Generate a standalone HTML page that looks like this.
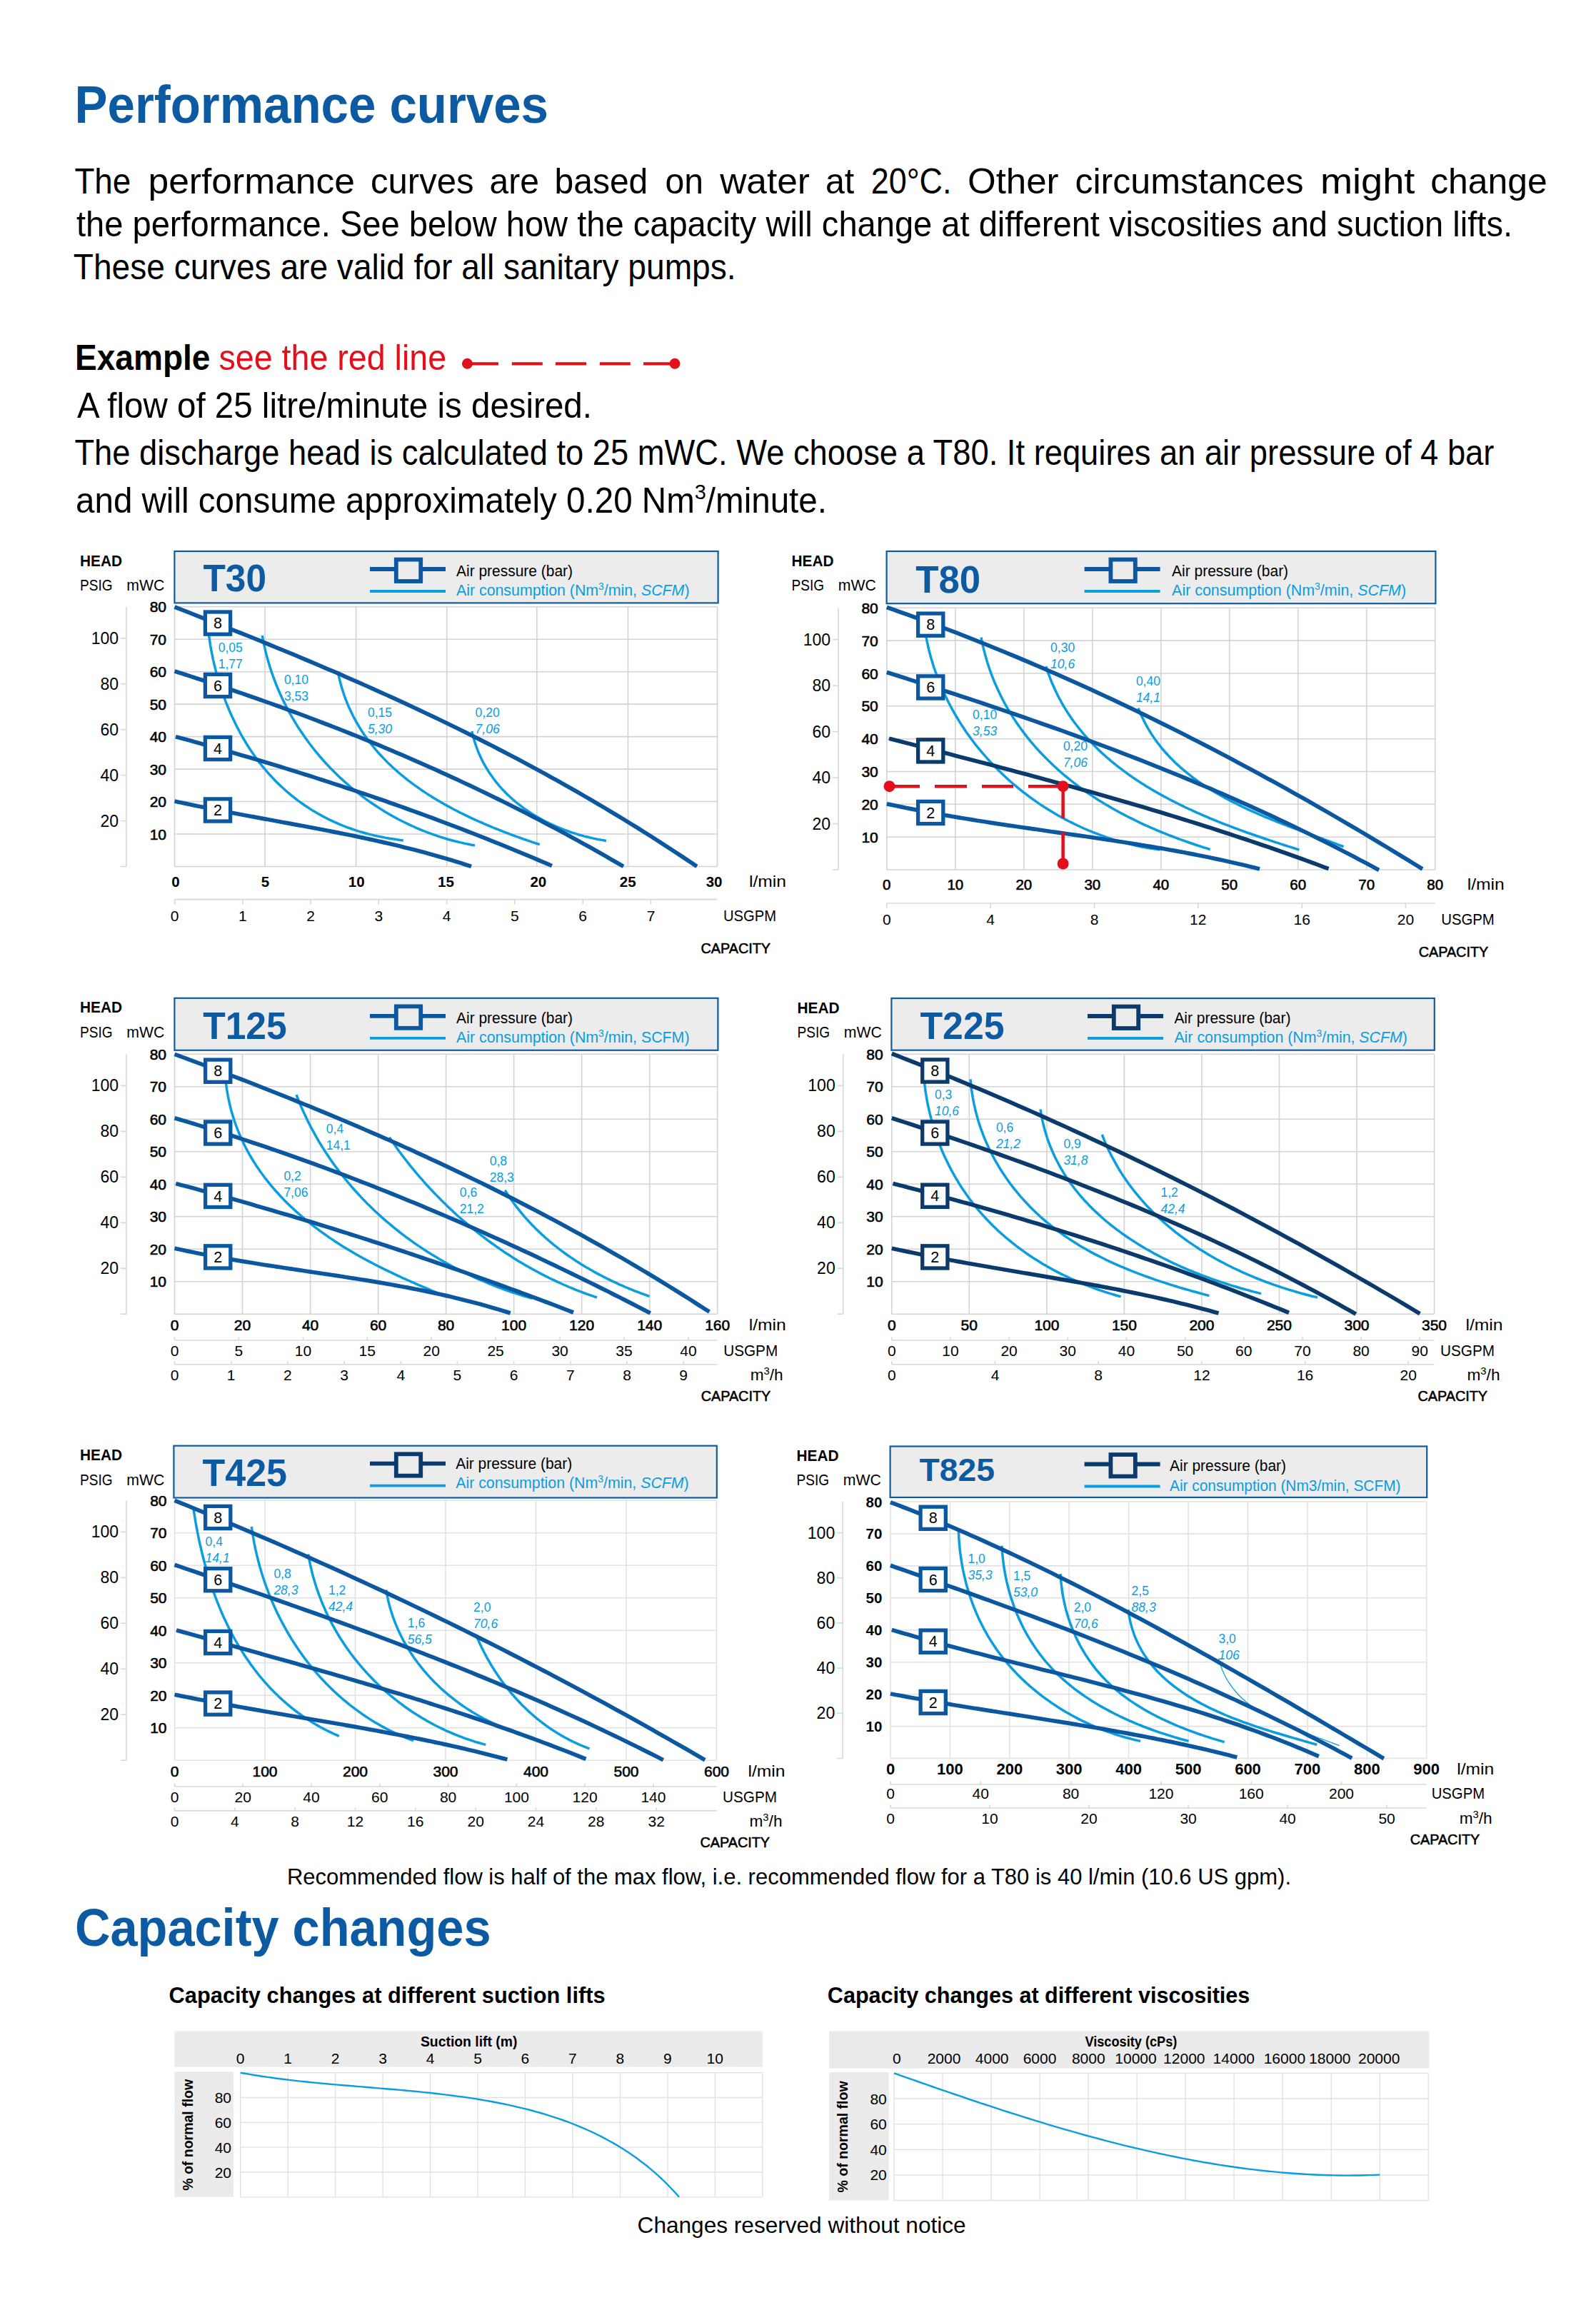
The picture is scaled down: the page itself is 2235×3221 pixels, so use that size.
<!DOCTYPE html>
<html><head><meta charset="utf-8"><title>Performance curves</title>
<style>html,body{margin:0;padding:0;background:#fff;} body{width:2235px;height:3221px;overflow:hidden;font-family:"Liberation Sans", sans-serif;} svg{display:block;}</style>
</head><body>
<svg width="2235" height="3221" viewBox="0 0 2235 3221" font-family='"Liberation Sans", sans-serif'><rect x="0" y="0" width="2235" height="3221" fill="#fff"/>
<text x="104.5" y="172.1" font-size="73.4" font-weight="bold" fill="#0b5aa2" textLength="663.5" lengthAdjust="spacingAndGlyphs">Performance curves</text>
<text x="104.4" y="271.1" font-size="49.4" textLength="78.9" lengthAdjust="spacingAndGlyphs">The</text>
<text x="207.5" y="271.1" font-size="49.4" textLength="289.5" lengthAdjust="spacingAndGlyphs">performance</text>
<text x="518.9" y="271.1" font-size="49.4" textLength="144.7" lengthAdjust="spacingAndGlyphs">curves</text>
<text x="685.5" y="271.1" font-size="49.4" textLength="69.3" lengthAdjust="spacingAndGlyphs">are</text>
<text x="776.6" y="271.1" font-size="49.4" textLength="130.7" lengthAdjust="spacingAndGlyphs">based</text>
<text x="931.4" y="271.1" font-size="49.4" textLength="53.5" lengthAdjust="spacingAndGlyphs">on</text>
<text x="1008.2" y="271.1" font-size="49.4" textLength="125.8" lengthAdjust="spacingAndGlyphs">water</text>
<text x="1156.0" y="271.1" font-size="49.4" textLength="40.3" lengthAdjust="spacingAndGlyphs">at</text>
<text x="1219.7" y="271.1" font-size="49.4" textLength="112.8" lengthAdjust="spacingAndGlyphs">20°C.</text>
<text x="1355.0" y="271.1" font-size="49.4" textLength="127.6" lengthAdjust="spacingAndGlyphs">Other</text>
<text x="1505.4" y="271.1" font-size="49.4" textLength="320.2" lengthAdjust="spacingAndGlyphs">circumstances</text>
<text x="1848.9" y="271.1" font-size="49.4" textLength="132.4" lengthAdjust="spacingAndGlyphs">might</text>
<text x="2003.2" y="271.1" font-size="49.4" textLength="163.4" lengthAdjust="spacingAndGlyphs">change</text>
<text x="107.0" y="330.9" font-size="49.4" textLength="2011.0" lengthAdjust="spacingAndGlyphs">the performance. See below how the capacity will change at different viscosities and suction lifts.</text>
<text x="102.8" y="391.0" font-size="49.4" textLength="927.8" lengthAdjust="spacingAndGlyphs">These curves are valid for all sanitary pumps.</text>
<text x="105.0" y="518.0" font-size="49.4" font-weight="bold" textLength="189.5" lengthAdjust="spacingAndGlyphs">Example</text>
<text x="306.4" y="518.0" font-size="49.4" fill="#e2101a" textLength="318.8" lengthAdjust="spacingAndGlyphs">see the red line</text>
<line x1="654.4" y1="509.3" x2="698.0" y2="509.3" stroke="#e2101a" stroke-width="4.2" />
<line x1="716.8" y1="509.3" x2="759.8" y2="509.3" stroke="#e2101a" stroke-width="4.2" />
<line x1="778.0" y1="509.3" x2="821.0" y2="509.3" stroke="#e2101a" stroke-width="4.2" />
<line x1="839.8" y1="509.3" x2="882.8" y2="509.3" stroke="#e2101a" stroke-width="4.2" />
<line x1="901.0" y1="509.3" x2="945.0" y2="509.3" stroke="#e2101a" stroke-width="4.2" />
<circle cx="654.4" cy="509.3" r="7.5" fill="#e2101a"/>
<circle cx="945" cy="509.3" r="7.5" fill="#e2101a"/>
<text x="108.0" y="584.7" font-size="49.4" textLength="721.0" lengthAdjust="spacingAndGlyphs">A flow of 25 litre/minute is desired.</text>
<text x="104.4" y="650.7" font-size="49.4" textLength="1988.0" lengthAdjust="spacingAndGlyphs">The discharge head is calculated to 25 mWC. We choose a T80. It requires an air pressure of 4 bar</text>
<text x="106.0" y="717.5" font-size="49.4" textLength="1052.0" lengthAdjust="spacingAndGlyphs">and will consume approximately 0.20 Nm<tspan font-size="30" dy="-19">3</tspan><tspan dy="19">/minute.</tspan></text>
<rect x="244.4" y="772.0" width="761.2" height="72.4" fill="#ececec" stroke="#0f5c9e" stroke-width="2.2" />
<text x="284.5" y="828.3" font-size="53" font-weight="bold" fill="#0b5aa2" textLength="88.5" lengthAdjust="spacingAndGlyphs">T30</text>
<line x1="518.0" y1="797.0" x2="624.0" y2="797.0" stroke="#0b57a0" stroke-width="5.8" />
<rect x="554.8" y="783.6" width="34.4" height="30.4" fill="#ececec" stroke="#0b57a0" stroke-width="5.8" />
<line x1="518.0" y1="828.0" x2="624.0" y2="828.0" stroke="#0a9de0" stroke-width="3.8" />
<text x="639.0" y="806.8" font-size="21.5" textLength="163.0" lengthAdjust="spacingAndGlyphs">Air pressure (bar)</text>
<text x="639.0" y="834.2" font-size="21.5" fill="#0a9de0" textLength="326.5" lengthAdjust="spacingAndGlyphs">Air consumption (Nm<tspan font-size="14" dy="-8">3</tspan><tspan dy="8">/min, </tspan><tspan font-style="italic">SCFM</tspan>)</text>
<text x="112.0" y="792.5" font-size="21.5" font-weight="bold" textLength="59.0" lengthAdjust="spacingAndGlyphs">HEAD</text>
<text x="112.0" y="826.8" font-size="21.5" textLength="45.5" lengthAdjust="spacingAndGlyphs">PSIG</text>
<text x="177.3" y="826.8" font-size="21.5" textLength="53.0" lengthAdjust="spacingAndGlyphs">mWC</text>
<line x1="244.5" y1="1213.5" x2="1004.5" y2="1213.5" stroke="#d3d3d3" stroke-width="1.6" />
<line x1="244.5" y1="1168.0" x2="1004.5" y2="1168.0" stroke="#d3d3d3" stroke-width="1.6" />
<line x1="244.5" y1="1122.5" x2="1004.5" y2="1122.5" stroke="#d3d3d3" stroke-width="1.6" />
<line x1="244.5" y1="1077.1" x2="1004.5" y2="1077.1" stroke="#d3d3d3" stroke-width="1.6" />
<line x1="244.5" y1="1031.6" x2="1004.5" y2="1031.6" stroke="#d3d3d3" stroke-width="1.6" />
<line x1="244.5" y1="986.1" x2="1004.5" y2="986.1" stroke="#d3d3d3" stroke-width="1.6" />
<line x1="244.5" y1="940.7" x2="1004.5" y2="940.7" stroke="#d3d3d3" stroke-width="1.6" />
<line x1="244.5" y1="895.2" x2="1004.5" y2="895.2" stroke="#d3d3d3" stroke-width="1.6" />
<line x1="244.5" y1="849.7" x2="1004.5" y2="849.7" stroke="#d3d3d3" stroke-width="1.6" />
<line x1="244.5" y1="849.7" x2="244.5" y2="1213.5" stroke="#d3d3d3" stroke-width="1.6" />
<line x1="371.0" y1="849.7" x2="371.0" y2="1213.5" stroke="#d3d3d3" stroke-width="1.6" />
<line x1="498.6" y1="849.7" x2="498.6" y2="1213.5" stroke="#d3d3d3" stroke-width="1.6" />
<line x1="625.7" y1="849.7" x2="625.7" y2="1213.5" stroke="#d3d3d3" stroke-width="1.6" />
<line x1="751.8" y1="849.7" x2="751.8" y2="1213.5" stroke="#d3d3d3" stroke-width="1.6" />
<line x1="879.5" y1="849.7" x2="879.5" y2="1213.5" stroke="#d3d3d3" stroke-width="1.6" />
<line x1="1004.5" y1="849.7" x2="1004.5" y2="1213.5" stroke="#d3d3d3" stroke-width="1.6" />
<text x="233.0" y="1175.5" font-size="21" stroke="#000" stroke-width="0.6" text-anchor="end">10</text>
<text x="233.0" y="1130.0" font-size="21" stroke="#000" stroke-width="0.6" text-anchor="end">20</text>
<text x="233.0" y="1084.6" font-size="21" stroke="#000" stroke-width="0.6" text-anchor="end">30</text>
<text x="233.0" y="1039.1" font-size="21" stroke="#000" stroke-width="0.6" text-anchor="end">40</text>
<text x="233.0" y="993.6" font-size="21" stroke="#000" stroke-width="0.6" text-anchor="end">50</text>
<text x="233.0" y="948.2" font-size="21" stroke="#000" stroke-width="0.6" text-anchor="end">60</text>
<text x="233.0" y="902.7" font-size="21" stroke="#000" stroke-width="0.6" text-anchor="end">70</text>
<text x="233.0" y="857.2" font-size="21" stroke="#000" stroke-width="0.6" text-anchor="end">80</text>
<line x1="177.0" y1="849.7" x2="177.0" y2="1213.5" stroke="#d8d8d8" stroke-width="1.6" />
<line x1="169.0" y1="1213.5" x2="177.0" y2="1213.5" stroke="#d8d8d8" stroke-width="1.6" />
<line x1="169.0" y1="1149.6" x2="177.0" y2="1149.6" stroke="#d8d8d8" stroke-width="1.6" />
<text x="166.0" y="1157.6" font-size="23" text-anchor="end">20</text>
<line x1="169.0" y1="1085.6" x2="177.0" y2="1085.6" stroke="#d8d8d8" stroke-width="1.6" />
<text x="166.0" y="1093.6" font-size="23" text-anchor="end">40</text>
<line x1="169.0" y1="1021.7" x2="177.0" y2="1021.7" stroke="#d8d8d8" stroke-width="1.6" />
<text x="166.0" y="1029.7" font-size="23" text-anchor="end">60</text>
<line x1="169.0" y1="957.7" x2="177.0" y2="957.7" stroke="#d8d8d8" stroke-width="1.6" />
<text x="166.0" y="965.7" font-size="23" text-anchor="end">80</text>
<line x1="169.0" y1="893.8" x2="177.0" y2="893.8" stroke="#d8d8d8" stroke-width="1.6" />
<text x="166.0" y="901.8" font-size="23" text-anchor="end">100</text>
<text x="245.9" y="1241.5" font-size="20.5" font-weight="bold" text-anchor="middle">0</text>
<text x="371.4" y="1241.5" font-size="20.5" font-weight="bold" text-anchor="middle">5</text>
<text x="499.2" y="1241.5" font-size="20.5" font-weight="bold" text-anchor="middle">10</text>
<text x="624.4" y="1241.5" font-size="20.5" font-weight="bold" text-anchor="middle">15</text>
<text x="753.8" y="1241.5" font-size="20.5" font-weight="bold" text-anchor="middle">20</text>
<text x="879.2" y="1241.5" font-size="20.5" font-weight="bold" text-anchor="middle">25</text>
<text x="1000.1" y="1241.5" font-size="20.5" font-weight="bold" text-anchor="middle">30</text>
<text x="1049.0" y="1241.5" font-size="22" textLength="52.0" lengthAdjust="spacingAndGlyphs">l/min</text>
<line x1="244.5" y1="1259.6" x2="1004.5" y2="1259.6" stroke="#d8d8d8" stroke-width="1.6" />
<line x1="244.5" y1="1259.6" x2="244.5" y2="1266.6" stroke="#d8d8d8" stroke-width="1.6" />
<text x="244.5" y="1289.5" font-size="21" text-anchor="middle">0</text>
<line x1="339.8" y1="1259.6" x2="339.8" y2="1266.6" stroke="#d8d8d8" stroke-width="1.6" />
<text x="339.8" y="1289.5" font-size="21" text-anchor="middle">1</text>
<line x1="435.1" y1="1259.6" x2="435.1" y2="1266.6" stroke="#d8d8d8" stroke-width="1.6" />
<text x="435.1" y="1289.5" font-size="21" text-anchor="middle">2</text>
<line x1="530.3" y1="1259.6" x2="530.3" y2="1266.6" stroke="#d8d8d8" stroke-width="1.6" />
<text x="530.3" y="1289.5" font-size="21" text-anchor="middle">3</text>
<line x1="625.6" y1="1259.6" x2="625.6" y2="1266.6" stroke="#d8d8d8" stroke-width="1.6" />
<text x="625.6" y="1289.5" font-size="21" text-anchor="middle">4</text>
<line x1="720.9" y1="1259.6" x2="720.9" y2="1266.6" stroke="#d8d8d8" stroke-width="1.6" />
<text x="720.9" y="1289.5" font-size="21" text-anchor="middle">5</text>
<line x1="816.2" y1="1259.6" x2="816.2" y2="1266.6" stroke="#d8d8d8" stroke-width="1.6" />
<text x="816.2" y="1289.5" font-size="21" text-anchor="middle">6</text>
<line x1="911.5" y1="1259.6" x2="911.5" y2="1266.6" stroke="#d8d8d8" stroke-width="1.6" />
<text x="911.5" y="1289.5" font-size="21" text-anchor="middle">7</text>
<text x="1013.0" y="1289.5" font-size="21.5" textLength="74.0" lengthAdjust="spacingAndGlyphs">USGPM</text>
<text x="981.5" y="1335.2" font-size="20.5" stroke="#000" stroke-width="0.6" textLength="97.5" lengthAdjust="spacingAndGlyphs">CAPACITY</text>
<path d="M292.6,890.0 L293.2,894.2 L293.8,898.3 L294.4,902.5 L295.1,906.7 L295.9,910.9 L296.7,915.1 L297.6,919.4 L298.4,923.6 L299.4,927.8 L300.4,932.0 L301.4,936.2 L302.5,940.5 L303.7,944.7 L304.8,948.9 L306.1,953.1 L307.3,957.3 L308.7,961.5 L310.0,965.7 L311.5,969.8 L312.9,974.0 L314.5,978.1 L316.0,982.3 L317.6,986.4 L319.3,990.5 L321.0,994.6 L322.7,998.6 L324.5,1002.6 L326.4,1006.6 L328.3,1010.6 L330.2,1014.6 L332.2,1018.5 L334.3,1022.4 L336.3,1026.3 L338.5,1030.1 L340.6,1034.0 L342.9,1037.7 L345.1,1041.5 L347.5,1045.2 L349.8,1048.8 L352.2,1052.5 L354.7,1056.1 L357.2,1059.6 L359.7,1063.1 L362.3,1066.6 L365.0,1070.0 L367.7,1073.3 L370.4,1076.7 L373.2,1079.9 L376.0,1083.1 L378.9,1086.3 L381.8,1089.4 L384.7,1092.5 L387.7,1095.6 L390.8,1098.5 L393.9,1101.5 L397.0,1104.3 L400.2,1107.2 L403.4,1110.0 L406.6,1112.7 L409.9,1115.4 L413.3,1118.0 L416.6,1120.6 L420.0,1123.1 L423.5,1125.5 L427.0,1128.0 L430.5,1130.3 L434.0,1132.6 L437.6,1134.9 L441.3,1137.1 L444.9,1139.2 L448.6,1141.3 L452.4,1143.4 L456.1,1145.3 L459.9,1147.2 L463.8,1149.1 L467.7,1150.9 L471.6,1152.7 L475.5,1154.4 L479.5,1156.0 L483.5,1157.6 L487.5,1159.1 L491.5,1160.5 L495.6,1161.9 L499.8,1163.3 L503.9,1164.6 L508.1,1165.8 L512.3,1167.0 L516.5,1168.1 L520.8,1169.1 L525.1,1170.2 L529.4,1171.1 L533.7,1172.0 L538.1,1172.9 L542.5,1173.7 L546.9,1174.4 L551.3,1175.1 L555.8,1175.8 L560.3,1176.4 L564.8,1177.0" fill="none" stroke="#0a9de0" stroke-width="3.5" stroke-linecap="butt" stroke-linejoin="round"/>
<path d="M367.3,890.0 L368.1,894.5 L369.0,899.0 L369.9,903.4 L370.9,907.9 L371.9,912.3 L373.0,916.7 L374.2,921.1 L375.4,925.4 L376.7,929.8 L378.0,934.1 L379.4,938.4 L380.8,942.7 L382.3,946.9 L383.9,951.2 L385.5,955.4 L387.1,959.5 L388.8,963.7 L390.6,967.8 L392.4,972.0 L394.3,976.0 L396.2,980.1 L398.2,984.1 L400.2,988.1 L402.2,992.1 L404.3,996.1 L406.5,1000.0 L408.7,1003.9 L411.0,1007.7 L413.3,1011.6 L415.6,1015.4 L418.0,1019.2 L420.5,1022.9 L423.0,1026.6 L425.5,1030.3 L428.1,1034.0 L430.7,1037.6 L433.4,1041.2 L436.1,1044.8 L438.8,1048.3 L441.6,1051.8 L444.5,1055.2 L447.3,1058.7 L450.3,1062.0 L453.2,1065.4 L456.2,1068.7 L459.3,1072.0 L462.3,1075.2 L465.5,1078.5 L468.6,1081.6 L471.8,1084.8 L475.0,1087.9 L478.3,1090.9 L481.6,1093.9 L485.0,1096.9 L488.3,1099.9 L491.7,1102.8 L495.2,1105.6 L498.7,1108.4 L502.2,1111.2 L505.7,1114.0 L509.3,1116.7 L512.9,1119.3 L516.5,1121.9 L520.2,1124.5 L523.9,1127.0 L527.7,1129.5 L531.4,1131.9 L535.2,1134.3 L539.0,1136.7 L542.9,1139.0 L546.8,1141.2 L550.7,1143.4 L554.6,1145.6 L558.6,1147.7 L562.6,1149.8 L566.6,1151.8 L570.6,1153.7 L574.7,1155.7 L578.8,1157.5 L582.9,1159.4 L587.0,1161.1 L591.2,1162.8 L595.4,1164.5 L599.6,1166.1 L603.8,1167.7 L608.1,1169.2 L612.3,1170.7 L616.6,1172.1 L620.9,1173.4 L625.2,1174.7 L629.6,1176.0 L634.0,1177.2 L638.3,1178.3 L642.8,1179.4 L647.2,1180.4 L651.6,1181.4 L656.1,1182.3 L660.5,1183.2 L665.0,1184.0" fill="none" stroke="#0a9de0" stroke-width="3.5" stroke-linecap="butt" stroke-linejoin="round"/>
<path d="M473.0,940.0 L473.8,944.2 L474.8,948.3 L475.7,952.4 L476.8,956.5 L477.9,960.5 L479.0,964.5 L480.3,968.4 L481.6,972.3 L482.9,976.1 L484.3,979.9 L485.8,983.6 L487.3,987.4 L488.9,991.0 L490.6,994.6 L492.3,998.2 L494.0,1001.8 L495.8,1005.3 L497.7,1008.7 L499.6,1012.1 L501.6,1015.5 L503.6,1018.9 L505.6,1022.2 L507.8,1025.4 L509.9,1028.7 L512.1,1031.8 L514.4,1035.0 L516.7,1038.1 L519.1,1041.2 L521.5,1044.2 L523.9,1047.2 L526.4,1050.2 L528.9,1053.1 L531.5,1056.0 L534.1,1058.8 L536.8,1061.6 L539.5,1064.4 L542.2,1067.2 L545.0,1069.9 L547.8,1072.6 L550.6,1075.2 L553.5,1077.8 L556.4,1080.4 L559.4,1083.0 L562.4,1085.5 L565.4,1087.9 L568.5,1090.4 L571.5,1092.8 L574.6,1095.2 L577.8,1097.6 L581.0,1099.9 L584.2,1102.2 L587.4,1104.4 L590.6,1106.7 L593.9,1108.9 L597.2,1111.1 L600.5,1113.2 L603.9,1115.3 L607.3,1117.4 L610.7,1119.5 L614.1,1121.5 L617.5,1123.5 L621.0,1125.5 L624.5,1127.5 L628.0,1129.4 L631.5,1131.3 L635.0,1133.2 L638.6,1135.0 L642.1,1136.9 L645.7,1138.7 L649.3,1140.4 L652.9,1142.2 L656.5,1143.9 L660.1,1145.6 L663.8,1147.3 L667.4,1149.0 L671.1,1150.6 L674.7,1152.2 L678.4,1153.8 L682.1,1155.4 L685.7,1156.9 L689.4,1158.5 L693.1,1160.0 L696.8,1161.4 L700.5,1162.9 L704.2,1164.4 L707.9,1165.8 L711.6,1167.2 L715.3,1168.6 L719.0,1170.0 L722.7,1171.3 L726.4,1172.6 L730.1,1174.0 L733.8,1175.3 L737.5,1176.5 L741.2,1177.8 L744.8,1179.1 L748.5,1180.3 L752.1,1181.5 L755.8,1182.7" fill="none" stroke="#0a9de0" stroke-width="3.5" stroke-linecap="butt" stroke-linejoin="round"/>
<path d="M660.8,1024.0 L661.4,1026.7 L662.1,1029.4 L662.8,1032.0 L663.5,1034.7 L664.3,1037.3 L665.1,1039.9 L665.9,1042.4 L666.8,1045.0 L667.7,1047.5 L668.6,1050.0 L669.6,1052.5 L670.6,1054.9 L671.7,1057.3 L672.8,1059.7 L673.9,1062.1 L675.1,1064.4 L676.2,1066.8 L677.5,1069.1 L678.7,1071.3 L680.0,1073.6 L681.3,1075.8 L682.7,1078.0 L684.0,1080.2 L685.5,1082.4 L686.9,1084.5 L688.4,1086.6 L689.9,1088.7 L691.4,1090.8 L692.9,1092.8 L694.5,1094.9 L696.1,1096.9 L697.8,1098.8 L699.4,1100.8 L701.1,1102.7 L702.8,1104.6 L704.6,1106.5 L706.4,1108.3 L708.2,1110.2 L710.0,1112.0 L711.8,1113.8 L713.7,1115.5 L715.6,1117.3 L717.5,1119.0 L719.4,1120.7 L721.4,1122.3 L723.3,1124.0 L725.3,1125.6 L727.4,1127.2 L729.4,1128.7 L731.5,1130.3 L733.5,1131.8 L735.6,1133.3 L737.8,1134.8 L739.9,1136.3 L742.1,1137.7 L744.2,1139.1 L746.4,1140.5 L748.6,1141.8 L750.9,1143.2 L753.1,1144.5 L755.4,1145.8 L757.6,1147.0 L759.9,1148.3 L762.2,1149.5 L764.5,1150.7 L766.9,1151.9 L769.2,1153.0 L771.6,1154.1 L773.9,1155.2 L776.3,1156.3 L778.7,1157.4 L781.1,1158.4 L783.5,1159.4 L786.0,1160.4 L788.4,1161.4 L790.8,1162.3 L793.3,1163.2 L795.8,1164.1 L798.2,1165.0 L800.7,1165.8 L803.2,1166.6 L805.7,1167.4 L808.2,1168.2 L810.7,1169.0 L813.3,1169.7 L815.8,1170.4 L818.3,1171.1 L820.9,1171.7 L823.4,1172.3 L825.9,1173.0 L828.5,1173.5 L831.1,1174.1 L833.6,1174.6 L836.2,1175.2 L838.7,1175.7 L841.3,1176.1 L843.9,1176.6 L846.4,1177.0 L849.0,1177.4" fill="none" stroke="#0a9de0" stroke-width="3.5" stroke-linecap="butt" stroke-linejoin="round"/>
<path d="M244.5,850.0 L253.8,853.6 L263.0,857.2 L272.3,860.8 L281.5,864.5 L290.8,868.1 L300.0,871.7 L309.3,875.4 L318.6,879.1 L327.8,882.8 L337.1,886.5 L346.3,890.2 L355.6,893.9 L364.9,897.7 L374.1,901.5 L383.4,905.3 L392.6,909.1 L401.9,912.9 L411.1,916.7 L420.4,920.6 L429.7,924.5 L438.9,928.4 L448.2,932.3 L457.4,936.3 L466.7,940.2 L476.0,944.2 L485.2,948.3 L494.5,952.3 L503.7,956.4 L513.0,960.5 L522.2,964.6 L531.5,968.8 L540.8,973.0 L550.0,977.2 L559.3,981.4 L568.5,985.7 L577.8,990.0 L587.1,994.3 L596.3,998.7 L605.6,1003.1 L614.8,1007.5 L624.1,1012.0 L633.3,1016.5 L642.6,1021.0 L651.9,1025.6 L661.1,1030.2 L670.4,1034.9 L679.6,1039.6 L688.9,1044.3 L698.2,1049.1 L707.4,1053.9 L716.7,1058.7 L725.9,1063.6 L735.2,1068.5 L744.4,1073.5 L753.7,1078.5 L763.0,1083.6 L772.2,1088.7 L781.5,1093.8 L790.7,1099.0 L800.0,1104.2 L809.3,1109.5 L818.5,1114.9 L827.8,1120.2 L837.0,1125.7 L846.3,1131.1 L855.5,1136.7 L864.8,1142.3 L874.1,1147.9 L883.3,1153.6 L892.6,1159.3 L901.8,1165.1 L911.1,1170.9 L920.4,1176.8 L929.6,1182.8 L938.9,1188.8 L948.1,1194.9 L957.4,1201.0 L966.6,1207.2 L975.9,1213.4" fill="none" stroke="#0b57a0" stroke-width="5.7" stroke-linecap="butt" stroke-linejoin="round"/>
<path d="M244.5,940.0 L252.5,942.5 L260.4,945.0 L268.4,947.6 L276.3,950.2 L284.3,952.8 L292.2,955.4 L300.2,958.0 L308.1,960.6 L316.1,963.3 L324.1,966.0 L332.0,968.7 L340.0,971.4 L347.9,974.2 L355.9,977.0 L363.8,979.8 L371.8,982.6 L379.7,985.4 L387.7,988.3 L395.7,991.1 L403.6,994.1 L411.6,997.0 L419.5,999.9 L427.5,1002.9 L435.4,1005.9 L443.4,1008.9 L451.3,1012.0 L459.3,1015.0 L467.3,1018.1 L475.2,1021.2 L483.2,1024.4 L491.1,1027.5 L499.1,1030.7 L507.0,1033.9 L515.0,1037.2 L522.9,1040.5 L530.9,1043.7 L538.9,1047.1 L546.8,1050.4 L554.8,1053.8 L562.7,1057.2 L570.7,1060.6 L578.6,1064.1 L586.6,1067.6 L594.6,1071.1 L602.5,1074.6 L610.5,1078.2 L618.4,1081.8 L626.4,1085.4 L634.3,1089.1 L642.3,1092.7 L650.2,1096.5 L658.2,1100.2 L666.2,1104.0 L674.1,1107.8 L682.1,1111.6 L690.0,1115.5 L698.0,1119.4 L705.9,1123.3 L713.9,1127.3 L721.8,1131.3 L729.8,1135.3 L737.8,1139.3 L745.7,1143.4 L753.7,1147.5 L761.6,1151.7 L769.6,1155.9 L777.5,1160.1 L785.5,1164.3 L793.4,1168.6 L801.4,1173.0 L809.4,1177.3 L817.3,1181.7 L825.3,1186.1 L833.2,1190.6 L841.2,1195.1 L849.1,1199.6 L857.1,1204.2 L865.0,1208.8 L873.0,1213.4" fill="none" stroke="#0b57a0" stroke-width="5.7" stroke-linecap="butt" stroke-linejoin="round"/>
<path d="M246.0,1031.7 L252.7,1033.5 L259.3,1035.3 L266.0,1037.1 L272.7,1039.0 L279.3,1040.8 L286.0,1042.7 L292.7,1044.5 L299.4,1046.4 L306.0,1048.3 L312.7,1050.2 L319.4,1052.1 L326.0,1054.0 L332.7,1055.9 L339.4,1057.9 L346.0,1059.8 L352.7,1061.8 L359.4,1063.8 L366.1,1065.8 L372.7,1067.8 L379.4,1069.8 L386.1,1071.8 L392.7,1073.8 L399.4,1075.9 L406.1,1078.0 L412.7,1080.0 L419.4,1082.1 L426.1,1084.2 L432.7,1086.3 L439.4,1088.4 L446.1,1090.6 L452.8,1092.7 L459.4,1094.9 L466.1,1097.1 L472.8,1099.2 L479.4,1101.4 L486.1,1103.7 L492.8,1105.9 L499.4,1108.1 L506.1,1110.4 L512.8,1112.6 L519.5,1114.9 L526.1,1117.2 L532.8,1119.5 L539.5,1121.8 L546.1,1124.2 L552.8,1126.5 L559.5,1128.9 L566.1,1131.3 L572.8,1133.7 L579.5,1136.1 L586.2,1138.5 L592.8,1140.9 L599.5,1143.4 L606.2,1145.8 L612.8,1148.3 L619.5,1150.8 L626.2,1153.3 L632.8,1155.8 L639.5,1158.4 L646.2,1160.9 L652.8,1163.5 L659.5,1166.1 L666.2,1168.7 L672.9,1171.3 L679.5,1173.9 L686.2,1176.6 L692.9,1179.3 L699.5,1181.9 L706.2,1184.6 L712.9,1187.4 L719.5,1190.1 L726.2,1192.8 L732.9,1195.6 L739.6,1198.4 L746.2,1201.2 L752.9,1204.0 L759.6,1206.8 L766.2,1209.6 L772.9,1212.5" fill="none" stroke="#0b57a0" stroke-width="5.7" stroke-linecap="butt" stroke-linejoin="round"/>
<path d="M244.5,1122.0 L249.8,1123.2 L255.0,1124.3 L260.3,1125.4 L265.5,1126.5 L270.8,1127.6 L276.1,1128.7 L281.3,1129.8 L286.6,1130.8 L291.8,1131.9 L297.1,1132.9 L302.4,1134.0 L307.6,1135.0 L312.9,1136.0 L318.1,1137.0 L323.4,1138.0 L328.7,1139.0 L333.9,1140.0 L339.2,1141.0 L344.4,1142.0 L349.7,1143.0 L354.9,1143.9 L360.2,1144.9 L365.5,1145.9 L370.7,1146.9 L376.0,1147.8 L381.2,1148.8 L386.5,1149.7 L391.8,1150.7 L397.0,1151.7 L402.3,1152.6 L407.5,1153.6 L412.8,1154.6 L418.1,1155.6 L423.3,1156.5 L428.6,1157.5 L433.8,1158.5 L439.1,1159.5 L444.4,1160.5 L449.6,1161.5 L454.9,1162.5 L460.1,1163.5 L465.4,1164.6 L470.7,1165.6 L475.9,1166.6 L481.2,1167.7 L486.4,1168.8 L491.7,1169.8 L497.0,1170.9 L502.2,1172.0 L507.5,1173.1 L512.7,1174.3 L518.0,1175.4 L523.3,1176.5 L528.5,1177.7 L533.8,1178.9 L539.0,1180.1 L544.3,1181.3 L549.6,1182.5 L554.8,1183.8 L560.1,1185.1 L565.3,1186.4 L570.6,1187.7 L575.8,1189.0 L581.1,1190.3 L586.4,1191.7 L591.6,1193.1 L596.9,1194.5 L602.1,1195.9 L607.4,1197.4 L612.7,1198.9 L617.9,1200.4 L623.2,1201.9 L628.4,1203.5 L633.7,1205.1 L639.0,1206.7 L644.2,1208.3 L649.5,1210.0 L654.7,1211.7 L660.0,1213.4" fill="none" stroke="#0b57a0" stroke-width="5.7" stroke-linecap="butt" stroke-linejoin="round"/>
<rect x="287.4" y="857.0" width="35.2" height="31.2" fill="#fff" stroke="#0b57a0" stroke-width="5.3" />
<text x="305.0" y="880.2" font-size="21.5" text-anchor="middle">8</text>
<rect x="287.4" y="944.4" width="35.2" height="31.2" fill="#fff" stroke="#0b57a0" stroke-width="5.3" />
<text x="305.0" y="967.6" font-size="21.5" text-anchor="middle">6</text>
<rect x="287.4" y="1032.4" width="35.2" height="31.2" fill="#fff" stroke="#0b57a0" stroke-width="5.3" />
<text x="305.0" y="1055.6" font-size="21.5" text-anchor="middle">4</text>
<rect x="287.4" y="1118.9" width="35.2" height="31.2" fill="#fff" stroke="#0b57a0" stroke-width="5.3" />
<text x="305.0" y="1142.1" font-size="21.5" text-anchor="middle">2</text>
<text x="305.7" y="913.4" font-size="17.5" fill="#0a9de0">0,05</text>
<text x="305.7" y="936.4" font-size="17.5" fill="#0a9de0">1,77</text>
<text x="397.9" y="957.8" font-size="17.5" fill="#0a9de0">0,10</text>
<text x="397.9" y="980.8" font-size="17.5" fill="#0a9de0">3,53</text>
<text x="515.0" y="1004.0" font-size="17.5" fill="#0a9de0">0,15</text>
<text x="515.0" y="1027.0" font-size="17.5" fill="#0a9de0" font-style="italic">5,30</text>
<text x="665.6" y="1004.2" font-size="17.5" fill="#0a9de0">0,20</text>
<text x="665.6" y="1027.2" font-size="17.5" fill="#0a9de0" font-style="italic">7,06</text>
<rect x="1241.6" y="772.0" width="768.8" height="73.2" fill="#ececec" stroke="#0f5c9e" stroke-width="2.2" />
<text x="1282.2" y="829.7" font-size="53" font-weight="bold" fill="#0b5aa2" textLength="91.0" lengthAdjust="spacingAndGlyphs">T80</text>
<line x1="1518.6" y1="797.0" x2="1624.6" y2="797.0" stroke="#0b57a0" stroke-width="5.8" />
<rect x="1555.4" y="783.6" width="34.4" height="30.4" fill="#ececec" stroke="#0b57a0" stroke-width="5.8" />
<line x1="1518.6" y1="828.0" x2="1624.6" y2="828.0" stroke="#0a9de0" stroke-width="3.8" />
<text x="1641.1" y="806.8" font-size="21.5" textLength="163.0" lengthAdjust="spacingAndGlyphs">Air pressure (bar)</text>
<text x="1641.1" y="834.2" font-size="21.5" fill="#0a9de0" textLength="328.0" lengthAdjust="spacingAndGlyphs">Air consumption (Nm<tspan font-size="14" dy="-8">3</tspan><tspan dy="8">/min, </tspan><tspan font-style="italic">SCFM</tspan>)</text>
<text x="1108.5" y="792.5" font-size="21.5" font-weight="bold" textLength="59.0" lengthAdjust="spacingAndGlyphs">HEAD</text>
<text x="1108.5" y="826.8" font-size="21.5" textLength="45.5" lengthAdjust="spacingAndGlyphs">PSIG</text>
<text x="1173.8" y="826.8" font-size="21.5" textLength="53.0" lengthAdjust="spacingAndGlyphs">mWC</text>
<line x1="1241.8" y1="1218.0" x2="2009.7" y2="1218.0" stroke="#d3d3d3" stroke-width="1.6" />
<line x1="1241.8" y1="1172.2" x2="2009.7" y2="1172.2" stroke="#d3d3d3" stroke-width="1.6" />
<line x1="1241.8" y1="1126.3" x2="2009.7" y2="1126.3" stroke="#d3d3d3" stroke-width="1.6" />
<line x1="1241.8" y1="1080.5" x2="2009.7" y2="1080.5" stroke="#d3d3d3" stroke-width="1.6" />
<line x1="1241.8" y1="1034.7" x2="2009.7" y2="1034.7" stroke="#d3d3d3" stroke-width="1.6" />
<line x1="1241.8" y1="988.8" x2="2009.7" y2="988.8" stroke="#d3d3d3" stroke-width="1.6" />
<line x1="1241.8" y1="943.0" x2="2009.7" y2="943.0" stroke="#d3d3d3" stroke-width="1.6" />
<line x1="1241.8" y1="897.1" x2="2009.7" y2="897.1" stroke="#d3d3d3" stroke-width="1.6" />
<line x1="1241.8" y1="851.3" x2="2009.7" y2="851.3" stroke="#d3d3d3" stroke-width="1.6" />
<line x1="1241.8" y1="851.3" x2="1241.8" y2="1218.0" stroke="#d3d3d3" stroke-width="1.6" />
<line x1="1337.8" y1="851.3" x2="1337.8" y2="1218.0" stroke="#d3d3d3" stroke-width="1.6" />
<line x1="1433.8" y1="851.3" x2="1433.8" y2="1218.0" stroke="#d3d3d3" stroke-width="1.6" />
<line x1="1529.8" y1="851.3" x2="1529.8" y2="1218.0" stroke="#d3d3d3" stroke-width="1.6" />
<line x1="1625.8" y1="851.3" x2="1625.8" y2="1218.0" stroke="#d3d3d3" stroke-width="1.6" />
<line x1="1721.7" y1="851.3" x2="1721.7" y2="1218.0" stroke="#d3d3d3" stroke-width="1.6" />
<line x1="1817.7" y1="851.3" x2="1817.7" y2="1218.0" stroke="#d3d3d3" stroke-width="1.6" />
<line x1="1913.7" y1="851.3" x2="1913.7" y2="1218.0" stroke="#d3d3d3" stroke-width="1.6" />
<line x1="2009.7" y1="851.3" x2="2009.7" y2="1218.0" stroke="#d3d3d3" stroke-width="1.6" />
<text x="1229.8" y="1179.7" font-size="21" stroke="#000" stroke-width="0.6" text-anchor="end">10</text>
<text x="1229.8" y="1133.8" font-size="21" stroke="#000" stroke-width="0.6" text-anchor="end">20</text>
<text x="1229.8" y="1088.0" font-size="21" stroke="#000" stroke-width="0.6" text-anchor="end">30</text>
<text x="1229.8" y="1042.2" font-size="21" stroke="#000" stroke-width="0.6" text-anchor="end">40</text>
<text x="1229.8" y="996.3" font-size="21" stroke="#000" stroke-width="0.6" text-anchor="end">50</text>
<text x="1229.8" y="950.5" font-size="21" stroke="#000" stroke-width="0.6" text-anchor="end">60</text>
<text x="1229.8" y="904.6" font-size="21" stroke="#000" stroke-width="0.6" text-anchor="end">70</text>
<text x="1229.8" y="858.8" font-size="21" stroke="#000" stroke-width="0.6" text-anchor="end">80</text>
<line x1="1174.0" y1="851.3" x2="1174.0" y2="1218.0" stroke="#d8d8d8" stroke-width="1.6" />
<line x1="1166.0" y1="1218.0" x2="1174.0" y2="1218.0" stroke="#d8d8d8" stroke-width="1.6" />
<line x1="1166.0" y1="1153.5" x2="1174.0" y2="1153.5" stroke="#d8d8d8" stroke-width="1.6" />
<text x="1163.0" y="1161.5" font-size="23" text-anchor="end">20</text>
<line x1="1166.0" y1="1089.1" x2="1174.0" y2="1089.1" stroke="#d8d8d8" stroke-width="1.6" />
<text x="1163.0" y="1097.1" font-size="23" text-anchor="end">40</text>
<line x1="1166.0" y1="1024.6" x2="1174.0" y2="1024.6" stroke="#d8d8d8" stroke-width="1.6" />
<text x="1163.0" y="1032.6" font-size="23" text-anchor="end">60</text>
<line x1="1166.0" y1="960.2" x2="1174.0" y2="960.2" stroke="#d8d8d8" stroke-width="1.6" />
<text x="1163.0" y="968.2" font-size="23" text-anchor="end">80</text>
<line x1="1166.0" y1="895.7" x2="1174.0" y2="895.7" stroke="#d8d8d8" stroke-width="1.6" />
<text x="1163.0" y="903.7" font-size="23" text-anchor="end">100</text>
<text x="1241.8" y="1246.2" font-size="20.5" stroke="#000" stroke-width="0.6" text-anchor="middle">0</text>
<text x="1337.8" y="1246.2" font-size="20.5" stroke="#000" stroke-width="0.6" text-anchor="middle">10</text>
<text x="1433.8" y="1246.2" font-size="20.5" stroke="#000" stroke-width="0.6" text-anchor="middle">20</text>
<text x="1529.8" y="1246.2" font-size="20.5" stroke="#000" stroke-width="0.6" text-anchor="middle">30</text>
<text x="1625.8" y="1246.2" font-size="20.5" stroke="#000" stroke-width="0.6" text-anchor="middle">40</text>
<text x="1721.7" y="1246.2" font-size="20.5" stroke="#000" stroke-width="0.6" text-anchor="middle">50</text>
<text x="1817.7" y="1246.2" font-size="20.5" stroke="#000" stroke-width="0.6" text-anchor="middle">60</text>
<text x="1913.7" y="1246.2" font-size="20.5" stroke="#000" stroke-width="0.6" text-anchor="middle">70</text>
<text x="2009.7" y="1246.2" font-size="20.5" stroke="#000" stroke-width="0.6" text-anchor="middle">80</text>
<text x="2054.7" y="1246.2" font-size="22" textLength="52.0" lengthAdjust="spacingAndGlyphs">l/min</text>
<line x1="1241.8" y1="1265.0" x2="2009.7" y2="1265.0" stroke="#d8d8d8" stroke-width="1.6" />
<line x1="1241.8" y1="1265.0" x2="1241.8" y2="1272.0" stroke="#d8d8d8" stroke-width="1.6" />
<text x="1241.8" y="1294.5" font-size="21" text-anchor="middle">0</text>
<line x1="1387.1" y1="1265.0" x2="1387.1" y2="1272.0" stroke="#d8d8d8" stroke-width="1.6" />
<text x="1387.1" y="1294.5" font-size="21" text-anchor="middle">4</text>
<line x1="1532.5" y1="1265.0" x2="1532.5" y2="1272.0" stroke="#d8d8d8" stroke-width="1.6" />
<text x="1532.5" y="1294.5" font-size="21" text-anchor="middle">8</text>
<line x1="1677.8" y1="1265.0" x2="1677.8" y2="1272.0" stroke="#d8d8d8" stroke-width="1.6" />
<text x="1677.8" y="1294.5" font-size="21" text-anchor="middle">12</text>
<line x1="1823.2" y1="1265.0" x2="1823.2" y2="1272.0" stroke="#d8d8d8" stroke-width="1.6" />
<text x="1823.2" y="1294.5" font-size="21" text-anchor="middle">16</text>
<line x1="1968.5" y1="1265.0" x2="1968.5" y2="1272.0" stroke="#d8d8d8" stroke-width="1.6" />
<text x="1968.5" y="1294.5" font-size="21" text-anchor="middle">20</text>
<text x="2018.2" y="1294.5" font-size="21.5" textLength="74.6" lengthAdjust="spacingAndGlyphs">USGPM</text>
<text x="1986.7" y="1340.2" font-size="20.5" stroke="#000" stroke-width="0.6" textLength="97.5" lengthAdjust="spacingAndGlyphs">CAPACITY</text>
<path d="M1297.0,892.6 L1298.0,897.3 L1299.0,902.1 L1300.0,906.8 L1301.2,911.5 L1302.4,916.1 L1303.6,920.7 L1305.0,925.3 L1306.4,929.9 L1307.8,934.5 L1309.4,939.0 L1311.0,943.5 L1312.6,948.0 L1314.3,952.4 L1316.1,956.9 L1317.9,961.2 L1319.8,965.6 L1321.7,969.9 L1323.7,974.2 L1325.8,978.5 L1327.9,982.8 L1330.1,987.0 L1332.3,991.2 L1334.6,995.3 L1336.9,999.4 L1339.3,1003.5 L1341.8,1007.6 L1344.2,1011.6 L1346.8,1015.6 L1349.4,1019.5 L1352.0,1023.5 L1354.7,1027.4 L1357.5,1031.2 L1360.3,1035.0 L1363.1,1038.8 L1366.0,1042.6 L1369.0,1046.3 L1372.0,1049.9 L1375.0,1053.6 L1378.1,1057.2 L1381.2,1060.7 L1384.4,1064.3 L1387.6,1067.7 L1390.8,1071.2 L1394.1,1074.6 L1397.5,1078.0 L1400.8,1081.3 L1404.3,1084.6 L1407.7,1087.8 L1411.2,1091.0 L1414.8,1094.2 L1418.3,1097.3 L1422.0,1100.4 L1425.6,1103.4 L1429.3,1106.4 L1433.0,1109.3 L1436.8,1112.2 L1440.6,1115.1 L1444.4,1117.9 L1448.3,1120.7 L1452.2,1123.4 L1456.1,1126.1 L1460.1,1128.7 L1464.1,1131.3 L1468.1,1133.8 L1472.2,1136.3 L1476.3,1138.8 L1480.4,1141.2 L1484.5,1143.5 L1488.7,1145.8 L1492.9,1148.1 L1497.1,1150.2 L1501.4,1152.4 L1505.7,1154.5 L1510.0,1156.5 L1514.3,1158.5 L1518.6,1160.5 L1523.0,1162.4 L1527.4,1164.2 L1531.8,1166.0 L1536.3,1167.7 L1540.7,1169.4 L1545.2,1171.0 L1549.7,1172.6 L1554.2,1174.1 L1558.8,1175.6 L1563.3,1177.0 L1567.9,1178.3 L1572.5,1179.6 L1577.1,1180.8 L1581.8,1182.0 L1586.4,1183.1 L1591.1,1184.2 L1595.7,1185.2 L1600.4,1186.2 L1605.1,1187.0 L1609.8,1187.9 L1614.5,1188.6 L1619.3,1189.3 L1624.0,1190.0" fill="none" stroke="#0a9de0" stroke-width="3.5" stroke-linecap="butt" stroke-linejoin="round"/>
<path d="M1374.0,892.6 L1374.9,897.4 L1375.9,902.1 L1377.0,906.9 L1378.2,911.6 L1379.4,916.2 L1380.7,920.8 L1382.0,925.4 L1383.4,930.0 L1384.9,934.5 L1386.4,938.9 L1388.0,943.4 L1389.7,947.8 L1391.4,952.2 L1393.2,956.5 L1395.1,960.8 L1397.0,965.0 L1399.0,969.2 L1401.0,973.4 L1403.1,977.6 L1405.2,981.7 L1407.4,985.8 L1409.7,989.8 L1412.0,993.8 L1414.4,997.8 L1416.8,1001.7 L1419.3,1005.6 L1421.8,1009.4 L1424.4,1013.2 L1427.0,1017.0 L1429.7,1020.7 L1432.4,1024.4 L1435.2,1028.1 L1438.0,1031.7 L1440.9,1035.3 L1443.8,1038.8 L1446.8,1042.4 L1449.8,1045.8 L1452.9,1049.3 L1456.0,1052.7 L1459.1,1056.0 L1462.3,1059.3 L1465.5,1062.6 L1468.8,1065.8 L1472.1,1069.0 L1475.4,1072.2 L1478.8,1075.3 L1482.2,1078.4 L1485.7,1081.5 L1489.2,1084.5 L1492.7,1087.4 L1496.3,1090.4 L1499.9,1093.2 L1503.5,1096.1 L1507.2,1098.9 L1510.9,1101.7 L1514.6,1104.4 L1518.4,1107.1 L1522.2,1109.7 L1526.0,1112.4 L1529.9,1114.9 L1533.7,1117.5 L1537.6,1120.0 L1541.6,1122.4 L1545.5,1124.9 L1549.5,1127.3 L1553.5,1129.6 L1557.6,1132.0 L1561.6,1134.2 L1565.7,1136.5 L1569.8,1138.7 L1573.9,1140.9 L1578.0,1143.0 L1582.2,1145.2 L1586.4,1147.2 L1590.6,1149.3 L1594.8,1151.3 L1599.0,1153.3 L1603.2,1155.3 L1607.5,1157.2 L1611.8,1159.1 L1616.1,1160.9 L1620.4,1162.8 L1624.7,1164.6 L1629.0,1166.3 L1633.3,1168.1 L1637.7,1169.8 L1642.0,1171.5 L1646.4,1173.1 L1650.7,1174.8 L1655.1,1176.4 L1659.5,1177.9 L1663.9,1179.5 L1668.3,1181.0 L1672.7,1182.5 L1677.1,1184.0 L1681.5,1185.4 L1685.9,1186.8 L1690.3,1188.2 L1694.7,1189.6" fill="none" stroke="#0a9de0" stroke-width="3.5" stroke-linecap="butt" stroke-linejoin="round"/>
<path d="M1464.8,933.2 L1466.3,937.8 L1467.8,942.4 L1469.5,946.9 L1471.2,951.3 L1472.9,955.7 L1474.8,960.0 L1476.7,964.3 L1478.7,968.6 L1480.7,972.7 L1482.8,976.9 L1485.0,980.9 L1487.2,985.0 L1489.5,988.9 L1491.9,992.8 L1494.3,996.7 L1496.8,1000.5 L1499.3,1004.3 L1501.9,1008.0 L1504.6,1011.7 L1507.3,1015.3 L1510.1,1018.9 L1512.9,1022.4 L1515.8,1025.9 L1518.7,1029.3 L1521.7,1032.7 L1524.7,1036.1 L1527.8,1039.4 L1530.9,1042.6 L1534.1,1045.8 L1537.3,1049.0 L1540.6,1052.1 L1543.9,1055.2 L1547.3,1058.3 L1550.7,1061.3 L1554.2,1064.2 L1557.6,1067.2 L1561.2,1070.0 L1564.7,1072.9 L1568.3,1075.7 L1572.0,1078.4 L1575.7,1081.2 L1579.4,1083.9 L1583.1,1086.5 L1586.9,1089.1 L1590.7,1091.7 L1594.6,1094.2 L1598.5,1096.8 L1602.4,1099.2 L1606.3,1101.7 L1610.3,1104.1 L1614.3,1106.4 L1618.3,1108.8 L1622.4,1111.1 L1626.4,1113.4 L1630.5,1115.6 L1634.6,1117.8 L1638.8,1120.0 L1642.9,1122.1 L1647.1,1124.3 L1651.3,1126.4 L1655.5,1128.4 L1659.7,1130.5 L1664.0,1132.5 L1668.3,1134.4 L1672.5,1136.4 L1676.8,1138.3 L1681.1,1140.2 L1685.4,1142.1 L1689.8,1143.9 L1694.1,1145.8 L1698.4,1147.6 L1702.8,1149.4 L1707.1,1151.1 L1711.5,1152.8 L1715.9,1154.6 L1720.2,1156.2 L1724.6,1157.9 L1729.0,1159.6 L1733.3,1161.2 L1737.7,1162.8 L1742.1,1164.4 L1746.4,1166.0 L1750.8,1167.5 L1755.2,1169.0 L1759.5,1170.5 L1763.9,1172.0 L1768.2,1173.5 L1772.6,1175.0 L1776.9,1176.4 L1781.2,1177.9 L1785.5,1179.3 L1789.8,1180.7 L1794.1,1182.1 L1798.4,1183.5 L1802.6,1184.8 L1806.9,1186.2 L1811.1,1187.5 L1815.3,1188.9 L1819.5,1190.2" fill="none" stroke="#0a9de0" stroke-width="3.5" stroke-linecap="butt" stroke-linejoin="round"/>
<path d="M1594.0,991.6 L1595.4,995.1 L1596.8,998.6 L1598.3,1002.0 L1599.9,1005.3 L1601.5,1008.6 L1603.2,1011.9 L1604.9,1015.1 L1606.7,1018.3 L1608.5,1021.5 L1610.4,1024.5 L1612.3,1027.6 L1614.3,1030.6 L1616.3,1033.6 L1618.3,1036.5 L1620.4,1039.4 L1622.6,1042.2 L1624.8,1045.0 L1627.0,1047.8 L1629.3,1050.5 L1631.6,1053.2 L1634.0,1055.8 L1636.4,1058.4 L1638.8,1061.0 L1641.3,1063.5 L1643.8,1066.0 L1646.3,1068.5 L1648.9,1070.9 L1651.6,1073.3 L1654.2,1075.6 L1656.9,1077.9 L1659.6,1080.2 L1662.4,1082.5 L1665.2,1084.7 L1668.0,1086.9 L1670.8,1089.1 L1673.7,1091.2 L1676.6,1093.3 L1679.6,1095.4 L1682.5,1097.4 L1685.5,1099.4 L1688.5,1101.4 L1691.5,1103.3 L1694.6,1105.3 L1697.7,1107.2 L1700.8,1109.0 L1703.9,1110.9 L1707.1,1112.7 L1710.3,1114.5 L1713.4,1116.3 L1716.7,1118.1 L1719.9,1119.8 L1723.1,1121.5 L1726.4,1123.2 L1729.7,1124.8 L1733.0,1126.5 L1736.3,1128.1 L1739.6,1129.7 L1742.9,1131.3 L1746.3,1132.9 L1749.6,1134.4 L1753.0,1135.9 L1756.4,1137.4 L1759.8,1138.9 L1763.2,1140.4 L1766.6,1141.9 L1770.0,1143.3 L1773.4,1144.8 L1776.8,1146.2 L1780.2,1147.6 L1783.7,1149.0 L1787.1,1150.3 L1790.5,1151.7 L1794.0,1153.1 L1797.4,1154.4 L1800.9,1155.7 L1804.3,1157.0 L1807.7,1158.3 L1811.2,1159.6 L1814.6,1160.9 L1818.0,1162.2 L1821.4,1163.5 L1824.9,1164.8 L1828.3,1166.0 L1831.7,1167.3 L1835.1,1168.5 L1838.5,1169.8 L1841.9,1171.0 L1845.2,1172.3 L1848.6,1173.5 L1851.9,1174.7 L1855.3,1175.9 L1858.6,1177.2 L1861.9,1178.4 L1865.2,1179.6 L1868.5,1180.8 L1871.8,1182.0 L1875.0,1183.3 L1878.3,1184.5 L1881.5,1185.7" fill="none" stroke="#0a9de0" stroke-width="3.5" stroke-linecap="butt" stroke-linejoin="round"/>
<path d="M1241.8,850.5 L1251.3,853.8 L1260.8,857.2 L1270.3,860.5 L1279.8,864.0 L1289.3,867.4 L1298.8,870.9 L1308.3,874.4 L1317.8,878.0 L1327.3,881.6 L1336.8,885.2 L1346.3,888.9 L1355.8,892.6 L1365.3,896.3 L1374.7,900.1 L1384.2,903.9 L1393.7,907.8 L1403.2,911.6 L1412.7,915.6 L1422.2,919.5 L1431.7,923.5 L1441.2,927.5 L1450.7,931.6 L1460.2,935.7 L1469.7,939.8 L1479.2,943.9 L1488.7,948.1 L1498.2,952.4 L1507.7,956.6 L1517.2,960.9 L1526.7,965.2 L1536.2,969.6 L1545.7,974.0 L1555.2,978.4 L1564.7,982.9 L1574.2,987.4 L1583.7,991.9 L1593.2,996.5 L1602.7,1001.1 L1612.2,1005.7 L1621.6,1010.4 L1631.1,1015.1 L1640.6,1019.8 L1650.1,1024.5 L1659.6,1029.3 L1669.1,1034.2 L1678.6,1039.0 L1688.1,1043.9 L1697.6,1048.8 L1707.1,1053.8 L1716.6,1058.8 L1726.1,1063.8 L1735.6,1068.9 L1745.1,1073.9 L1754.6,1079.1 L1764.1,1084.2 L1773.6,1089.4 L1783.1,1094.6 L1792.6,1099.8 L1802.1,1105.1 L1811.6,1110.4 L1821.1,1115.7 L1830.6,1121.1 L1840.1,1126.5 L1849.6,1131.9 L1859.1,1137.4 L1868.5,1142.9 L1878.0,1148.4 L1887.5,1154.0 L1897.0,1159.5 L1906.5,1165.1 L1916.0,1170.8 L1925.5,1176.5 L1935.0,1182.2 L1944.5,1187.9 L1954.0,1193.7 L1963.5,1199.5 L1973.0,1205.3 L1982.5,1211.1 L1992.0,1217.0" fill="none" stroke="#0b57a0" stroke-width="5.7" stroke-linecap="butt" stroke-linejoin="round"/>
<path d="M1241.8,941.5 L1250.5,944.3 L1259.2,947.0 L1268.0,949.8 L1276.7,952.6 L1285.4,955.4 L1294.1,958.2 L1302.9,961.0 L1311.6,963.8 L1320.3,966.6 L1329.0,969.5 L1337.8,972.3 L1346.5,975.2 L1355.2,978.0 L1363.9,980.9 L1372.7,983.8 L1381.4,986.7 L1390.1,989.7 L1398.8,992.6 L1407.6,995.6 L1416.3,998.5 L1425.0,1001.5 L1433.7,1004.5 L1442.5,1007.6 L1451.2,1010.6 L1459.9,1013.7 L1468.6,1016.7 L1477.3,1019.8 L1486.1,1022.9 L1494.8,1026.1 L1503.5,1029.2 L1512.2,1032.4 L1521.0,1035.6 L1529.7,1038.8 L1538.4,1042.1 L1547.1,1045.3 L1555.9,1048.6 L1564.6,1051.9 L1573.3,1055.3 L1582.0,1058.6 L1590.8,1062.0 L1599.5,1065.4 L1608.2,1068.8 L1616.9,1072.3 L1625.7,1075.8 L1634.4,1079.3 L1643.1,1082.8 L1651.8,1086.4 L1660.6,1090.0 L1669.3,1093.6 L1678.0,1097.3 L1686.7,1101.0 L1695.5,1104.7 L1704.2,1108.5 L1712.9,1112.2 L1721.6,1116.0 L1730.3,1119.9 L1739.1,1123.8 L1747.8,1127.7 L1756.5,1131.6 L1765.2,1135.6 L1774.0,1139.6 L1782.7,1143.7 L1791.4,1147.8 L1800.1,1151.9 L1808.9,1156.0 L1817.6,1160.2 L1826.3,1164.5 L1835.0,1168.8 L1843.8,1173.1 L1852.5,1177.4 L1861.2,1181.8 L1869.9,1186.2 L1878.7,1190.7 L1887.4,1195.2 L1896.1,1199.8 L1904.8,1204.4 L1913.6,1209.0 L1922.3,1213.7 L1931.0,1218.4" fill="none" stroke="#0b57a0" stroke-width="5.7" stroke-linecap="butt" stroke-linejoin="round"/>
<path d="M1245.0,1034.2 L1252.8,1036.2 L1260.6,1038.2 L1268.4,1040.2 L1276.2,1042.2 L1284.0,1044.2 L1291.8,1046.3 L1299.5,1048.3 L1307.3,1050.3 L1315.1,1052.3 L1322.9,1054.3 L1330.7,1056.3 L1338.5,1058.4 L1346.3,1060.4 L1354.1,1062.4 L1361.9,1064.5 L1369.7,1066.5 L1377.5,1068.5 L1385.3,1070.6 L1393.1,1072.6 L1400.8,1074.7 L1408.6,1076.8 L1416.4,1078.8 L1424.2,1080.9 L1432.0,1083.0 L1439.8,1085.1 L1447.6,1087.2 L1455.4,1089.3 L1463.2,1091.4 L1471.0,1093.5 L1478.8,1095.7 L1486.6,1097.8 L1494.4,1099.9 L1502.1,1102.1 L1509.9,1104.3 L1517.7,1106.4 L1525.5,1108.6 L1533.3,1110.8 L1541.1,1113.0 L1548.9,1115.3 L1556.7,1117.5 L1564.5,1119.7 L1572.3,1122.0 L1580.1,1124.2 L1587.9,1126.5 L1595.7,1128.8 L1603.5,1131.1 L1611.2,1133.4 L1619.0,1135.8 L1626.8,1138.1 L1634.6,1140.5 L1642.4,1142.9 L1650.2,1145.3 L1658.0,1147.7 L1665.8,1150.1 L1673.6,1152.5 L1681.4,1155.0 L1689.2,1157.5 L1697.0,1159.9 L1704.8,1162.5 L1712.5,1165.0 L1720.3,1167.5 L1728.1,1170.1 L1735.9,1172.7 L1743.7,1175.3 L1751.5,1177.9 L1759.3,1180.5 L1767.1,1183.2 L1774.9,1185.8 L1782.7,1188.5 L1790.5,1191.3 L1798.3,1194.0 L1806.1,1196.8 L1813.8,1199.5 L1821.6,1202.3 L1829.4,1205.2 L1837.2,1208.0 L1845.0,1210.9 L1852.8,1213.8 L1860.6,1216.7" fill="none" stroke="#0b3a6c" stroke-width="5.7" stroke-linecap="butt" stroke-linejoin="round"/>
<path d="M1241.8,1125.7 L1248.4,1127.1 L1255.0,1128.5 L1261.6,1129.9 L1268.2,1131.3 L1274.9,1132.6 L1281.5,1133.9 L1288.1,1135.2 L1294.7,1136.4 L1301.3,1137.6 L1307.9,1138.9 L1314.5,1140.1 L1321.1,1141.2 L1327.7,1142.4 L1334.3,1143.5 L1341.0,1144.6 L1347.6,1145.7 L1354.2,1146.8 L1360.8,1147.9 L1367.4,1149.0 L1374.0,1150.0 L1380.6,1151.0 L1387.2,1152.1 L1393.8,1153.1 L1400.4,1154.1 L1407.1,1155.1 L1413.7,1156.1 L1420.3,1157.0 L1426.9,1158.0 L1433.5,1159.0 L1440.1,1159.9 L1446.7,1160.9 L1453.3,1161.8 L1459.9,1162.8 L1466.5,1163.7 L1473.2,1164.7 L1479.8,1165.6 L1486.4,1166.6 L1493.0,1167.5 L1499.6,1168.5 L1506.2,1169.4 L1512.8,1170.4 L1519.4,1171.3 L1526.0,1172.3 L1532.6,1173.3 L1539.3,1174.2 L1545.9,1175.2 L1552.5,1176.2 L1559.1,1177.2 L1565.7,1178.2 L1572.3,1179.2 L1578.9,1180.3 L1585.5,1181.3 L1592.1,1182.4 L1598.7,1183.5 L1605.4,1184.5 L1612.0,1185.6 L1618.6,1186.8 L1625.2,1187.9 L1631.8,1189.0 L1638.4,1190.2 L1645.0,1191.4 L1651.6,1192.6 L1658.2,1193.8 L1664.8,1195.1 L1671.5,1196.4 L1678.1,1197.7 L1684.7,1199.0 L1691.3,1200.3 L1697.9,1201.7 L1704.5,1203.1 L1711.1,1204.5 L1717.7,1206.0 L1724.3,1207.5 L1730.9,1209.0 L1737.6,1210.5 L1744.2,1212.1 L1750.8,1213.7 L1757.4,1215.3 L1764.0,1217.0" fill="none" stroke="#0b57a0" stroke-width="5.7" stroke-linecap="butt" stroke-linejoin="round"/>
<rect x="1285.6" y="859.1" width="35.2" height="31.2" fill="#fff" stroke="#0b57a0" stroke-width="5.3" />
<text x="1303.2" y="882.3" font-size="21.5" text-anchor="middle">8</text>
<rect x="1285.6" y="946.9" width="35.2" height="31.2" fill="#fff" stroke="#0b57a0" stroke-width="5.3" />
<text x="1303.2" y="970.1" font-size="21.5" text-anchor="middle">6</text>
<rect x="1285.6" y="1035.8" width="35.2" height="31.2" fill="#fff" stroke="#0b3a6c" stroke-width="5.3" />
<text x="1303.2" y="1059.0" font-size="21.5" text-anchor="middle">4</text>
<rect x="1285.6" y="1122.4" width="35.2" height="31.2" fill="#fff" stroke="#0b57a0" stroke-width="5.3" />
<text x="1303.2" y="1145.6" font-size="21.5" text-anchor="middle">2</text>
<text x="1471.1" y="913.4" font-size="17.5" fill="#0a9de0">0,30</text>
<text x="1471.1" y="936.4" font-size="17.5" fill="#0a9de0" font-style="italic">10,6</text>
<text x="1590.9" y="959.5" font-size="17.5" fill="#0a9de0">0,40</text>
<text x="1590.9" y="982.5" font-size="17.5" fill="#0a9de0" font-style="italic">14,1</text>
<text x="1362.1" y="1007.4" font-size="17.5" fill="#0a9de0">0,10</text>
<text x="1362.1" y="1030.4" font-size="17.5" fill="#0a9de0" font-style="italic">3,53</text>
<text x="1488.9" y="1051.3" font-size="17.5" fill="#0a9de0">0,20</text>
<text x="1488.9" y="1074.3" font-size="17.5" fill="#0a9de0" font-style="italic">7,06</text>
<rect x="244.4" y="1397.8" width="761.0" height="73.0" fill="#ececec" stroke="#0f5c9e" stroke-width="2.2" />
<text x="284.2" y="1454.8" font-size="53" font-weight="bold" fill="#0b5aa2" textLength="117.5" lengthAdjust="spacingAndGlyphs">T125</text>
<line x1="518.0" y1="1422.8" x2="624.0" y2="1422.8" stroke="#0b57a0" stroke-width="5.8" />
<rect x="554.8" y="1409.4" width="34.4" height="30.4" fill="#ececec" stroke="#0b57a0" stroke-width="5.8" />
<line x1="518.0" y1="1453.8" x2="624.0" y2="1453.8" stroke="#0a9de0" stroke-width="3.8" />
<text x="639.0" y="1432.6" font-size="21.5" textLength="163.0" lengthAdjust="spacingAndGlyphs">Air pressure (bar)</text>
<text x="639.0" y="1460.0" font-size="21.5" fill="#0a9de0" textLength="326.5" lengthAdjust="spacingAndGlyphs">Air consumption (Nm<tspan font-size="14" dy="-8">3</tspan><tspan dy="8">/min, SCFM)</tspan></text>
<text x="112.0" y="1418.3" font-size="21.5" font-weight="bold" textLength="59.0" lengthAdjust="spacingAndGlyphs">HEAD</text>
<text x="112.0" y="1452.6" font-size="21.5" textLength="45.5" lengthAdjust="spacingAndGlyphs">PSIG</text>
<text x="177.3" y="1452.6" font-size="21.5" textLength="53.0" lengthAdjust="spacingAndGlyphs">mWC</text>
<line x1="244.5" y1="1840.2" x2="1004.7" y2="1840.2" stroke="#d3d3d3" stroke-width="1.6" />
<line x1="244.5" y1="1794.7" x2="1004.7" y2="1794.7" stroke="#d3d3d3" stroke-width="1.6" />
<line x1="244.5" y1="1749.2" x2="1004.7" y2="1749.2" stroke="#d3d3d3" stroke-width="1.6" />
<line x1="244.5" y1="1703.7" x2="1004.7" y2="1703.7" stroke="#d3d3d3" stroke-width="1.6" />
<line x1="244.5" y1="1658.2" x2="1004.7" y2="1658.2" stroke="#d3d3d3" stroke-width="1.6" />
<line x1="244.5" y1="1612.8" x2="1004.7" y2="1612.8" stroke="#d3d3d3" stroke-width="1.6" />
<line x1="244.5" y1="1567.3" x2="1004.7" y2="1567.3" stroke="#d3d3d3" stroke-width="1.6" />
<line x1="244.5" y1="1521.8" x2="1004.7" y2="1521.8" stroke="#d3d3d3" stroke-width="1.6" />
<line x1="244.5" y1="1476.3" x2="1004.7" y2="1476.3" stroke="#d3d3d3" stroke-width="1.6" />
<line x1="244.5" y1="1476.3" x2="244.5" y2="1840.2" stroke="#d3d3d3" stroke-width="1.6" />
<line x1="339.5" y1="1476.3" x2="339.5" y2="1840.2" stroke="#d3d3d3" stroke-width="1.6" />
<line x1="434.6" y1="1476.3" x2="434.6" y2="1840.2" stroke="#d3d3d3" stroke-width="1.6" />
<line x1="529.6" y1="1476.3" x2="529.6" y2="1840.2" stroke="#d3d3d3" stroke-width="1.6" />
<line x1="624.6" y1="1476.3" x2="624.6" y2="1840.2" stroke="#d3d3d3" stroke-width="1.6" />
<line x1="719.6" y1="1476.3" x2="719.6" y2="1840.2" stroke="#d3d3d3" stroke-width="1.6" />
<line x1="814.6" y1="1476.3" x2="814.6" y2="1840.2" stroke="#d3d3d3" stroke-width="1.6" />
<line x1="909.7" y1="1476.3" x2="909.7" y2="1840.2" stroke="#d3d3d3" stroke-width="1.6" />
<line x1="1004.7" y1="1476.3" x2="1004.7" y2="1840.2" stroke="#d3d3d3" stroke-width="1.6" />
<text x="233.0" y="1802.2" font-size="21" stroke="#000" stroke-width="0.6" text-anchor="end">10</text>
<text x="233.0" y="1756.7" font-size="21" stroke="#000" stroke-width="0.6" text-anchor="end">20</text>
<text x="233.0" y="1711.2" font-size="21" stroke="#000" stroke-width="0.6" text-anchor="end">30</text>
<text x="233.0" y="1665.8" font-size="21" stroke="#000" stroke-width="0.6" text-anchor="end">40</text>
<text x="233.0" y="1620.3" font-size="21" stroke="#000" stroke-width="0.6" text-anchor="end">50</text>
<text x="233.0" y="1574.8" font-size="21" stroke="#000" stroke-width="0.6" text-anchor="end">60</text>
<text x="233.0" y="1529.3" font-size="21" stroke="#000" stroke-width="0.6" text-anchor="end">70</text>
<text x="233.0" y="1483.8" font-size="21" stroke="#000" stroke-width="0.6" text-anchor="end">80</text>
<line x1="177.0" y1="1476.3" x2="177.0" y2="1840.2" stroke="#d8d8d8" stroke-width="1.6" />
<line x1="169.0" y1="1840.2" x2="177.0" y2="1840.2" stroke="#d8d8d8" stroke-width="1.6" />
<line x1="169.0" y1="1776.2" x2="177.0" y2="1776.2" stroke="#d8d8d8" stroke-width="1.6" />
<text x="166.0" y="1784.2" font-size="23" text-anchor="end">20</text>
<line x1="169.0" y1="1712.3" x2="177.0" y2="1712.3" stroke="#d8d8d8" stroke-width="1.6" />
<text x="166.0" y="1720.3" font-size="23" text-anchor="end">40</text>
<line x1="169.0" y1="1648.3" x2="177.0" y2="1648.3" stroke="#d8d8d8" stroke-width="1.6" />
<text x="166.0" y="1656.3" font-size="23" text-anchor="end">60</text>
<line x1="169.0" y1="1584.4" x2="177.0" y2="1584.4" stroke="#d8d8d8" stroke-width="1.6" />
<text x="166.0" y="1592.4" font-size="23" text-anchor="end">80</text>
<line x1="169.0" y1="1520.4" x2="177.0" y2="1520.4" stroke="#d8d8d8" stroke-width="1.6" />
<text x="166.0" y="1528.4" font-size="23" text-anchor="end">100</text>
<text x="244.5" y="1863.2" font-size="21" stroke="#000" stroke-width="0.6" text-anchor="middle">0</text>
<text x="339.5" y="1863.2" font-size="21" stroke="#000" stroke-width="0.6" text-anchor="middle">20</text>
<text x="434.6" y="1863.2" font-size="21" stroke="#000" stroke-width="0.6" text-anchor="middle">40</text>
<text x="529.6" y="1863.2" font-size="21" stroke="#000" stroke-width="0.6" text-anchor="middle">60</text>
<text x="624.6" y="1863.2" font-size="21" stroke="#000" stroke-width="0.6" text-anchor="middle">80</text>
<text x="719.6" y="1863.2" font-size="21" stroke="#000" stroke-width="0.6" text-anchor="middle">100</text>
<text x="814.6" y="1863.2" font-size="21" stroke="#000" stroke-width="0.6" text-anchor="middle">120</text>
<text x="909.7" y="1863.2" font-size="21" stroke="#000" stroke-width="0.6" text-anchor="middle">140</text>
<text x="1004.7" y="1863.2" font-size="21" stroke="#000" stroke-width="0.6" text-anchor="middle">160</text>
<text x="1048.7" y="1863.2" font-size="22" textLength="52.0" lengthAdjust="spacingAndGlyphs">l/min</text>
<line x1="244.5" y1="1877.0" x2="1004.7" y2="1877.0" stroke="#d8d8d8" stroke-width="1.6" />
<line x1="244.5" y1="1877.0" x2="244.5" y2="1872.5" stroke="#d8d8d8" stroke-width="1.6" />
<text x="244.5" y="1898.8" font-size="21" text-anchor="middle">0</text>
<line x1="334.4" y1="1877.0" x2="334.4" y2="1872.5" stroke="#d8d8d8" stroke-width="1.6" />
<text x="334.4" y="1898.8" font-size="21" text-anchor="middle">5</text>
<line x1="424.4" y1="1877.0" x2="424.4" y2="1872.5" stroke="#d8d8d8" stroke-width="1.6" />
<text x="424.4" y="1898.8" font-size="21" text-anchor="middle">10</text>
<line x1="514.3" y1="1877.0" x2="514.3" y2="1872.5" stroke="#d8d8d8" stroke-width="1.6" />
<text x="514.3" y="1898.8" font-size="21" text-anchor="middle">15</text>
<line x1="604.2" y1="1877.0" x2="604.2" y2="1872.5" stroke="#d8d8d8" stroke-width="1.6" />
<text x="604.2" y="1898.8" font-size="21" text-anchor="middle">20</text>
<line x1="694.1" y1="1877.0" x2="694.1" y2="1872.5" stroke="#d8d8d8" stroke-width="1.6" />
<text x="694.1" y="1898.8" font-size="21" text-anchor="middle">25</text>
<line x1="784.1" y1="1877.0" x2="784.1" y2="1872.5" stroke="#d8d8d8" stroke-width="1.6" />
<text x="784.1" y="1898.8" font-size="21" text-anchor="middle">30</text>
<line x1="874.0" y1="1877.0" x2="874.0" y2="1872.5" stroke="#d8d8d8" stroke-width="1.6" />
<text x="874.0" y="1898.8" font-size="21" text-anchor="middle">35</text>
<line x1="963.9" y1="1877.0" x2="963.9" y2="1872.5" stroke="#d8d8d8" stroke-width="1.6" />
<text x="963.9" y="1898.8" font-size="21" text-anchor="middle">40</text>
<text x="1013.2" y="1898.8" font-size="21.5" textLength="76.0" lengthAdjust="spacingAndGlyphs">USGPM</text>
<line x1="244.5" y1="1910.8" x2="1004.7" y2="1910.8" stroke="#d8d8d8" stroke-width="1.6" />
<line x1="244.5" y1="1910.8" x2="244.5" y2="1906.3" stroke="#d8d8d8" stroke-width="1.6" />
<text x="244.5" y="1932.6" font-size="21" text-anchor="middle">0</text>
<line x1="323.7" y1="1910.8" x2="323.7" y2="1906.3" stroke="#d8d8d8" stroke-width="1.6" />
<text x="323.7" y="1932.6" font-size="21" text-anchor="middle">1</text>
<line x1="402.9" y1="1910.8" x2="402.9" y2="1906.3" stroke="#d8d8d8" stroke-width="1.6" />
<text x="402.9" y="1932.6" font-size="21" text-anchor="middle">2</text>
<line x1="482.1" y1="1910.8" x2="482.1" y2="1906.3" stroke="#d8d8d8" stroke-width="1.6" />
<text x="482.1" y="1932.6" font-size="21" text-anchor="middle">3</text>
<line x1="561.3" y1="1910.8" x2="561.3" y2="1906.3" stroke="#d8d8d8" stroke-width="1.6" />
<text x="561.3" y="1932.6" font-size="21" text-anchor="middle">4</text>
<line x1="640.4" y1="1910.8" x2="640.4" y2="1906.3" stroke="#d8d8d8" stroke-width="1.6" />
<text x="640.4" y="1932.6" font-size="21" text-anchor="middle">5</text>
<line x1="719.6" y1="1910.8" x2="719.6" y2="1906.3" stroke="#d8d8d8" stroke-width="1.6" />
<text x="719.6" y="1932.6" font-size="21" text-anchor="middle">6</text>
<line x1="798.8" y1="1910.8" x2="798.8" y2="1906.3" stroke="#d8d8d8" stroke-width="1.6" />
<text x="798.8" y="1932.6" font-size="21" text-anchor="middle">7</text>
<line x1="878.0" y1="1910.8" x2="878.0" y2="1906.3" stroke="#d8d8d8" stroke-width="1.6" />
<text x="878.0" y="1932.6" font-size="21" text-anchor="middle">8</text>
<line x1="957.2" y1="1910.8" x2="957.2" y2="1906.3" stroke="#d8d8d8" stroke-width="1.6" />
<text x="957.2" y="1932.6" font-size="21" text-anchor="middle">9</text>
<text x="1050.7" y="1932.6" font-size="21.5" textLength="46.0" lengthAdjust="spacingAndGlyphs">m<tspan font-size="14" dy="-8">3</tspan><tspan dy="8">/h</tspan></text>
<text x="981.7" y="1961.5" font-size="20.5" stroke="#000" stroke-width="0.6" textLength="97.5" lengthAdjust="spacingAndGlyphs">CAPACITY</text>
<path d="M316.4,1516.4 L317.0,1521.2 L317.7,1526.0 L318.5,1530.8 L319.3,1535.5 L320.3,1540.2 L321.3,1544.8 L322.4,1549.4 L323.5,1553.9 L324.8,1558.4 L326.1,1562.9 L327.5,1567.3 L328.9,1571.7 L330.5,1576.0 L332.1,1580.3 L333.7,1584.5 L335.5,1588.7 L337.3,1592.9 L339.2,1597.0 L341.1,1601.1 L343.1,1605.2 L345.2,1609.2 L347.3,1613.1 L349.5,1617.1 L351.8,1621.0 L354.1,1624.8 L356.5,1628.6 L358.9,1632.4 L361.4,1636.1 L363.9,1639.8 L366.6,1643.5 L369.2,1647.1 L371.9,1650.7 L374.7,1654.2 L377.5,1657.7 L380.4,1661.2 L383.3,1664.6 L386.3,1668.0 L389.3,1671.3 L392.3,1674.7 L395.4,1677.9 L398.6,1681.2 L401.8,1684.4 L405.0,1687.6 L408.3,1690.7 L411.6,1693.8 L415.0,1696.9 L418.4,1699.9 L421.8,1702.9 L425.3,1705.8 L428.8,1708.8 L432.4,1711.7 L436.0,1714.5 L439.6,1717.3 L443.2,1720.1 L446.9,1722.9 L450.6,1725.6 L454.4,1728.3 L458.1,1730.9 L461.9,1733.6 L465.8,1736.1 L469.6,1738.7 L473.5,1741.2 L477.4,1743.7 L481.3,1746.2 L485.2,1748.6 L489.2,1751.0 L493.2,1753.3 L497.2,1755.7 L501.2,1758.0 L505.2,1760.2 L509.3,1762.5 L513.4,1764.7 L517.5,1766.9 L521.6,1769.0 L525.7,1771.2 L529.8,1773.3 L533.9,1775.4 L538.1,1777.4 L542.2,1779.4 L546.4,1781.4 L550.5,1783.4 L554.7,1785.4 L558.9,1787.3 L563.0,1789.3 L567.2,1791.2 L571.4,1793.0 L575.6,1794.9 L579.8,1796.7 L584.0,1798.6 L588.1,1800.4 L592.3,1802.2 L596.5,1803.9 L600.6,1805.7 L604.8,1807.5 L609.0,1809.2 L613.1,1810.9 L617.3,1812.6 L621.4,1814.3 L625.5,1816.0" fill="none" stroke="#0a9de0" stroke-width="3.5" stroke-linecap="butt" stroke-linejoin="round"/>
<path d="M415.0,1533.2 L416.7,1537.5 L418.4,1541.9 L420.2,1546.2 L422.0,1550.5 L423.9,1554.7 L425.8,1558.9 L427.8,1563.1 L429.8,1567.3 L431.8,1571.4 L433.9,1575.5 L436.0,1579.6 L438.2,1583.7 L440.4,1587.7 L442.6,1591.7 L444.9,1595.6 L447.2,1599.6 L449.6,1603.5 L452.0,1607.4 L454.5,1611.2 L456.9,1615.1 L459.5,1618.8 L462.0,1622.6 L464.6,1626.4 L467.3,1630.1 L469.9,1633.7 L472.7,1637.4 L475.4,1641.0 L478.2,1644.6 L481.0,1648.2 L483.9,1651.7 L486.7,1655.2 L489.7,1658.7 L492.6,1662.1 L495.6,1665.5 L498.6,1668.9 L501.7,1672.3 L504.8,1675.6 L507.9,1678.9 L511.1,1682.1 L514.2,1685.4 L517.5,1688.6 L520.7,1691.7 L524.0,1694.9 L527.3,1698.0 L530.6,1701.0 L534.0,1704.1 L537.4,1707.1 L540.8,1710.1 L544.3,1713.0 L547.8,1715.9 L551.3,1718.8 L554.8,1721.7 L558.4,1724.5 L562.0,1727.3 L565.6,1730.1 L569.2,1732.8 L572.9,1735.5 L576.6,1738.1 L580.3,1740.8 L584.0,1743.4 L587.8,1745.9 L591.6,1748.5 L595.4,1751.0 L599.2,1753.4 L603.1,1755.9 L607.0,1758.3 L610.9,1760.6 L614.8,1763.0 L618.8,1765.3 L622.7,1767.5 L626.7,1769.8 L630.7,1772.0 L634.8,1774.2 L638.8,1776.3 L642.9,1778.4 L647.0,1780.5 L651.1,1782.5 L655.2,1784.5 L659.3,1786.4 L663.5,1788.4 L667.7,1790.3 L671.9,1792.1 L676.1,1794.0 L680.3,1795.7 L684.5,1797.5 L688.8,1799.2 L693.0,1800.9 L697.3,1802.6 L701.6,1804.2 L705.9,1805.8 L710.3,1807.3 L714.6,1808.8 L719.0,1810.3 L723.3,1811.7 L727.7,1813.1 L732.1,1814.5 L736.5,1815.8 L740.9,1817.1 L745.3,1818.4" fill="none" stroke="#0a9de0" stroke-width="3.5" stroke-linecap="butt" stroke-linejoin="round"/>
<path d="M545.3,1592.8 L547.4,1595.9 L549.5,1599.0 L551.7,1602.1 L553.8,1605.1 L556.0,1608.2 L558.2,1611.2 L560.5,1614.2 L562.7,1617.2 L565.0,1620.2 L567.3,1623.2 L569.6,1626.2 L571.9,1629.1 L574.2,1632.1 L576.6,1635.0 L579.0,1637.9 L581.4,1640.8 L583.8,1643.7 L586.3,1646.6 L588.7,1649.4 L591.2,1652.2 L593.7,1655.1 L596.2,1657.9 L598.8,1660.7 L601.3,1663.5 L603.9,1666.2 L606.5,1669.0 L609.1,1671.7 L611.7,1674.4 L614.4,1677.1 L617.0,1679.8 L619.7,1682.5 L622.4,1685.1 L625.1,1687.8 L627.8,1690.4 L630.6,1693.0 L633.3,1695.6 L636.1,1698.2 L638.9,1700.7 L641.7,1703.2 L644.6,1705.8 L647.4,1708.3 L650.3,1710.7 L653.2,1713.2 L656.0,1715.6 L659.0,1718.1 L661.9,1720.5 L664.8,1722.8 L667.8,1725.2 L670.7,1727.6 L673.7,1729.9 L676.7,1732.2 L679.8,1734.5 L682.8,1736.8 L685.8,1739.0 L688.9,1741.2 L692.0,1743.4 L695.0,1745.6 L698.2,1747.8 L701.3,1749.9 L704.4,1752.1 L707.5,1754.2 L710.7,1756.3 L713.9,1758.3 L717.1,1760.4 L720.3,1762.4 L723.5,1764.4 L726.7,1766.4 L729.9,1768.3 L733.2,1770.2 L736.4,1772.2 L739.7,1774.0 L743.0,1775.9 L746.3,1777.7 L749.6,1779.6 L752.9,1781.3 L756.3,1783.1 L759.6,1784.9 L763.0,1786.6 L766.3,1788.3 L769.7,1790.0 L773.1,1791.6 L776.5,1793.2 L779.9,1794.8 L783.4,1796.4 L786.8,1798.0 L790.3,1799.5 L793.7,1801.0 L797.2,1802.5 L800.7,1803.9 L804.1,1805.4 L807.6,1806.8 L811.2,1808.1 L814.7,1809.5 L818.2,1810.8 L821.7,1812.1 L825.3,1813.4 L828.9,1814.6 L832.4,1815.8 L836.0,1817.0" fill="none" stroke="#0a9de0" stroke-width="3.5" stroke-linecap="butt" stroke-linejoin="round"/>
<path d="M707.2,1666.8 L708.6,1669.0 L710.0,1671.2 L711.4,1673.4 L712.9,1675.6 L714.3,1677.7 L715.8,1679.8 L717.3,1682.0 L718.8,1684.1 L720.3,1686.2 L721.9,1688.2 L723.5,1690.3 L725.1,1692.3 L726.7,1694.4 L728.3,1696.4 L729.9,1698.4 L731.6,1700.4 L733.2,1702.3 L734.9,1704.3 L736.6,1706.2 L738.4,1708.1 L740.1,1710.0 L741.8,1711.9 L743.6,1713.8 L745.4,1715.7 L747.2,1717.5 L749.0,1719.4 L750.8,1721.2 L752.7,1723.0 L754.5,1724.8 L756.4,1726.5 L758.3,1728.3 L760.2,1730.0 L762.1,1731.8 L764.0,1733.5 L765.9,1735.2 L767.9,1736.9 L769.9,1738.5 L771.8,1740.2 L773.8,1741.8 L775.8,1743.5 L777.8,1745.1 L779.9,1746.7 L781.9,1748.3 L784.0,1749.8 L786.0,1751.4 L788.1,1752.9 L790.2,1754.5 L792.3,1756.0 L794.4,1757.5 L796.5,1759.0 L798.6,1760.4 L800.8,1761.9 L802.9,1763.3 L805.1,1764.8 L807.2,1766.2 L809.4,1767.6 L811.6,1769.0 L813.8,1770.4 L816.0,1771.7 L818.2,1773.1 L820.4,1774.4 L822.7,1775.7 L824.9,1777.0 L827.1,1778.3 L829.4,1779.6 L831.7,1780.9 L833.9,1782.1 L836.2,1783.4 L838.5,1784.6 L840.8,1785.8 L843.1,1787.0 L845.4,1788.2 L847.7,1789.4 L850.0,1790.5 L852.3,1791.7 L854.7,1792.8 L857.0,1793.9 L859.3,1795.0 L861.7,1796.1 L864.0,1797.2 L866.4,1798.3 L868.8,1799.4 L871.1,1800.4 L873.5,1801.4 L875.9,1802.5 L878.3,1803.5 L880.6,1804.5 L883.0,1805.4 L885.4,1806.4 L887.8,1807.4 L890.2,1808.3 L892.6,1809.2 L895.0,1810.1 L897.4,1811.1 L899.8,1811.9 L902.2,1812.8 L904.7,1813.7 L907.1,1814.6 L909.5,1815.4" fill="none" stroke="#0a9de0" stroke-width="3.5" stroke-linecap="butt" stroke-linejoin="round"/>
<path d="M244.5,1476.3 L254.0,1479.8 L263.5,1483.3 L272.9,1486.9 L282.4,1490.4 L291.9,1494.0 L301.4,1497.6 L310.9,1501.1 L320.3,1504.8 L329.8,1508.4 L339.3,1512.0 L348.8,1515.7 L358.3,1519.4 L367.7,1523.1 L377.2,1526.8 L386.7,1530.6 L396.2,1534.4 L405.7,1538.2 L415.1,1542.0 L424.6,1545.8 L434.1,1549.7 L443.6,1553.6 L453.1,1557.5 L462.5,1561.4 L472.0,1565.4 L481.5,1569.3 L491.0,1573.4 L500.5,1577.4 L509.9,1581.5 L519.4,1585.6 L528.9,1589.7 L538.4,1593.8 L547.9,1598.0 L557.3,1602.2 L566.8,1606.5 L576.3,1610.7 L585.8,1615.1 L595.3,1619.4 L604.7,1623.8 L614.2,1628.2 L623.7,1632.6 L633.2,1637.1 L642.6,1641.6 L652.1,1646.1 L661.6,1650.7 L671.1,1655.3 L680.6,1659.9 L690.0,1664.6 L699.5,1669.4 L709.0,1674.1 L718.5,1678.9 L728.0,1683.8 L737.4,1688.6 L746.9,1693.5 L756.4,1698.5 L765.9,1703.5 L775.4,1708.6 L784.8,1713.6 L794.3,1718.8 L803.8,1723.9 L813.3,1729.1 L822.8,1734.4 L832.2,1739.7 L841.7,1745.1 L851.2,1750.5 L860.7,1755.9 L870.2,1761.4 L879.6,1766.9 L889.1,1772.5 L898.6,1778.1 L908.1,1783.8 L917.6,1789.5 L927.0,1795.3 L936.5,1801.1 L946.0,1807.0 L955.5,1813.0 L965.0,1818.9 L974.4,1825.0 L983.9,1831.1 L993.4,1837.2" fill="none" stroke="#0b57a0" stroke-width="5.7" stroke-linecap="butt" stroke-linejoin="round"/>
<path d="M244.5,1565.8 L252.9,1568.3 L261.4,1570.8 L269.8,1573.3 L278.2,1575.9 L286.7,1578.5 L295.1,1581.1 L303.5,1583.8 L312.0,1586.4 L320.4,1589.1 L328.8,1591.8 L337.3,1594.6 L345.7,1597.4 L354.1,1600.2 L362.6,1603.0 L371.0,1605.8 L379.4,1608.7 L387.9,1611.6 L396.3,1614.5 L404.7,1617.5 L413.2,1620.5 L421.6,1623.5 L430.0,1626.5 L438.5,1629.5 L446.9,1632.6 L455.3,1635.7 L463.8,1638.9 L472.2,1642.0 L480.6,1645.2 L489.1,1648.4 L497.5,1651.6 L505.9,1654.9 L514.4,1658.1 L522.8,1661.4 L531.2,1664.8 L539.7,1668.1 L548.1,1671.5 L556.5,1674.9 L565.0,1678.3 L573.4,1681.8 L581.8,1685.2 L590.2,1688.7 L598.7,1692.3 L607.1,1695.8 L615.5,1699.4 L624.0,1703.0 L632.4,1706.6 L640.8,1710.2 L649.3,1713.9 L657.7,1717.6 L666.1,1721.3 L674.6,1725.0 L683.0,1728.8 L691.4,1732.6 L699.9,1736.4 L708.3,1740.2 L716.7,1744.1 L725.2,1747.9 L733.6,1751.8 L742.0,1755.7 L750.5,1759.7 L758.9,1763.7 L767.3,1767.7 L775.8,1771.7 L784.2,1775.7 L792.6,1779.8 L801.1,1783.9 L809.5,1788.0 L817.9,1792.1 L826.4,1796.2 L834.8,1800.4 L843.2,1804.6 L851.7,1808.8 L860.1,1813.1 L868.5,1817.3 L877.0,1821.6 L885.4,1825.9 L893.8,1830.3 L902.3,1834.6 L910.7,1839.0" fill="none" stroke="#0b57a0" stroke-width="5.7" stroke-linecap="butt" stroke-linejoin="round"/>
<path d="M246.3,1657.5 L253.3,1659.4 L260.4,1661.2 L267.4,1663.1 L274.5,1665.0 L281.5,1666.9 L288.6,1668.9 L295.6,1670.8 L302.7,1672.7 L309.7,1674.7 L316.8,1676.7 L323.8,1678.6 L330.9,1680.6 L337.9,1682.6 L345.0,1684.6 L352.0,1686.6 L359.0,1688.7 L366.1,1690.7 L373.1,1692.7 L380.2,1694.8 L387.2,1696.9 L394.3,1698.9 L401.3,1701.0 L408.4,1703.1 L415.4,1705.2 L422.5,1707.4 L429.5,1709.5 L436.6,1711.6 L443.6,1713.8 L450.7,1715.9 L457.7,1718.1 L464.8,1720.3 L471.8,1722.5 L478.8,1724.7 L485.9,1726.9 L492.9,1729.2 L500.0,1731.4 L507.0,1733.6 L514.1,1735.9 L521.1,1738.2 L528.2,1740.5 L535.2,1742.7 L542.3,1745.0 L549.3,1747.4 L556.4,1749.7 L563.4,1752.0 L570.5,1754.4 L577.5,1756.7 L584.5,1759.1 L591.6,1761.5 L598.6,1763.9 L605.7,1766.3 L612.7,1768.7 L619.8,1771.1 L626.8,1773.5 L633.9,1776.0 L640.9,1778.4 L648.0,1780.9 L655.0,1783.4 L662.1,1785.9 L669.1,1788.4 L676.2,1790.9 L683.2,1793.4 L690.3,1795.9 L697.3,1798.5 L704.3,1801.0 L711.4,1803.6 L718.4,1806.2 L725.5,1808.8 L732.5,1811.4 L739.6,1814.0 L746.6,1816.6 L753.7,1819.2 L760.7,1821.9 L767.8,1824.5 L774.8,1827.2 L781.9,1829.9 L788.9,1832.6 L796.0,1835.3 L803.0,1838.0" fill="none" stroke="#0b57a0" stroke-width="5.7" stroke-linecap="butt" stroke-linejoin="round"/>
<path d="M244.5,1748.2 L250.5,1749.5 L256.4,1750.8 L262.4,1752.1 L268.3,1753.3 L274.3,1754.5 L280.2,1755.7 L286.2,1756.8 L292.1,1758.0 L298.1,1759.1 L304.0,1760.2 L310.0,1761.3 L315.9,1762.3 L321.9,1763.4 L327.8,1764.4 L333.8,1765.4 L339.7,1766.4 L345.7,1767.4 L351.6,1768.3 L357.6,1769.3 L363.5,1770.2 L369.5,1771.2 L375.4,1772.1 L381.4,1773.0 L387.3,1773.9 L393.3,1774.8 L399.2,1775.7 L405.2,1776.6 L411.2,1777.5 L417.1,1778.4 L423.1,1779.3 L429.0,1780.2 L435.0,1781.1 L440.9,1782.0 L446.9,1782.8 L452.8,1783.7 L458.8,1784.6 L464.7,1785.5 L470.7,1786.4 L476.6,1787.3 L482.6,1788.2 L488.5,1789.2 L494.5,1790.1 L500.4,1791.0 L506.4,1792.0 L512.3,1792.9 L518.3,1793.9 L524.2,1794.9 L530.2,1795.9 L536.1,1796.9 L542.1,1798.0 L548.0,1799.0 L554.0,1800.1 L560.0,1801.2 L565.9,1802.3 L571.9,1803.4 L577.8,1804.6 L583.8,1805.7 L589.7,1806.9 L595.7,1808.1 L601.6,1809.4 L607.6,1810.7 L613.5,1812.0 L619.5,1813.3 L625.4,1814.6 L631.4,1816.0 L637.3,1817.4 L643.3,1818.9 L649.2,1820.4 L655.2,1821.9 L661.1,1823.4 L667.1,1825.0 L673.0,1826.6 L679.0,1828.3 L684.9,1829.9 L690.9,1831.7 L696.8,1833.4 L702.8,1835.3 L708.7,1837.1 L714.7,1839.0" fill="none" stroke="#0b57a0" stroke-width="5.7" stroke-linecap="butt" stroke-linejoin="round"/>
<rect x="287.6" y="1484.1" width="35.2" height="31.2" fill="#fff" stroke="#0b57a0" stroke-width="5.3" />
<text x="305.2" y="1507.3" font-size="21.5" text-anchor="middle">8</text>
<rect x="287.6" y="1570.9" width="35.2" height="31.2" fill="#fff" stroke="#0b57a0" stroke-width="5.3" />
<text x="305.2" y="1594.1" font-size="21.5" text-anchor="middle">6</text>
<rect x="287.6" y="1659.3" width="35.2" height="31.2" fill="#fff" stroke="#0b57a0" stroke-width="5.3" />
<text x="305.2" y="1682.5" font-size="21.5" text-anchor="middle">4</text>
<rect x="287.6" y="1744.8" width="35.2" height="31.2" fill="#fff" stroke="#0b57a0" stroke-width="5.3" />
<text x="305.2" y="1768.0" font-size="21.5" text-anchor="middle">2</text>
<text x="456.8" y="1587.0" font-size="17.5" fill="#0a9de0">0,4</text>
<text x="456.8" y="1610.0" font-size="17.5" fill="#0a9de0">14,1</text>
<text x="397.4" y="1653.0" font-size="17.5" fill="#0a9de0">0,2</text>
<text x="397.4" y="1676.0" font-size="17.5" fill="#0a9de0">7,06</text>
<text x="643.8" y="1675.5" font-size="17.5" fill="#0a9de0">0,6</text>
<text x="643.8" y="1698.5" font-size="17.5" fill="#0a9de0">21,2</text>
<text x="685.7" y="1631.7" font-size="17.5" fill="#0a9de0">0,8</text>
<text x="685.7" y="1654.7" font-size="17.5" fill="#0a9de0">28,3</text>
<rect x="1248.4" y="1398.0" width="760.4" height="72.7" fill="#ececec" stroke="#0f5c9e" stroke-width="2.2" />
<text x="1288.5" y="1454.7" font-size="53" font-weight="bold" fill="#0b5aa2" textLength="118.0" lengthAdjust="spacingAndGlyphs">T225</text>
<line x1="1523.0" y1="1423.0" x2="1629.0" y2="1423.0" stroke="#0b3a6c" stroke-width="5.8" />
<rect x="1559.8" y="1409.6" width="34.4" height="30.4" fill="#ececec" stroke="#0b3a6c" stroke-width="5.8" />
<line x1="1523.0" y1="1454.0" x2="1629.0" y2="1454.0" stroke="#0a9de0" stroke-width="3.8" />
<text x="1644.4" y="1432.8" font-size="21.5" textLength="163.0" lengthAdjust="spacingAndGlyphs">Air pressure (bar)</text>
<text x="1644.4" y="1460.2" font-size="21.5" fill="#0a9de0" textLength="326.5" lengthAdjust="spacingAndGlyphs">Air consumption (Nm<tspan font-size="14" dy="-8">3</tspan><tspan dy="8">/min, </tspan><tspan font-style="italic">SCFM</tspan>)</text>
<text x="1116.5" y="1418.5" font-size="21.5" font-weight="bold" textLength="59.0" lengthAdjust="spacingAndGlyphs">HEAD</text>
<text x="1116.5" y="1452.8" font-size="21.5" textLength="45.5" lengthAdjust="spacingAndGlyphs">PSIG</text>
<text x="1181.8" y="1452.8" font-size="21.5" textLength="53.0" lengthAdjust="spacingAndGlyphs">mWC</text>
<line x1="1248.8" y1="1840.2" x2="2008.5" y2="1840.2" stroke="#d3d3d3" stroke-width="1.6" />
<line x1="1248.8" y1="1794.7" x2="2008.5" y2="1794.7" stroke="#d3d3d3" stroke-width="1.6" />
<line x1="1248.8" y1="1749.2" x2="2008.5" y2="1749.2" stroke="#d3d3d3" stroke-width="1.6" />
<line x1="1248.8" y1="1703.7" x2="2008.5" y2="1703.7" stroke="#d3d3d3" stroke-width="1.6" />
<line x1="1248.8" y1="1658.2" x2="2008.5" y2="1658.2" stroke="#d3d3d3" stroke-width="1.6" />
<line x1="1248.8" y1="1612.8" x2="2008.5" y2="1612.8" stroke="#d3d3d3" stroke-width="1.6" />
<line x1="1248.8" y1="1567.3" x2="2008.5" y2="1567.3" stroke="#d3d3d3" stroke-width="1.6" />
<line x1="1248.8" y1="1521.8" x2="2008.5" y2="1521.8" stroke="#d3d3d3" stroke-width="1.6" />
<line x1="1248.8" y1="1476.3" x2="2008.5" y2="1476.3" stroke="#d3d3d3" stroke-width="1.6" />
<line x1="1248.8" y1="1476.3" x2="1248.8" y2="1840.2" stroke="#d3d3d3" stroke-width="1.6" />
<line x1="1357.3" y1="1476.3" x2="1357.3" y2="1840.2" stroke="#d3d3d3" stroke-width="1.6" />
<line x1="1465.9" y1="1476.3" x2="1465.9" y2="1840.2" stroke="#d3d3d3" stroke-width="1.6" />
<line x1="1574.4" y1="1476.3" x2="1574.4" y2="1840.2" stroke="#d3d3d3" stroke-width="1.6" />
<line x1="1682.9" y1="1476.3" x2="1682.9" y2="1840.2" stroke="#d3d3d3" stroke-width="1.6" />
<line x1="1791.4" y1="1476.3" x2="1791.4" y2="1840.2" stroke="#d3d3d3" stroke-width="1.6" />
<line x1="1900.0" y1="1476.3" x2="1900.0" y2="1840.2" stroke="#d3d3d3" stroke-width="1.6" />
<line x1="2008.5" y1="1476.3" x2="2008.5" y2="1840.2" stroke="#d3d3d3" stroke-width="1.6" />
<text x="1236.6" y="1802.2" font-size="21" stroke="#000" stroke-width="0.6" text-anchor="end">10</text>
<text x="1236.6" y="1756.7" font-size="21" stroke="#000" stroke-width="0.6" text-anchor="end">20</text>
<text x="1236.6" y="1711.2" font-size="21" stroke="#000" stroke-width="0.6" text-anchor="end">30</text>
<text x="1236.6" y="1665.8" font-size="21" stroke="#000" stroke-width="0.6" text-anchor="end">40</text>
<text x="1236.6" y="1620.3" font-size="21" stroke="#000" stroke-width="0.6" text-anchor="end">50</text>
<text x="1236.6" y="1574.8" font-size="21" stroke="#000" stroke-width="0.6" text-anchor="end">60</text>
<text x="1236.6" y="1529.3" font-size="21" stroke="#000" stroke-width="0.6" text-anchor="end">70</text>
<text x="1236.6" y="1483.8" font-size="21" stroke="#000" stroke-width="0.6" text-anchor="end">80</text>
<line x1="1180.7" y1="1476.3" x2="1180.7" y2="1840.2" stroke="#d8d8d8" stroke-width="1.6" />
<line x1="1172.7" y1="1840.2" x2="1180.7" y2="1840.2" stroke="#d8d8d8" stroke-width="1.6" />
<line x1="1172.7" y1="1776.2" x2="1180.7" y2="1776.2" stroke="#d8d8d8" stroke-width="1.6" />
<text x="1169.7" y="1784.2" font-size="23" text-anchor="end">20</text>
<line x1="1172.7" y1="1712.3" x2="1180.7" y2="1712.3" stroke="#d8d8d8" stroke-width="1.6" />
<text x="1169.7" y="1720.3" font-size="23" text-anchor="end">40</text>
<line x1="1172.7" y1="1648.3" x2="1180.7" y2="1648.3" stroke="#d8d8d8" stroke-width="1.6" />
<text x="1169.7" y="1656.3" font-size="23" text-anchor="end">60</text>
<line x1="1172.7" y1="1584.4" x2="1180.7" y2="1584.4" stroke="#d8d8d8" stroke-width="1.6" />
<text x="1169.7" y="1592.4" font-size="23" text-anchor="end">80</text>
<line x1="1172.7" y1="1520.4" x2="1180.7" y2="1520.4" stroke="#d8d8d8" stroke-width="1.6" />
<text x="1169.7" y="1528.4" font-size="23" text-anchor="end">100</text>
<text x="1248.8" y="1863.2" font-size="21" stroke="#000" stroke-width="0.6" text-anchor="middle">0</text>
<text x="1357.3" y="1863.2" font-size="21" stroke="#000" stroke-width="0.6" text-anchor="middle">50</text>
<text x="1465.9" y="1863.2" font-size="21" stroke="#000" stroke-width="0.6" text-anchor="middle">100</text>
<text x="1574.4" y="1863.2" font-size="21" stroke="#000" stroke-width="0.6" text-anchor="middle">150</text>
<text x="1682.9" y="1863.2" font-size="21" stroke="#000" stroke-width="0.6" text-anchor="middle">200</text>
<text x="1791.4" y="1863.2" font-size="21" stroke="#000" stroke-width="0.6" text-anchor="middle">250</text>
<text x="1900.0" y="1863.2" font-size="21" stroke="#000" stroke-width="0.6" text-anchor="middle">300</text>
<text x="2008.5" y="1863.2" font-size="21" stroke="#000" stroke-width="0.6" text-anchor="middle">350</text>
<text x="2052.5" y="1863.2" font-size="22" textLength="52.0" lengthAdjust="spacingAndGlyphs">l/min</text>
<line x1="1248.8" y1="1877.0" x2="2008.5" y2="1877.0" stroke="#d8d8d8" stroke-width="1.6" />
<line x1="1248.8" y1="1877.0" x2="1248.8" y2="1872.5" stroke="#d8d8d8" stroke-width="1.6" />
<text x="1248.8" y="1898.8" font-size="21" text-anchor="middle">0</text>
<line x1="1331.0" y1="1877.0" x2="1331.0" y2="1872.5" stroke="#d8d8d8" stroke-width="1.6" />
<text x="1331.0" y="1898.8" font-size="21" text-anchor="middle">10</text>
<line x1="1413.1" y1="1877.0" x2="1413.1" y2="1872.5" stroke="#d8d8d8" stroke-width="1.6" />
<text x="1413.1" y="1898.8" font-size="21" text-anchor="middle">20</text>
<line x1="1495.3" y1="1877.0" x2="1495.3" y2="1872.5" stroke="#d8d8d8" stroke-width="1.6" />
<text x="1495.3" y="1898.8" font-size="21" text-anchor="middle">30</text>
<line x1="1577.5" y1="1877.0" x2="1577.5" y2="1872.5" stroke="#d8d8d8" stroke-width="1.6" />
<text x="1577.5" y="1898.8" font-size="21" text-anchor="middle">40</text>
<line x1="1659.6" y1="1877.0" x2="1659.6" y2="1872.5" stroke="#d8d8d8" stroke-width="1.6" />
<text x="1659.6" y="1898.8" font-size="21" text-anchor="middle">50</text>
<line x1="1741.8" y1="1877.0" x2="1741.8" y2="1872.5" stroke="#d8d8d8" stroke-width="1.6" />
<text x="1741.8" y="1898.8" font-size="21" text-anchor="middle">60</text>
<line x1="1824.0" y1="1877.0" x2="1824.0" y2="1872.5" stroke="#d8d8d8" stroke-width="1.6" />
<text x="1824.0" y="1898.8" font-size="21" text-anchor="middle">70</text>
<line x1="1906.1" y1="1877.0" x2="1906.1" y2="1872.5" stroke="#d8d8d8" stroke-width="1.6" />
<text x="1906.1" y="1898.8" font-size="21" text-anchor="middle">80</text>
<line x1="1988.3" y1="1877.0" x2="1988.3" y2="1872.5" stroke="#d8d8d8" stroke-width="1.6" />
<text x="1988.3" y="1898.8" font-size="21" text-anchor="middle">90</text>
<text x="2017.0" y="1898.8" font-size="21.5" textLength="76.0" lengthAdjust="spacingAndGlyphs">USGPM</text>
<line x1="1248.8" y1="1910.8" x2="2008.5" y2="1910.8" stroke="#d8d8d8" stroke-width="1.6" />
<line x1="1248.8" y1="1910.8" x2="1248.8" y2="1906.3" stroke="#d8d8d8" stroke-width="1.6" />
<text x="1248.8" y="1932.6" font-size="21" text-anchor="middle">0</text>
<line x1="1393.5" y1="1910.8" x2="1393.5" y2="1906.3" stroke="#d8d8d8" stroke-width="1.6" />
<text x="1393.5" y="1932.6" font-size="21" text-anchor="middle">4</text>
<line x1="1538.2" y1="1910.8" x2="1538.2" y2="1906.3" stroke="#d8d8d8" stroke-width="1.6" />
<text x="1538.2" y="1932.6" font-size="21" text-anchor="middle">8</text>
<line x1="1682.9" y1="1910.8" x2="1682.9" y2="1906.3" stroke="#d8d8d8" stroke-width="1.6" />
<text x="1682.9" y="1932.6" font-size="21" text-anchor="middle">12</text>
<line x1="1827.6" y1="1910.8" x2="1827.6" y2="1906.3" stroke="#d8d8d8" stroke-width="1.6" />
<text x="1827.6" y="1932.6" font-size="21" text-anchor="middle">16</text>
<line x1="1972.3" y1="1910.8" x2="1972.3" y2="1906.3" stroke="#d8d8d8" stroke-width="1.6" />
<text x="1972.3" y="1932.6" font-size="21" text-anchor="middle">20</text>
<text x="2054.5" y="1932.6" font-size="21.5" textLength="46.0" lengthAdjust="spacingAndGlyphs">m<tspan font-size="14" dy="-8">3</tspan><tspan dy="8">/h</tspan></text>
<text x="1985.5" y="1961.5" font-size="20.5" stroke="#000" stroke-width="0.6" textLength="97.5" lengthAdjust="spacingAndGlyphs">CAPACITY</text>
<path d="M1294.6,1516.4 L1295.1,1520.8 L1295.7,1525.2 L1296.3,1529.6 L1297.0,1534.0 L1297.7,1538.4 L1298.5,1542.8 L1299.4,1547.1 L1300.3,1551.4 L1301.3,1555.8 L1302.3,1560.1 L1303.4,1564.3 L1304.5,1568.6 L1305.7,1572.9 L1306.9,1577.1 L1308.2,1581.3 L1309.5,1585.5 L1310.9,1589.7 L1312.4,1593.8 L1313.9,1597.9 L1315.5,1602.0 L1317.1,1606.1 L1318.7,1610.2 L1320.4,1614.2 L1322.2,1618.2 L1324.0,1622.2 L1325.9,1626.1 L1327.8,1630.0 L1329.8,1633.9 L1331.8,1637.8 L1333.9,1641.6 L1336.0,1645.4 L1338.1,1649.2 L1340.4,1652.9 L1342.6,1656.6 L1344.9,1660.3 L1347.3,1664.0 L1349.7,1667.6 L1352.2,1671.1 L1354.7,1674.7 L1357.2,1678.2 L1359.8,1681.6 L1362.4,1685.1 L1365.1,1688.5 L1367.8,1691.8 L1370.6,1695.1 L1373.4,1698.4 L1376.3,1701.6 L1379.2,1704.8 L1382.2,1708.0 L1385.1,1711.1 L1388.2,1714.2 L1391.2,1717.2 L1394.4,1720.2 L1397.5,1723.2 L1400.7,1726.1 L1403.9,1729.0 L1407.2,1731.8 L1410.5,1734.7 L1413.8,1737.4 L1417.2,1740.2 L1420.6,1742.8 L1424.0,1745.5 L1427.5,1748.1 L1431.0,1750.7 L1434.5,1753.2 L1438.1,1755.7 L1441.7,1758.2 L1445.3,1760.6 L1449.0,1763.0 L1452.7,1765.3 L1456.4,1767.6 L1460.1,1769.9 L1463.9,1772.1 L1467.7,1774.3 L1471.5,1776.4 L1475.4,1778.5 L1479.3,1780.6 L1483.2,1782.6 L1487.1,1784.6 L1491.0,1786.5 L1495.0,1788.4 L1499.0,1790.3 L1503.0,1792.1 L1507.0,1793.9 L1511.1,1795.7 L1515.2,1797.4 L1519.3,1799.0 L1523.4,1800.7 L1527.5,1802.2 L1531.6,1803.8 L1535.8,1805.3 L1540.0,1806.8 L1544.2,1808.2 L1548.4,1809.6 L1552.6,1810.9 L1556.8,1812.2 L1561.1,1813.5 L1565.3,1814.7 L1569.6,1815.9" fill="none" stroke="#0a9de0" stroke-width="3.5" stroke-linecap="butt" stroke-linejoin="round"/>
<path d="M1359.0,1511.4 L1359.5,1516.5 L1360.0,1521.6 L1360.6,1526.7 L1361.4,1531.7 L1362.2,1536.7 L1363.1,1541.6 L1364.1,1546.6 L1365.2,1551.5 L1366.3,1556.3 L1367.6,1561.1 L1368.9,1565.9 L1370.3,1570.7 L1371.8,1575.4 L1373.4,1580.1 L1375.1,1584.7 L1376.8,1589.3 L1378.6,1593.8 L1380.5,1598.4 L1382.5,1602.8 L1384.5,1607.3 L1386.6,1611.7 L1388.8,1616.0 L1391.1,1620.3 L1393.4,1624.6 L1395.8,1628.8 L1398.3,1633.0 L1400.8,1637.2 L1403.4,1641.3 L1406.1,1645.3 L1408.8,1649.3 L1411.6,1653.3 L1414.4,1657.2 L1417.4,1661.1 L1420.3,1664.9 L1423.4,1668.7 L1426.5,1672.4 L1429.6,1676.1 L1432.8,1679.7 L1436.1,1683.3 L1439.4,1686.8 L1442.7,1690.3 L1446.2,1693.7 L1449.6,1697.1 L1453.2,1700.4 L1456.7,1703.7 L1460.3,1706.9 L1464.0,1710.1 L1467.7,1713.2 L1471.5,1716.2 L1475.3,1719.2 L1479.1,1722.2 L1483.0,1725.1 L1486.9,1727.9 L1490.9,1730.7 L1494.9,1733.4 L1498.9,1736.1 L1503.0,1738.7 L1507.1,1741.3 L1511.2,1743.9 L1515.4,1746.4 L1519.6,1748.8 L1523.8,1751.2 L1528.1,1753.6 L1532.4,1755.9 L1536.7,1758.1 L1541.1,1760.3 L1545.5,1762.5 L1549.9,1764.7 L1554.3,1766.8 L1558.8,1768.8 L1563.3,1770.8 L1567.7,1772.8 L1572.3,1774.7 L1576.8,1776.7 L1581.4,1778.5 L1585.9,1780.4 L1590.5,1782.2 L1595.1,1783.9 L1599.7,1785.6 L1604.4,1787.3 L1609.0,1789.0 L1613.7,1790.7 L1618.3,1792.3 L1623.0,1793.8 L1627.7,1795.4 L1632.4,1796.9 L1637.0,1798.4 L1641.7,1799.9 L1646.4,1801.3 L1651.1,1802.8 L1655.8,1804.2 L1660.5,1805.5 L1665.3,1806.9 L1670.0,1808.2 L1674.7,1809.5 L1679.3,1810.8 L1684.0,1812.1 L1688.7,1813.4 L1693.4,1814.6" fill="none" stroke="#0a9de0" stroke-width="3.5" stroke-linecap="butt" stroke-linejoin="round"/>
<path d="M1457.0,1553.5 L1457.7,1558.0 L1458.5,1562.5 L1459.4,1567.0 L1460.3,1571.4 L1461.3,1575.7 L1462.4,1580.0 L1463.6,1584.3 L1464.9,1588.5 L1466.2,1592.7 L1467.6,1596.8 L1469.1,1600.9 L1470.6,1605.0 L1472.3,1609.0 L1474.0,1612.9 L1475.7,1616.8 L1477.5,1620.7 L1479.4,1624.5 L1481.4,1628.3 L1483.4,1632.1 L1485.5,1635.8 L1487.6,1639.4 L1489.8,1643.1 L1492.1,1646.6 L1494.4,1650.2 L1496.8,1653.7 L1499.3,1657.1 L1501.8,1660.5 L1504.3,1663.9 L1507.0,1667.3 L1509.6,1670.5 L1512.3,1673.8 L1515.1,1677.0 L1517.9,1680.2 L1520.8,1683.3 L1523.7,1686.4 L1526.7,1689.5 L1529.7,1692.5 L1532.8,1695.5 L1535.9,1698.4 L1539.0,1701.3 L1542.2,1704.2 L1545.4,1707.0 L1548.7,1709.8 L1552.0,1712.5 L1555.4,1715.3 L1558.7,1717.9 L1562.2,1720.6 L1565.6,1723.2 L1569.1,1725.7 L1572.6,1728.3 L1576.2,1730.8 L1579.8,1733.2 L1583.4,1735.6 L1587.1,1738.0 L1590.8,1740.4 L1594.5,1742.7 L1598.2,1745.0 L1602.0,1747.2 L1605.7,1749.4 L1609.6,1751.6 L1613.4,1753.7 L1617.2,1755.9 L1621.1,1757.9 L1625.0,1760.0 L1628.9,1762.0 L1632.9,1763.9 L1636.8,1765.9 L1640.8,1767.8 L1644.7,1769.7 L1648.7,1771.5 L1652.7,1773.3 L1656.8,1775.1 L1660.8,1776.8 L1664.8,1778.6 L1668.9,1780.2 L1672.9,1781.9 L1677.0,1783.5 L1681.0,1785.1 L1685.1,1786.7 L1689.2,1788.2 L1693.3,1789.7 L1697.3,1791.1 L1701.4,1792.6 L1705.5,1794.0 L1709.6,1795.4 L1713.7,1796.7 L1717.7,1798.0 L1721.8,1799.3 L1725.9,1800.6 L1729.9,1801.8 L1734.0,1803.0 L1738.0,1804.2 L1742.1,1805.3 L1746.1,1806.4 L1750.1,1807.5 L1754.1,1808.6 L1758.1,1809.6 L1762.0,1810.6 L1766.0,1811.6" fill="none" stroke="#0a9de0" stroke-width="3.5" stroke-linecap="butt" stroke-linejoin="round"/>
<path d="M1543.3,1589.0 L1544.8,1592.8 L1546.3,1596.6 L1547.9,1600.4 L1549.5,1604.1 L1551.2,1607.8 L1552.9,1611.4 L1554.7,1615.1 L1556.5,1618.7 L1558.4,1622.2 L1560.3,1625.7 L1562.2,1629.2 L1564.2,1632.7 L1566.2,1636.1 L1568.3,1639.5 L1570.4,1642.9 L1572.6,1646.2 L1574.8,1649.5 L1577.0,1652.8 L1579.3,1656.0 L1581.6,1659.2 L1584.0,1662.4 L1586.4,1665.5 L1588.8,1668.6 L1591.3,1671.7 L1593.8,1674.7 L1596.3,1677.7 L1598.9,1680.7 L1601.5,1683.7 L1604.1,1686.6 L1606.8,1689.5 L1609.5,1692.3 L1612.3,1695.1 L1615.1,1697.9 L1617.9,1700.7 L1620.7,1703.4 L1623.6,1706.1 L1626.5,1708.8 L1629.4,1711.4 L1632.4,1714.0 L1635.4,1716.6 L1638.4,1719.1 L1641.5,1721.6 L1644.5,1724.1 L1647.6,1726.6 L1650.8,1729.0 L1653.9,1731.4 L1657.1,1733.7 L1660.3,1736.1 L1663.5,1738.4 L1666.8,1740.6 L1670.1,1742.9 L1673.4,1745.1 L1676.7,1747.3 L1680.0,1749.4 L1683.4,1751.5 L1686.8,1753.6 L1690.2,1755.7 L1693.6,1757.7 L1697.1,1759.7 L1700.5,1761.7 L1704.0,1763.7 L1707.5,1765.6 L1711.1,1767.5 L1714.6,1769.3 L1718.1,1771.2 L1721.7,1773.0 L1725.3,1774.8 L1728.9,1776.5 L1732.5,1778.2 L1736.1,1779.9 L1739.8,1781.6 L1743.4,1783.2 L1747.1,1784.8 L1750.8,1786.4 L1754.4,1787.9 L1758.1,1789.5 L1761.9,1791.0 L1765.6,1792.4 L1769.3,1793.9 L1773.0,1795.3 L1776.8,1796.7 L1780.5,1798.0 L1784.3,1799.4 L1788.1,1800.7 L1791.8,1801.9 L1795.6,1803.2 L1799.4,1804.4 L1803.2,1805.6 L1807.0,1806.8 L1810.8,1807.9 L1814.6,1809.0 L1818.4,1810.1 L1822.2,1811.2 L1826.0,1812.2 L1829.8,1813.2 L1833.6,1814.2 L1837.4,1815.2 L1841.2,1816.1 L1845.0,1817.0" fill="none" stroke="#0a9de0" stroke-width="3.5" stroke-linecap="butt" stroke-linejoin="round"/>
<path d="M1248.8,1475.5 L1258.2,1479.1 L1267.5,1482.8 L1276.9,1486.5 L1286.2,1490.2 L1295.6,1494.0 L1305.0,1497.7 L1314.3,1501.5 L1323.7,1505.3 L1333.1,1509.1 L1342.4,1513.0 L1351.8,1516.9 L1361.1,1520.8 L1370.5,1524.7 L1379.9,1528.7 L1389.2,1532.7 L1398.6,1536.7 L1408.0,1540.7 L1417.3,1544.7 L1426.7,1548.8 L1436.0,1552.9 L1445.4,1557.0 L1454.8,1561.2 L1464.1,1565.4 L1473.5,1569.6 L1482.9,1573.8 L1492.2,1578.0 L1501.6,1582.3 L1510.9,1586.6 L1520.3,1590.9 L1529.7,1595.3 L1539.0,1599.6 L1548.4,1604.0 L1557.7,1608.5 L1567.1,1612.9 L1576.5,1617.4 L1585.8,1621.9 L1595.2,1626.4 L1604.6,1631.0 L1613.9,1635.5 L1623.3,1640.1 L1632.6,1644.8 L1642.0,1649.4 L1651.4,1654.1 L1660.7,1658.8 L1670.1,1663.5 L1679.5,1668.3 L1688.8,1673.0 L1698.2,1677.8 L1707.5,1682.7 L1716.9,1687.5 L1726.3,1692.4 L1735.6,1697.3 L1745.0,1702.2 L1754.3,1707.2 L1763.7,1712.2 L1773.1,1717.2 L1782.4,1722.2 L1791.8,1727.3 L1801.2,1732.4 L1810.5,1737.5 L1819.9,1742.6 L1829.2,1747.8 L1838.6,1753.0 L1848.0,1758.2 L1857.3,1763.5 L1866.7,1768.7 L1876.1,1774.0 L1885.4,1779.4 L1894.8,1784.7 L1904.1,1790.1 L1913.5,1795.5 L1922.9,1800.9 L1932.2,1806.4 L1941.6,1811.9 L1951.0,1817.4 L1960.3,1822.9 L1969.7,1828.5 L1979.0,1834.1 L1988.4,1839.7" fill="none" stroke="#0b3a6c" stroke-width="5.7" stroke-linecap="butt" stroke-linejoin="round"/>
<path d="M1248.8,1565.8 L1257.0,1568.5 L1265.3,1571.1 L1273.5,1573.8 L1281.7,1576.5 L1289.9,1579.3 L1298.2,1582.0 L1306.4,1584.7 L1314.6,1587.5 L1322.8,1590.2 L1331.1,1593.0 L1339.3,1595.8 L1347.5,1598.6 L1355.7,1601.4 L1364.0,1604.3 L1372.2,1607.1 L1380.4,1610.0 L1388.7,1612.9 L1396.9,1615.8 L1405.1,1618.7 L1413.3,1621.6 L1421.6,1624.6 L1429.8,1627.5 L1438.0,1630.5 L1446.2,1633.5 L1454.5,1636.6 L1462.7,1639.6 L1470.9,1642.7 L1479.1,1645.8 L1487.4,1648.9 L1495.6,1652.0 L1503.8,1655.2 L1512.1,1658.4 L1520.3,1661.6 L1528.5,1664.8 L1536.7,1668.0 L1545.0,1671.3 L1553.2,1674.6 L1561.4,1677.9 L1569.6,1681.3 L1577.9,1684.6 L1586.1,1688.0 L1594.3,1691.4 L1602.5,1694.9 L1610.8,1698.4 L1619.0,1701.9 L1627.2,1705.4 L1635.4,1709.0 L1643.7,1712.6 L1651.9,1716.2 L1660.1,1719.8 L1668.4,1723.5 L1676.6,1727.2 L1684.8,1730.9 L1693.0,1734.7 L1701.3,1738.5 L1709.5,1742.4 L1717.7,1746.2 L1725.9,1750.1 L1734.2,1754.0 L1742.4,1758.0 L1750.6,1762.0 L1758.8,1766.0 L1767.1,1770.1 L1775.3,1774.2 L1783.5,1778.3 L1791.8,1782.5 L1800.0,1786.7 L1808.2,1791.0 L1816.4,1795.3 L1824.7,1799.6 L1832.9,1803.9 L1841.1,1808.3 L1849.3,1812.8 L1857.6,1817.2 L1865.8,1821.7 L1874.0,1826.3 L1882.2,1830.9 L1890.5,1835.5 L1898.7,1840.2" fill="none" stroke="#0b3a6c" stroke-width="5.7" stroke-linecap="butt" stroke-linejoin="round"/>
<path d="M1250.5,1657.5 L1257.5,1659.3 L1264.5,1661.1 L1271.6,1662.9 L1278.6,1664.8 L1285.6,1666.6 L1292.6,1668.5 L1299.6,1670.3 L1306.7,1672.2 L1313.7,1674.1 L1320.7,1676.0 L1327.7,1677.9 L1334.7,1679.8 L1341.7,1681.8 L1348.8,1683.7 L1355.8,1685.6 L1362.8,1687.6 L1369.8,1689.6 L1376.8,1691.6 L1383.9,1693.6 L1390.9,1695.6 L1397.9,1697.6 L1404.9,1699.6 L1411.9,1701.6 L1419.0,1703.7 L1426.0,1705.8 L1433.0,1707.8 L1440.0,1709.9 L1447.0,1712.0 L1454.1,1714.1 L1461.1,1716.3 L1468.1,1718.4 L1475.1,1720.6 L1482.1,1722.7 L1489.1,1724.9 L1496.2,1727.1 L1503.2,1729.3 L1510.2,1731.5 L1517.2,1733.8 L1524.2,1736.0 L1531.3,1738.3 L1538.3,1740.5 L1545.3,1742.8 L1552.3,1745.1 L1559.3,1747.4 L1566.4,1749.8 L1573.4,1752.1 L1580.4,1754.5 L1587.4,1756.9 L1594.4,1759.2 L1601.4,1761.7 L1608.5,1764.1 L1615.5,1766.5 L1622.5,1769.0 L1629.5,1771.4 L1636.5,1773.9 L1643.6,1776.4 L1650.6,1778.9 L1657.6,1781.4 L1664.6,1784.0 L1671.6,1786.5 L1678.7,1789.1 L1685.7,1791.7 L1692.7,1794.3 L1699.7,1796.9 L1706.7,1799.6 L1713.8,1802.2 L1720.8,1804.9 L1727.8,1807.6 L1734.8,1810.3 L1741.8,1813.1 L1748.8,1815.8 L1755.9,1818.6 L1762.9,1821.3 L1769.9,1824.1 L1776.9,1827.0 L1783.9,1829.8 L1791.0,1832.6 L1798.0,1835.5 L1805.0,1838.4" fill="none" stroke="#0b3a6c" stroke-width="5.7" stroke-linecap="butt" stroke-linejoin="round"/>
<path d="M1248.8,1748.2 L1254.6,1749.5 L1260.4,1750.7 L1266.2,1751.9 L1272.0,1753.1 L1277.8,1754.3 L1283.6,1755.5 L1289.4,1756.7 L1295.1,1757.8 L1300.9,1759.0 L1306.7,1760.1 L1312.5,1761.2 L1318.3,1762.3 L1324.1,1763.4 L1329.9,1764.5 L1335.7,1765.5 L1341.5,1766.6 L1347.3,1767.6 L1353.1,1768.7 L1358.9,1769.7 L1364.7,1770.7 L1370.5,1771.8 L1376.3,1772.8 L1382.1,1773.8 L1387.8,1774.8 L1393.6,1775.8 L1399.4,1776.8 L1405.2,1777.7 L1411.0,1778.7 L1416.8,1779.7 L1422.6,1780.7 L1428.4,1781.7 L1434.2,1782.7 L1440.0,1783.6 L1445.8,1784.6 L1451.6,1785.6 L1457.4,1786.6 L1463.2,1787.6 L1469.0,1788.6 L1474.8,1789.6 L1480.5,1790.6 L1486.3,1791.6 L1492.1,1792.6 L1497.9,1793.6 L1503.7,1794.6 L1509.5,1795.6 L1515.3,1796.7 L1521.1,1797.7 L1526.9,1798.8 L1532.7,1799.8 L1538.5,1800.9 L1544.3,1802.0 L1550.1,1803.1 L1555.9,1804.2 L1561.7,1805.3 L1567.5,1806.4 L1573.2,1807.6 L1579.0,1808.7 L1584.8,1809.9 L1590.6,1811.1 L1596.4,1812.3 L1602.2,1813.5 L1608.0,1814.8 L1613.8,1816.0 L1619.6,1817.3 L1625.4,1818.6 L1631.2,1819.9 L1637.0,1821.2 L1642.8,1822.6 L1648.6,1824.0 L1654.4,1825.4 L1660.2,1826.8 L1665.9,1828.2 L1671.7,1829.7 L1677.5,1831.2 L1683.3,1832.7 L1689.1,1834.2 L1694.9,1835.8 L1700.7,1837.4 L1706.5,1839.0" fill="none" stroke="#0b3a6c" stroke-width="5.7" stroke-linecap="butt" stroke-linejoin="round"/>
<rect x="1291.7" y="1483.9" width="35.2" height="31.2" fill="#fff" stroke="#0b3a6c" stroke-width="5.3" />
<text x="1309.3" y="1507.1" font-size="21.5" text-anchor="middle">8</text>
<rect x="1291.7" y="1570.9" width="35.2" height="31.2" fill="#fff" stroke="#0b3a6c" stroke-width="5.3" />
<text x="1309.3" y="1594.1" font-size="21.5" text-anchor="middle">6</text>
<rect x="1291.7" y="1659.2" width="35.2" height="31.2" fill="#fff" stroke="#0b3a6c" stroke-width="5.3" />
<text x="1309.3" y="1682.4" font-size="21.5" text-anchor="middle">4</text>
<rect x="1291.7" y="1744.8" width="35.2" height="31.2" fill="#fff" stroke="#0b3a6c" stroke-width="5.3" />
<text x="1309.3" y="1768.0" font-size="21.5" text-anchor="middle">2</text>
<text x="1309.0" y="1539.0" font-size="17.5" fill="#0a9de0">0,3</text>
<text x="1309.0" y="1562.0" font-size="17.5" fill="#0a9de0" font-style="italic">10,6</text>
<text x="1394.9" y="1585.3" font-size="17.5" fill="#0a9de0">0,6</text>
<text x="1394.9" y="1608.3" font-size="17.5" fill="#0a9de0" font-style="italic">21,2</text>
<text x="1489.4" y="1607.9" font-size="17.5" fill="#0a9de0">0,9</text>
<text x="1489.4" y="1630.9" font-size="17.5" fill="#0a9de0" font-style="italic">31,8</text>
<text x="1625.5" y="1675.5" font-size="17.5" fill="#0a9de0">1,2</text>
<text x="1625.5" y="1698.5" font-size="17.5" fill="#0a9de0" font-style="italic">42,4</text>
<rect x="243.4" y="2024.7" width="760.4" height="72.8" fill="#ececec" stroke="#0f5c9e" stroke-width="2.2" />
<text x="283.5" y="2081.3" font-size="53" font-weight="bold" fill="#0b5aa2" textLength="118.5" lengthAdjust="spacingAndGlyphs">T425</text>
<line x1="518.0" y1="2049.7" x2="624.0" y2="2049.7" stroke="#0b3a6c" stroke-width="5.8" />
<rect x="554.8" y="2036.3" width="34.4" height="30.4" fill="#ececec" stroke="#0b3a6c" stroke-width="5.8" />
<line x1="518.0" y1="2080.7" x2="624.0" y2="2080.7" stroke="#0a9de0" stroke-width="3.8" />
<text x="638.2" y="2057.0" font-size="21.5" textLength="163.0" lengthAdjust="spacingAndGlyphs">Air pressure (bar)</text>
<text x="638.2" y="2084.4" font-size="21.5" fill="#0a9de0" textLength="326.5" lengthAdjust="spacingAndGlyphs">Air consumption (Nm<tspan font-size="14" dy="-8">3</tspan><tspan dy="8">/min, </tspan><tspan font-style="italic">SCFM</tspan>)</text>
<text x="112.0" y="2045.2" font-size="21.5" font-weight="bold" textLength="59.0" lengthAdjust="spacingAndGlyphs">HEAD</text>
<text x="112.0" y="2079.5" font-size="21.5" textLength="45.5" lengthAdjust="spacingAndGlyphs">PSIG</text>
<text x="177.3" y="2079.5" font-size="21.5" textLength="53.0" lengthAdjust="spacingAndGlyphs">mWC</text>
<line x1="244.5" y1="2465.2" x2="1003.5" y2="2465.2" stroke="#e2e2e2" stroke-width="1.6" />
<line x1="244.5" y1="2419.7" x2="1003.5" y2="2419.7" stroke="#e2e2e2" stroke-width="1.6" />
<line x1="244.5" y1="2374.2" x2="1003.5" y2="2374.2" stroke="#e2e2e2" stroke-width="1.6" />
<line x1="244.5" y1="2328.7" x2="1003.5" y2="2328.7" stroke="#e2e2e2" stroke-width="1.6" />
<line x1="244.5" y1="2283.2" x2="1003.5" y2="2283.2" stroke="#e2e2e2" stroke-width="1.6" />
<line x1="244.5" y1="2237.8" x2="1003.5" y2="2237.8" stroke="#e2e2e2" stroke-width="1.6" />
<line x1="244.5" y1="2192.3" x2="1003.5" y2="2192.3" stroke="#e2e2e2" stroke-width="1.6" />
<line x1="244.5" y1="2146.8" x2="1003.5" y2="2146.8" stroke="#e2e2e2" stroke-width="1.6" />
<line x1="244.5" y1="2101.3" x2="1003.5" y2="2101.3" stroke="#e2e2e2" stroke-width="1.6" />
<line x1="244.5" y1="2101.3" x2="244.5" y2="2465.2" stroke="#e2e2e2" stroke-width="1.6" />
<line x1="371.0" y1="2101.3" x2="371.0" y2="2465.2" stroke="#e2e2e2" stroke-width="1.6" />
<line x1="497.5" y1="2101.3" x2="497.5" y2="2465.2" stroke="#e2e2e2" stroke-width="1.6" />
<line x1="624.0" y1="2101.3" x2="624.0" y2="2465.2" stroke="#e2e2e2" stroke-width="1.6" />
<line x1="750.5" y1="2101.3" x2="750.5" y2="2465.2" stroke="#e2e2e2" stroke-width="1.6" />
<line x1="877.0" y1="2101.3" x2="877.0" y2="2465.2" stroke="#e2e2e2" stroke-width="1.6" />
<line x1="1003.5" y1="2101.3" x2="1003.5" y2="2465.2" stroke="#e2e2e2" stroke-width="1.6" />
<text x="233.5" y="2427.2" font-size="21" stroke="#000" stroke-width="0.6" text-anchor="end">10</text>
<text x="233.5" y="2381.7" font-size="21" stroke="#000" stroke-width="0.6" text-anchor="end">20</text>
<text x="233.5" y="2336.2" font-size="21" stroke="#000" stroke-width="0.6" text-anchor="end">30</text>
<text x="233.5" y="2290.8" font-size="21" stroke="#000" stroke-width="0.6" text-anchor="end">40</text>
<text x="233.5" y="2245.3" font-size="21" stroke="#000" stroke-width="0.6" text-anchor="end">50</text>
<text x="233.5" y="2199.8" font-size="21" stroke="#000" stroke-width="0.6" text-anchor="end">60</text>
<text x="233.5" y="2154.3" font-size="21" stroke="#000" stroke-width="0.6" text-anchor="end">70</text>
<text x="233.5" y="2108.8" font-size="21" stroke="#000" stroke-width="0.6" text-anchor="end">80</text>
<line x1="177.0" y1="2101.3" x2="177.0" y2="2465.2" stroke="#d8d8d8" stroke-width="1.6" />
<line x1="169.0" y1="2465.2" x2="177.0" y2="2465.2" stroke="#d8d8d8" stroke-width="1.6" />
<line x1="169.0" y1="2401.2" x2="177.0" y2="2401.2" stroke="#d8d8d8" stroke-width="1.6" />
<text x="166.0" y="2409.2" font-size="23" text-anchor="end">20</text>
<line x1="169.0" y1="2337.3" x2="177.0" y2="2337.3" stroke="#d8d8d8" stroke-width="1.6" />
<text x="166.0" y="2345.3" font-size="23" text-anchor="end">40</text>
<line x1="169.0" y1="2273.3" x2="177.0" y2="2273.3" stroke="#d8d8d8" stroke-width="1.6" />
<text x="166.0" y="2281.3" font-size="23" text-anchor="end">60</text>
<line x1="169.0" y1="2209.4" x2="177.0" y2="2209.4" stroke="#d8d8d8" stroke-width="1.6" />
<text x="166.0" y="2217.4" font-size="23" text-anchor="end">80</text>
<line x1="169.0" y1="2145.4" x2="177.0" y2="2145.4" stroke="#d8d8d8" stroke-width="1.6" />
<text x="166.0" y="2153.4" font-size="23" text-anchor="end">100</text>
<text x="244.5" y="2487.7" font-size="21" stroke="#000" stroke-width="0.6" text-anchor="middle">0</text>
<text x="371.0" y="2487.7" font-size="21" stroke="#000" stroke-width="0.6" text-anchor="middle">100</text>
<text x="497.5" y="2487.7" font-size="21" stroke="#000" stroke-width="0.6" text-anchor="middle">200</text>
<text x="624.0" y="2487.7" font-size="21" stroke="#000" stroke-width="0.6" text-anchor="middle">300</text>
<text x="750.5" y="2487.7" font-size="21" stroke="#000" stroke-width="0.6" text-anchor="middle">400</text>
<text x="877.0" y="2487.7" font-size="21" stroke="#000" stroke-width="0.6" text-anchor="middle">500</text>
<text x="1003.5" y="2487.7" font-size="21" stroke="#000" stroke-width="0.6" text-anchor="middle">600</text>
<text x="1047.5" y="2487.7" font-size="22" textLength="52.0" lengthAdjust="spacingAndGlyphs">l/min</text>
<line x1="244.5" y1="2502.0" x2="1003.5" y2="2502.0" stroke="#d8d8d8" stroke-width="1.6" />
<line x1="244.5" y1="2502.0" x2="244.5" y2="2497.5" stroke="#d8d8d8" stroke-width="1.6" />
<text x="244.5" y="2523.5" font-size="21" text-anchor="middle">0</text>
<line x1="340.3" y1="2502.0" x2="340.3" y2="2497.5" stroke="#d8d8d8" stroke-width="1.6" />
<text x="340.3" y="2523.5" font-size="21" text-anchor="middle">20</text>
<line x1="436.0" y1="2502.0" x2="436.0" y2="2497.5" stroke="#d8d8d8" stroke-width="1.6" />
<text x="436.0" y="2523.5" font-size="21" text-anchor="middle">40</text>
<line x1="531.8" y1="2502.0" x2="531.8" y2="2497.5" stroke="#d8d8d8" stroke-width="1.6" />
<text x="531.8" y="2523.5" font-size="21" text-anchor="middle">60</text>
<line x1="627.6" y1="2502.0" x2="627.6" y2="2497.5" stroke="#d8d8d8" stroke-width="1.6" />
<text x="627.6" y="2523.5" font-size="21" text-anchor="middle">80</text>
<line x1="723.4" y1="2502.0" x2="723.4" y2="2497.5" stroke="#d8d8d8" stroke-width="1.6" />
<text x="723.4" y="2523.5" font-size="21" text-anchor="middle">100</text>
<line x1="819.1" y1="2502.0" x2="819.1" y2="2497.5" stroke="#d8d8d8" stroke-width="1.6" />
<text x="819.1" y="2523.5" font-size="21" text-anchor="middle">120</text>
<line x1="914.9" y1="2502.0" x2="914.9" y2="2497.5" stroke="#d8d8d8" stroke-width="1.6" />
<text x="914.9" y="2523.5" font-size="21" text-anchor="middle">140</text>
<text x="1012.0" y="2523.5" font-size="21.5" textLength="76.0" lengthAdjust="spacingAndGlyphs">USGPM</text>
<line x1="244.5" y1="2535.9" x2="1003.5" y2="2535.9" stroke="#d8d8d8" stroke-width="1.6" />
<line x1="244.5" y1="2535.9" x2="244.5" y2="2531.4" stroke="#d8d8d8" stroke-width="1.6" />
<text x="244.5" y="2557.7" font-size="21" text-anchor="middle">0</text>
<line x1="328.8" y1="2535.9" x2="328.8" y2="2531.4" stroke="#d8d8d8" stroke-width="1.6" />
<text x="328.8" y="2557.7" font-size="21" text-anchor="middle">4</text>
<line x1="413.2" y1="2535.9" x2="413.2" y2="2531.4" stroke="#d8d8d8" stroke-width="1.6" />
<text x="413.2" y="2557.7" font-size="21" text-anchor="middle">8</text>
<line x1="497.5" y1="2535.9" x2="497.5" y2="2531.4" stroke="#d8d8d8" stroke-width="1.6" />
<text x="497.5" y="2557.7" font-size="21" text-anchor="middle">12</text>
<line x1="581.8" y1="2535.9" x2="581.8" y2="2531.4" stroke="#d8d8d8" stroke-width="1.6" />
<text x="581.8" y="2557.7" font-size="21" text-anchor="middle">16</text>
<line x1="666.2" y1="2535.9" x2="666.2" y2="2531.4" stroke="#d8d8d8" stroke-width="1.6" />
<text x="666.2" y="2557.7" font-size="21" text-anchor="middle">20</text>
<line x1="750.5" y1="2535.9" x2="750.5" y2="2531.4" stroke="#d8d8d8" stroke-width="1.6" />
<text x="750.5" y="2557.7" font-size="21" text-anchor="middle">24</text>
<line x1="834.8" y1="2535.9" x2="834.8" y2="2531.4" stroke="#d8d8d8" stroke-width="1.6" />
<text x="834.8" y="2557.7" font-size="21" text-anchor="middle">28</text>
<line x1="919.2" y1="2535.9" x2="919.2" y2="2531.4" stroke="#d8d8d8" stroke-width="1.6" />
<text x="919.2" y="2557.7" font-size="21" text-anchor="middle">32</text>
<text x="1049.5" y="2557.7" font-size="21.5" textLength="46.0" lengthAdjust="spacingAndGlyphs">m<tspan font-size="14" dy="-8">3</tspan><tspan dy="8">/h</tspan></text>
<text x="980.5" y="2587.2" font-size="20.5" stroke="#000" stroke-width="0.6" textLength="97.5" lengthAdjust="spacingAndGlyphs">CAPACITY</text>
<path d="M270.6,2110.6 L271.2,2114.5 L271.8,2118.5 L272.4,2122.4 L273.1,2126.3 L273.7,2130.3 L274.4,2134.2 L275.1,2138.2 L275.9,2142.1 L276.6,2146.1 L277.4,2150.0 L278.2,2154.0 L279.0,2157.9 L279.9,2161.9 L280.8,2165.8 L281.7,2169.7 L282.6,2173.7 L283.6,2177.6 L284.6,2181.5 L285.6,2185.4 L286.6,2189.3 L287.7,2193.2 L288.8,2197.1 L289.9,2201.0 L291.1,2204.9 L292.3,2208.8 L293.5,2212.6 L294.7,2216.5 L296.0,2220.3 L297.3,2224.1 L298.6,2228.0 L300.0,2231.8 L301.3,2235.6 L302.8,2239.3 L304.2,2243.1 L305.7,2246.9 L307.2,2250.6 L308.8,2254.3 L310.3,2258.0 L311.9,2261.7 L313.6,2265.4 L315.3,2269.0 L317.0,2272.6 L318.7,2276.3 L320.5,2279.9 L322.3,2283.4 L324.1,2287.0 L326.0,2290.5 L327.9,2294.0 L329.9,2297.5 L331.9,2301.0 L333.9,2304.4 L335.9,2307.8 L338.0,2311.2 L340.2,2314.6 L342.3,2318.0 L344.5,2321.3 L346.8,2324.6 L349.0,2327.8 L351.3,2331.1 L353.7,2334.3 L356.1,2337.5 L358.5,2340.6 L360.9,2343.7 L363.4,2346.8 L366.0,2349.9 L368.5,2352.9 L371.1,2355.9 L373.8,2358.8 L376.4,2361.8 L379.1,2364.7 L381.9,2367.5 L384.7,2370.4 L387.5,2373.1 L390.4,2375.9 L393.3,2378.6 L396.2,2381.3 L399.2,2383.9 L402.2,2386.5 L405.3,2389.1 L408.4,2391.6 L411.5,2394.1 L414.7,2396.6 L417.9,2399.0 L421.2,2401.3 L424.5,2403.6 L427.8,2405.9 L431.2,2408.2 L434.6,2410.3 L438.0,2412.5 L441.5,2414.6 L445.1,2416.6 L448.7,2418.7 L452.3,2420.6 L455.9,2422.5 L459.6,2424.4 L463.4,2426.2 L467.1,2428.0 L471.0,2429.7 L474.8,2431.4" fill="none" stroke="#0a9de0" stroke-width="3.5" stroke-linecap="butt" stroke-linejoin="round"/>
<path d="M352.3,2138.1 L352.9,2142.1 L353.4,2146.1 L354.1,2150.0 L354.8,2154.0 L355.5,2158.0 L356.2,2161.9 L357.0,2165.8 L357.8,2169.8 L358.7,2173.7 L359.6,2177.6 L360.6,2181.5 L361.5,2185.4 L362.6,2189.3 L363.6,2193.2 L364.7,2197.0 L365.9,2200.9 L367.0,2204.7 L368.2,2208.5 L369.5,2212.3 L370.8,2216.1 L372.1,2219.9 L373.5,2223.7 L374.9,2227.4 L376.3,2231.2 L377.8,2234.9 L379.3,2238.6 L380.8,2242.3 L382.4,2245.9 L384.0,2249.6 L385.7,2253.2 L387.4,2256.9 L389.1,2260.4 L390.9,2264.0 L392.7,2267.6 L394.5,2271.1 L396.4,2274.6 L398.3,2278.1 L400.2,2281.6 L402.2,2285.1 L404.2,2288.5 L406.2,2291.9 L408.3,2295.3 L410.4,2298.7 L412.6,2302.0 L414.7,2305.3 L416.9,2308.6 L419.2,2311.9 L421.5,2315.1 L423.8,2318.4 L426.1,2321.6 L428.5,2324.7 L430.9,2327.9 L433.4,2331.0 L435.8,2334.1 L438.4,2337.1 L440.9,2340.1 L443.5,2343.1 L446.1,2346.1 L448.7,2349.1 L451.4,2352.0 L454.1,2354.8 L456.8,2357.7 L459.6,2360.5 L462.4,2363.3 L465.2,2366.1 L468.1,2368.8 L471.0,2371.5 L473.9,2374.1 L476.9,2376.7 L479.8,2379.3 L482.9,2381.9 L485.9,2384.4 L489.0,2386.9 L492.1,2389.3 L495.2,2391.7 L498.4,2394.1 L501.6,2396.4 L504.8,2398.7 L508.0,2401.0 L511.3,2403.2 L514.6,2405.4 L518.0,2407.6 L521.3,2409.7 L524.7,2411.7 L528.2,2413.8 L531.6,2415.7 L535.1,2417.7 L538.6,2419.6 L542.1,2421.5 L545.7,2423.3 L549.3,2425.1 L552.9,2426.8 L556.6,2428.5 L560.2,2430.1 L563.9,2431.7 L567.7,2433.3 L571.4,2434.8 L575.2,2436.3 L579.0,2437.7" fill="none" stroke="#0a9de0" stroke-width="3.5" stroke-linecap="butt" stroke-linejoin="round"/>
<path d="M431.7,2176.5 L432.4,2180.4 L433.1,2184.3 L433.9,2188.2 L434.7,2192.1 L435.6,2195.9 L436.5,2199.8 L437.4,2203.6 L438.4,2207.4 L439.5,2211.2 L440.6,2215.0 L441.8,2218.7 L442.9,2222.5 L444.2,2226.2 L445.5,2229.9 L446.8,2233.6 L448.2,2237.2 L449.6,2240.8 L451.0,2244.5 L452.5,2248.1 L454.1,2251.6 L455.6,2255.2 L457.3,2258.7 L458.9,2262.2 L460.6,2265.7 L462.4,2269.2 L464.2,2272.6 L466.0,2276.1 L467.9,2279.4 L469.8,2282.8 L471.7,2286.2 L473.7,2289.5 L475.7,2292.8 L477.8,2296.1 L479.9,2299.3 L482.0,2302.6 L484.2,2305.8 L486.4,2308.9 L488.7,2312.1 L490.9,2315.2 L493.3,2318.3 L495.6,2321.4 L498.0,2324.4 L500.4,2327.4 L502.9,2330.4 L505.4,2333.4 L507.9,2336.3 L510.4,2339.2 L513.0,2342.1 L515.6,2344.9 L518.3,2347.7 L521.0,2350.5 L523.7,2353.3 L526.4,2356.0 L529.2,2358.7 L532.0,2361.4 L534.9,2364.0 L537.7,2366.6 L540.6,2369.2 L543.5,2371.7 L546.5,2374.2 L549.5,2376.7 L552.5,2379.1 L555.5,2381.5 L558.6,2383.9 L561.7,2386.2 L564.8,2388.5 L567.9,2390.8 L571.1,2393.0 L574.3,2395.2 L577.5,2397.4 L580.8,2399.5 L584.0,2401.6 L587.3,2403.6 L590.6,2405.7 L594.0,2407.6 L597.3,2409.6 L600.7,2411.5 L604.1,2413.4 L607.6,2415.2 L611.0,2417.0 L614.5,2418.7 L618.0,2420.4 L621.5,2422.1 L625.0,2423.8 L628.6,2425.4 L632.1,2426.9 L635.7,2428.4 L639.4,2429.9 L643.0,2431.3 L646.6,2432.7 L650.3,2434.1 L654.0,2435.4 L657.7,2436.7 L661.4,2437.9 L665.1,2439.1 L668.9,2440.2 L672.6,2441.3 L676.4,2442.4 L680.2,2443.4" fill="none" stroke="#0a9de0" stroke-width="3.5" stroke-linecap="butt" stroke-linejoin="round"/>
<path d="M540.8,2226.6 L541.2,2229.2 L541.7,2231.8 L542.2,2234.4 L542.7,2237.0 L543.3,2239.6 L543.8,2242.1 L544.5,2244.7 L545.1,2247.2 L545.8,2249.7 L546.5,2252.2 L547.2,2254.7 L548.0,2257.2 L548.8,2259.7 L549.6,2262.2 L550.4,2264.6 L551.3,2267.1 L552.2,2269.5 L553.1,2272.0 L554.1,2274.4 L555.1,2276.8 L556.1,2279.1 L557.1,2281.5 L558.2,2283.9 L559.3,2286.2 L560.4,2288.6 L561.6,2290.9 L562.7,2293.2 L563.9,2295.5 L565.1,2297.8 L566.4,2300.0 L567.7,2302.3 L569.0,2304.5 L570.3,2306.7 L571.6,2309.0 L573.0,2311.2 L574.4,2313.3 L575.8,2315.5 L577.2,2317.7 L578.7,2319.8 L580.1,2321.9 L581.6,2324.0 L583.2,2326.1 L584.7,2328.2 L586.3,2330.3 L587.9,2332.3 L589.5,2334.4 L591.1,2336.4 L592.7,2338.4 L594.4,2340.4 L596.1,2342.3 L597.8,2344.3 L599.5,2346.2 L601.3,2348.1 L603.0,2350.0 L604.8,2351.9 L606.6,2353.8 L608.4,2355.7 L610.3,2357.5 L612.1,2359.3 L614.0,2361.1 L615.9,2362.9 L617.8,2364.7 L619.7,2366.4 L621.6,2368.1 L623.6,2369.9 L625.6,2371.5 L627.5,2373.2 L629.5,2374.9 L631.6,2376.5 L633.6,2378.1 L635.6,2379.7 L637.7,2381.3 L639.8,2382.9 L641.8,2384.4 L643.9,2386.0 L646.1,2387.5 L648.2,2389.0 L650.3,2390.4 L652.5,2391.9 L654.6,2393.3 L656.8,2394.7 L659.0,2396.1 L661.2,2397.5 L663.4,2398.8 L665.6,2400.1 L667.9,2401.4 L670.1,2402.7 L672.4,2404.0 L674.6,2405.2 L676.9,2406.5 L679.2,2407.7 L681.5,2408.8 L683.8,2410.0 L686.1,2411.1 L688.4,2412.3 L690.8,2413.4 L693.1,2414.4 L695.4,2415.5 L697.8,2416.5" fill="none" stroke="#0a9de0" stroke-width="3.5" stroke-linecap="butt" stroke-linejoin="round"/>
<path d="M666.4,2289.2 L667.3,2291.4 L668.3,2293.5 L669.2,2295.7 L670.2,2297.9 L671.1,2300.0 L672.1,2302.2 L673.1,2304.3 L674.2,2306.4 L675.2,2308.5 L676.3,2310.6 L677.3,2312.7 L678.4,2314.8 L679.5,2316.9 L680.6,2319.0 L681.7,2321.1 L682.9,2323.1 L684.0,2325.2 L685.2,2327.2 L686.4,2329.2 L687.6,2331.3 L688.8,2333.3 L690.0,2335.3 L691.3,2337.3 L692.5,2339.2 L693.8,2341.2 L695.1,2343.2 L696.4,2345.1 L697.7,2347.0 L699.0,2349.0 L700.4,2350.9 L701.7,2352.8 L703.1,2354.7 L704.5,2356.6 L705.9,2358.4 L707.3,2360.3 L708.7,2362.1 L710.1,2364.0 L711.6,2365.8 L713.1,2367.6 L714.6,2369.4 L716.0,2371.2 L717.6,2373.0 L719.1,2374.7 L720.6,2376.5 L722.2,2378.2 L723.7,2379.9 L725.3,2381.6 L726.9,2383.3 L728.5,2385.0 L730.1,2386.7 L731.8,2388.4 L733.4,2390.0 L735.1,2391.6 L736.7,2393.2 L738.4,2394.8 L740.1,2396.4 L741.8,2398.0 L743.6,2399.5 L745.3,2401.1 L747.1,2402.6 L748.8,2404.1 L750.6,2405.6 L752.4,2407.1 L754.2,2408.5 L756.0,2410.0 L757.9,2411.4 L759.7,2412.8 L761.6,2414.2 L763.4,2415.6 L765.3,2417.0 L767.2,2418.3 L769.1,2419.7 L771.1,2421.0 L773.0,2422.3 L775.0,2423.6 L776.9,2424.8 L778.9,2426.1 L780.9,2427.3 L782.9,2428.5 L784.9,2429.7 L786.9,2430.9 L789.0,2432.1 L791.0,2433.2 L793.1,2434.3 L795.1,2435.4 L797.2,2436.5 L799.3,2437.6 L801.4,2438.6 L803.6,2439.7 L805.7,2440.7 L807.9,2441.7 L810.0,2442.6 L812.2,2443.6 L814.4,2444.5 L816.6,2445.4 L818.8,2446.3 L821.0,2447.2 L823.3,2448.1 L825.5,2448.9" fill="none" stroke="#0a9de0" stroke-width="3.5" stroke-linecap="butt" stroke-linejoin="round"/>
<path d="M244.5,2101.3 L253.9,2105.1 L263.3,2108.9 L272.7,2112.8 L282.1,2116.7 L291.5,2120.5 L300.9,2124.5 L310.3,2128.4 L319.7,2132.3 L329.1,2136.3 L338.5,2140.3 L347.9,2144.3 L357.3,2148.3 L366.7,2152.3 L376.1,2156.4 L385.5,2160.4 L394.9,2164.5 L404.3,2168.6 L413.7,2172.8 L423.1,2176.9 L432.5,2181.1 L441.9,2185.3 L451.3,2189.5 L460.7,2193.7 L470.1,2197.9 L479.5,2202.2 L488.9,2206.5 L498.3,2210.8 L507.7,2215.1 L517.1,2219.5 L526.5,2223.8 L535.9,2228.2 L545.3,2232.6 L554.7,2237.1 L564.1,2241.5 L573.5,2246.0 L582.9,2250.5 L592.3,2255.0 L601.7,2259.5 L611.1,2264.1 L620.6,2268.7 L630.0,2273.3 L639.4,2277.9 L648.8,2282.5 L658.2,2287.2 L667.6,2291.9 L677.0,2296.6 L686.4,2301.3 L695.8,2306.0 L705.2,2310.8 L714.6,2315.6 L724.0,2320.4 L733.4,2325.3 L742.8,2330.1 L752.2,2335.0 L761.6,2339.9 L771.0,2344.8 L780.4,2349.8 L789.8,2354.8 L799.2,2359.8 L808.6,2364.8 L818.0,2369.8 L827.4,2374.9 L836.8,2380.0 L846.2,2385.1 L855.6,2390.2 L865.0,2395.4 L874.4,2400.6 L883.8,2405.8 L893.2,2411.0 L902.6,2416.3 L912.0,2421.6 L921.4,2426.9 L930.8,2432.2 L940.2,2437.6 L949.6,2442.9 L959.0,2448.3 L968.4,2453.8 L977.8,2459.2 L987.2,2464.7" fill="none" stroke="#0b57a0" stroke-width="5.7" stroke-linecap="butt" stroke-linejoin="round"/>
<path d="M244.5,2191.5 L253.2,2194.4 L261.8,2197.4 L270.5,2200.3 L279.1,2203.3 L287.8,2206.2 L296.5,2209.1 L305.1,2212.1 L313.8,2215.1 L322.5,2218.0 L331.1,2221.0 L339.8,2224.0 L348.4,2227.0 L357.1,2229.9 L365.8,2232.9 L374.4,2235.9 L383.1,2239.0 L391.8,2242.0 L400.4,2245.0 L409.1,2248.1 L417.7,2251.1 L426.4,2254.2 L435.1,2257.2 L443.7,2260.3 L452.4,2263.4 L461.1,2266.5 L469.7,2269.7 L478.4,2272.8 L487.0,2275.9 L495.7,2279.1 L504.4,2282.3 L513.0,2285.5 L521.7,2288.7 L530.3,2291.9 L539.0,2295.1 L547.7,2298.4 L556.3,2301.7 L565.0,2305.0 L573.7,2308.3 L582.3,2311.6 L591.0,2314.9 L599.6,2318.3 L608.3,2321.7 L617.0,2325.1 L625.6,2328.5 L634.3,2332.0 L643.0,2335.4 L651.6,2338.9 L660.3,2342.4 L668.9,2346.0 L677.6,2349.5 L686.3,2353.1 L694.9,2356.7 L703.6,2360.3 L712.2,2364.0 L720.9,2367.7 L729.6,2371.4 L738.2,2375.1 L746.9,2378.9 L755.6,2382.6 L764.2,2386.4 L772.9,2390.3 L781.5,2394.2 L790.2,2398.1 L798.9,2402.0 L807.5,2405.9 L816.2,2409.9 L824.9,2413.9 L833.5,2418.0 L842.2,2422.1 L850.8,2426.2 L859.5,2430.3 L868.2,2434.5 L876.8,2438.7 L885.5,2443.0 L894.2,2447.2 L902.8,2451.6 L911.5,2455.9 L920.1,2460.3 L928.8,2464.7" fill="none" stroke="#0b57a0" stroke-width="5.7" stroke-linecap="butt" stroke-linejoin="round"/>
<path d="M247.0,2283.0 L254.3,2285.0 L261.5,2287.1 L268.8,2289.1 L276.0,2291.1 L283.3,2293.1 L290.6,2295.2 L297.8,2297.2 L305.1,2299.2 L312.3,2301.2 L319.6,2303.2 L326.9,2305.2 L334.1,2307.3 L341.4,2309.3 L348.6,2311.3 L355.9,2313.3 L363.2,2315.3 L370.4,2317.4 L377.7,2319.4 L384.9,2321.4 L392.2,2323.5 L399.4,2325.5 L406.7,2327.6 L414.0,2329.6 L421.2,2331.7 L428.5,2333.7 L435.7,2335.8 L443.0,2337.8 L450.3,2339.9 L457.5,2342.0 L464.8,2344.1 L472.0,2346.2 L479.3,2348.3 L486.6,2350.4 L493.8,2352.6 L501.1,2354.7 L508.3,2356.8 L515.6,2359.0 L522.9,2361.1 L530.1,2363.3 L537.4,2365.5 L544.6,2367.7 L551.9,2369.9 L559.2,2372.1 L566.4,2374.4 L573.7,2376.6 L580.9,2378.9 L588.2,2381.1 L595.5,2383.4 L602.7,2385.7 L610.0,2388.1 L617.2,2390.4 L624.5,2392.7 L631.8,2395.1 L639.0,2397.5 L646.3,2399.9 L653.5,2402.3 L660.8,2404.7 L668.1,2407.2 L675.3,2409.6 L682.6,2412.1 L689.8,2414.6 L697.1,2417.2 L704.3,2419.7 L711.6,2422.3 L718.9,2424.8 L726.1,2427.5 L733.4,2430.1 L740.6,2432.7 L747.9,2435.4 L755.2,2438.1 L762.4,2440.8 L769.7,2443.5 L776.9,2446.3 L784.2,2449.1 L791.5,2451.9 L798.7,2454.7 L806.0,2457.6 L813.2,2460.5 L820.5,2463.4" fill="none" stroke="#0b57a0" stroke-width="5.7" stroke-linecap="butt" stroke-linejoin="round"/>
<path d="M244.5,2373.2 L250.4,2374.4 L256.3,2375.6 L262.2,2376.8 L268.1,2377.9 L274.0,2379.1 L279.9,2380.2 L285.8,2381.3 L291.7,2382.4 L297.6,2383.5 L303.5,2384.6 L309.4,2385.7 L315.3,2386.8 L321.2,2387.9 L327.1,2388.9 L333.0,2390.0 L338.9,2391.0 L344.8,2392.1 L350.7,2393.1 L356.6,2394.1 L362.4,2395.1 L368.3,2396.2 L374.2,2397.2 L380.1,2398.2 L386.0,2399.2 L391.9,2400.2 L397.8,2401.2 L403.7,2402.2 L409.6,2403.2 L415.5,2404.2 L421.4,2405.2 L427.3,2406.2 L433.2,2407.2 L439.1,2408.2 L445.0,2409.2 L450.9,2410.2 L456.8,2411.2 L462.7,2412.3 L468.6,2413.3 L474.5,2414.3 L480.4,2415.3 L486.3,2416.4 L492.2,2417.4 L498.1,2418.4 L504.0,2419.5 L509.9,2420.5 L515.8,2421.6 L521.7,2422.7 L527.6,2423.8 L533.5,2424.9 L539.4,2426.0 L545.3,2427.1 L551.2,2428.2 L557.1,2429.3 L563.0,2430.5 L568.9,2431.6 L574.8,2432.8 L580.7,2434.0 L586.6,2435.1 L592.5,2436.4 L598.3,2437.6 L604.2,2438.8 L610.1,2440.1 L616.0,2441.3 L621.9,2442.6 L627.8,2443.9 L633.7,2445.2 L639.6,2446.6 L645.5,2447.9 L651.4,2449.3 L657.3,2450.7 L663.2,2452.1 L669.1,2453.5 L675.0,2455.0 L680.9,2456.4 L686.8,2457.9 L692.7,2459.4 L698.6,2461.0 L704.5,2462.5 L710.4,2464.1" fill="none" stroke="#0b57a0" stroke-width="5.7" stroke-linecap="butt" stroke-linejoin="round"/>
<rect x="287.6" y="2109.4" width="35.2" height="31.2" fill="#fff" stroke="#0b57a0" stroke-width="5.3" />
<text x="305.2" y="2132.6" font-size="21.5" text-anchor="middle">8</text>
<rect x="287.6" y="2196.6" width="35.2" height="31.2" fill="#fff" stroke="#0b57a0" stroke-width="5.3" />
<text x="305.2" y="2219.8" font-size="21.5" text-anchor="middle">6</text>
<rect x="287.6" y="2284.4" width="35.2" height="31.2" fill="#fff" stroke="#0b57a0" stroke-width="5.3" />
<text x="305.2" y="2307.6" font-size="21.5" text-anchor="middle">4</text>
<rect x="287.6" y="2370.0" width="35.2" height="31.2" fill="#fff" stroke="#0b57a0" stroke-width="5.3" />
<text x="305.2" y="2393.2" font-size="21.5" text-anchor="middle">2</text>
<text x="287.6" y="2165.2" font-size="17.5" fill="#0a9de0">0,4</text>
<text x="287.6" y="2188.2" font-size="17.5" fill="#0a9de0" font-style="italic">14,1</text>
<text x="383.4" y="2209.5" font-size="17.5" fill="#0a9de0">0,8</text>
<text x="383.4" y="2232.5" font-size="17.5" fill="#0a9de0" font-style="italic">28,3</text>
<text x="460.0" y="2233.4" font-size="17.5" fill="#0a9de0">1,2</text>
<text x="460.0" y="2256.4" font-size="17.5" fill="#0a9de0" font-style="italic">42,4</text>
<text x="570.8" y="2278.5" font-size="17.5" fill="#0a9de0">1,6</text>
<text x="570.8" y="2301.5" font-size="17.5" fill="#0a9de0" font-style="italic">56,5</text>
<text x="663.1" y="2257.4" font-size="17.5" fill="#0a9de0">2,0</text>
<text x="663.1" y="2280.4" font-size="17.5" fill="#0a9de0" font-style="italic">70,6</text>
<rect x="1246.6" y="2025.5" width="751.6" height="71.5" fill="#ececec" stroke="#0f5c9e" stroke-width="2.2" />
<text x="1287.5" y="2073.9" font-size="45" font-weight="bold" fill="#0b5aa2" textLength="105.5" lengthAdjust="spacingAndGlyphs">T825</text>
<line x1="1518.6" y1="2050.5" x2="1624.6" y2="2050.5" stroke="#0b3a6c" stroke-width="5.8" />
<rect x="1555.4" y="2037.1" width="34.4" height="30.4" fill="#ececec" stroke="#0b3a6c" stroke-width="5.8" />
<line x1="1518.6" y1="2081.5" x2="1624.6" y2="2081.5" stroke="#0a9de0" stroke-width="3.8" />
<text x="1638.0" y="2060.3" font-size="21.5" textLength="163.0" lengthAdjust="spacingAndGlyphs">Air pressure (bar)</text>
<text x="1638.0" y="2087.7" font-size="21.5" fill="#0a9de0" textLength="323.5" lengthAdjust="spacingAndGlyphs">Air consumption (Nm3/min, SCFM)</text>
<text x="1115.5" y="2046.0" font-size="21.5" font-weight="bold" textLength="59.0" lengthAdjust="spacingAndGlyphs">HEAD</text>
<text x="1115.5" y="2080.3" font-size="21.5" textLength="45.5" lengthAdjust="spacingAndGlyphs">PSIG</text>
<text x="1180.8" y="2080.3" font-size="21.5" textLength="53.0" lengthAdjust="spacingAndGlyphs">mWC</text>
<line x1="1247.0" y1="2462.5" x2="1997.7" y2="2462.5" stroke="#e2e2e2" stroke-width="1.6" />
<line x1="1247.0" y1="2417.6" x2="1997.7" y2="2417.6" stroke="#e2e2e2" stroke-width="1.6" />
<line x1="1247.0" y1="2372.6" x2="1997.7" y2="2372.6" stroke="#e2e2e2" stroke-width="1.6" />
<line x1="1247.0" y1="2327.7" x2="1997.7" y2="2327.7" stroke="#e2e2e2" stroke-width="1.6" />
<line x1="1247.0" y1="2282.8" x2="1997.7" y2="2282.8" stroke="#e2e2e2" stroke-width="1.6" />
<line x1="1247.0" y1="2237.8" x2="1997.7" y2="2237.8" stroke="#e2e2e2" stroke-width="1.6" />
<line x1="1247.0" y1="2192.9" x2="1997.7" y2="2192.9" stroke="#e2e2e2" stroke-width="1.6" />
<line x1="1247.0" y1="2147.9" x2="1997.7" y2="2147.9" stroke="#e2e2e2" stroke-width="1.6" />
<line x1="1247.0" y1="2103.0" x2="1997.7" y2="2103.0" stroke="#e2e2e2" stroke-width="1.6" />
<line x1="1247.0" y1="2103.0" x2="1247.0" y2="2462.5" stroke="#e2e2e2" stroke-width="1.6" />
<line x1="1330.4" y1="2103.0" x2="1330.4" y2="2462.5" stroke="#e2e2e2" stroke-width="1.6" />
<line x1="1413.8" y1="2103.0" x2="1413.8" y2="2462.5" stroke="#e2e2e2" stroke-width="1.6" />
<line x1="1497.2" y1="2103.0" x2="1497.2" y2="2462.5" stroke="#e2e2e2" stroke-width="1.6" />
<line x1="1580.6" y1="2103.0" x2="1580.6" y2="2462.5" stroke="#e2e2e2" stroke-width="1.6" />
<line x1="1664.1" y1="2103.0" x2="1664.1" y2="2462.5" stroke="#e2e2e2" stroke-width="1.6" />
<line x1="1747.5" y1="2103.0" x2="1747.5" y2="2462.5" stroke="#e2e2e2" stroke-width="1.6" />
<line x1="1830.9" y1="2103.0" x2="1830.9" y2="2462.5" stroke="#e2e2e2" stroke-width="1.6" />
<line x1="1914.3" y1="2103.0" x2="1914.3" y2="2462.5" stroke="#e2e2e2" stroke-width="1.6" />
<line x1="1997.7" y1="2103.0" x2="1997.7" y2="2462.5" stroke="#e2e2e2" stroke-width="1.6" />
<text x="1235.3" y="2425.1" font-size="20.5" font-weight="bold" text-anchor="end">10</text>
<text x="1235.3" y="2380.1" font-size="20.5" font-weight="bold" text-anchor="end">20</text>
<text x="1235.3" y="2335.2" font-size="20.5" font-weight="bold" text-anchor="end">30</text>
<text x="1235.3" y="2290.2" font-size="20.5" font-weight="bold" text-anchor="end">40</text>
<text x="1235.3" y="2245.3" font-size="20.5" font-weight="bold" text-anchor="end">50</text>
<text x="1235.3" y="2200.4" font-size="20.5" font-weight="bold" text-anchor="end">60</text>
<text x="1235.3" y="2155.4" font-size="20.5" font-weight="bold" text-anchor="end">70</text>
<text x="1235.3" y="2110.5" font-size="20.5" font-weight="bold" text-anchor="end">80</text>
<line x1="1180.2" y1="2103.0" x2="1180.2" y2="2462.5" stroke="#d8d8d8" stroke-width="1.6" />
<line x1="1172.2" y1="2462.5" x2="1180.2" y2="2462.5" stroke="#d8d8d8" stroke-width="1.6" />
<line x1="1172.2" y1="2399.3" x2="1180.2" y2="2399.3" stroke="#d8d8d8" stroke-width="1.6" />
<text x="1169.2" y="2407.3" font-size="23" text-anchor="end">20</text>
<line x1="1172.2" y1="2336.1" x2="1180.2" y2="2336.1" stroke="#d8d8d8" stroke-width="1.6" />
<text x="1169.2" y="2344.1" font-size="23" text-anchor="end">40</text>
<line x1="1172.2" y1="2272.9" x2="1180.2" y2="2272.9" stroke="#d8d8d8" stroke-width="1.6" />
<text x="1169.2" y="2280.9" font-size="23" text-anchor="end">60</text>
<line x1="1172.2" y1="2209.7" x2="1180.2" y2="2209.7" stroke="#d8d8d8" stroke-width="1.6" />
<text x="1169.2" y="2217.7" font-size="23" text-anchor="end">80</text>
<line x1="1172.2" y1="2146.6" x2="1180.2" y2="2146.6" stroke="#d8d8d8" stroke-width="1.6" />
<text x="1169.2" y="2154.6" font-size="23" text-anchor="end">100</text>
<text x="1247.0" y="2484.5" font-size="22" font-weight="bold" text-anchor="middle">0</text>
<text x="1330.4" y="2484.5" font-size="22" font-weight="bold" text-anchor="middle">100</text>
<text x="1413.8" y="2484.5" font-size="22" font-weight="bold" text-anchor="middle">200</text>
<text x="1497.2" y="2484.5" font-size="22" font-weight="bold" text-anchor="middle">300</text>
<text x="1580.6" y="2484.5" font-size="22" font-weight="bold" text-anchor="middle">400</text>
<text x="1664.1" y="2484.5" font-size="22" font-weight="bold" text-anchor="middle">500</text>
<text x="1747.5" y="2484.5" font-size="22" font-weight="bold" text-anchor="middle">600</text>
<text x="1830.9" y="2484.5" font-size="22" font-weight="bold" text-anchor="middle">700</text>
<text x="1914.3" y="2484.5" font-size="22" font-weight="bold" text-anchor="middle">800</text>
<text x="1997.7" y="2484.5" font-size="22" font-weight="bold" text-anchor="middle">900</text>
<text x="2040.2" y="2484.5" font-size="22" textLength="52.0" lengthAdjust="spacingAndGlyphs">l/min</text>
<line x1="1247.0" y1="2499.0" x2="1997.7" y2="2499.0" stroke="#d8d8d8" stroke-width="1.6" />
<line x1="1247.0" y1="2499.0" x2="1247.0" y2="2494.5" stroke="#d8d8d8" stroke-width="1.6" />
<text x="1247.0" y="2519.0" font-size="21" text-anchor="middle">0</text>
<line x1="1373.3" y1="2499.0" x2="1373.3" y2="2494.5" stroke="#d8d8d8" stroke-width="1.6" />
<text x="1373.3" y="2519.0" font-size="21" text-anchor="middle">40</text>
<line x1="1499.6" y1="2499.0" x2="1499.6" y2="2494.5" stroke="#d8d8d8" stroke-width="1.6" />
<text x="1499.6" y="2519.0" font-size="21" text-anchor="middle">80</text>
<line x1="1625.9" y1="2499.0" x2="1625.9" y2="2494.5" stroke="#d8d8d8" stroke-width="1.6" />
<text x="1625.9" y="2519.0" font-size="21" text-anchor="middle">120</text>
<line x1="1752.2" y1="2499.0" x2="1752.2" y2="2494.5" stroke="#d8d8d8" stroke-width="1.6" />
<text x="1752.2" y="2519.0" font-size="21" text-anchor="middle">160</text>
<line x1="1878.5" y1="2499.0" x2="1878.5" y2="2494.5" stroke="#d8d8d8" stroke-width="1.6" />
<text x="1878.5" y="2519.0" font-size="21" text-anchor="middle">200</text>
<text x="2004.7" y="2519.0" font-size="21.5" textLength="74.4" lengthAdjust="spacingAndGlyphs">USGPM</text>
<line x1="1247.0" y1="2532.0" x2="1997.7" y2="2532.0" stroke="#d8d8d8" stroke-width="1.6" />
<line x1="1247.0" y1="2532.0" x2="1247.0" y2="2527.5" stroke="#d8d8d8" stroke-width="1.6" />
<text x="1247.0" y="2554.0" font-size="21" text-anchor="middle">0</text>
<line x1="1386.0" y1="2532.0" x2="1386.0" y2="2527.5" stroke="#d8d8d8" stroke-width="1.6" />
<text x="1386.0" y="2554.0" font-size="21" text-anchor="middle">10</text>
<line x1="1525.0" y1="2532.0" x2="1525.0" y2="2527.5" stroke="#d8d8d8" stroke-width="1.6" />
<text x="1525.0" y="2554.0" font-size="21" text-anchor="middle">20</text>
<line x1="1664.1" y1="2532.0" x2="1664.1" y2="2527.5" stroke="#d8d8d8" stroke-width="1.6" />
<text x="1664.1" y="2554.0" font-size="21" text-anchor="middle">30</text>
<line x1="1803.1" y1="2532.0" x2="1803.1" y2="2527.5" stroke="#d8d8d8" stroke-width="1.6" />
<text x="1803.1" y="2554.0" font-size="21" text-anchor="middle">40</text>
<line x1="1942.1" y1="2532.0" x2="1942.1" y2="2527.5" stroke="#d8d8d8" stroke-width="1.6" />
<text x="1942.1" y="2554.0" font-size="21" text-anchor="middle">50</text>
<text x="2043.7" y="2554.0" font-size="21.5" textLength="46.0" lengthAdjust="spacingAndGlyphs">m<tspan font-size="14" dy="-8">3</tspan><tspan dy="8">/h</tspan></text>
<text x="1974.7" y="2582.5" font-size="20.5" stroke="#000" stroke-width="0.6" textLength="97.5" lengthAdjust="spacingAndGlyphs">CAPACITY</text>
<path d="M1342.3,2140.1 L1342.4,2144.5 L1342.6,2149.0 L1342.8,2153.4 L1343.1,2157.8 L1343.5,2162.2 L1343.9,2166.6 L1344.3,2171.0 L1344.8,2175.3 L1345.4,2179.6 L1346.0,2183.9 L1346.7,2188.2 L1347.4,2192.5 L1348.2,2196.8 L1349.1,2201.0 L1350.0,2205.2 L1351.0,2209.4 L1352.0,2213.6 L1353.0,2217.7 L1354.2,2221.9 L1355.4,2226.0 L1356.6,2230.1 L1357.9,2234.1 L1359.2,2238.2 L1360.7,2242.2 L1362.1,2246.1 L1363.6,2250.1 L1365.2,2254.0 L1366.8,2257.9 L1368.5,2261.8 L1370.2,2265.7 L1372.0,2269.5 L1373.9,2273.3 L1375.8,2277.0 L1377.7,2280.8 L1379.8,2284.5 L1381.8,2288.1 L1383.9,2291.8 L1386.1,2295.4 L1388.3,2298.9 L1390.6,2302.5 L1393.0,2306.0 L1395.3,2309.4 L1397.8,2312.9 L1400.3,2316.3 L1402.8,2319.6 L1405.4,2322.9 L1408.1,2326.2 L1410.8,2329.5 L1413.6,2332.7 L1416.4,2335.9 L1419.2,2339.0 L1422.2,2342.1 L1425.1,2345.2 L1428.1,2348.2 L1431.2,2351.2 L1434.3,2354.1 L1437.4,2357.0 L1440.6,2359.9 L1443.8,2362.7 L1447.1,2365.4 L1450.4,2368.2 L1453.7,2370.9 L1457.1,2373.5 L1460.5,2376.1 L1464.0,2378.7 L1467.5,2381.2 L1471.0,2383.7 L1474.6,2386.1 L1478.2,2388.5 L1481.8,2390.9 L1485.5,2393.2 L1489.2,2395.5 L1492.9,2397.7 L1496.7,2399.8 L1500.4,2402.0 L1504.2,2404.0 L1508.1,2406.1 L1511.9,2408.1 L1515.8,2410.0 L1519.7,2411.9 L1523.7,2413.7 L1527.6,2415.5 L1531.6,2417.3 L1535.6,2419.0 L1539.6,2420.6 L1543.6,2422.2 L1547.6,2423.8 L1551.7,2425.3 L1555.8,2426.7 L1559.8,2428.1 L1563.9,2429.5 L1568.1,2430.8 L1572.2,2432.0 L1576.3,2433.2 L1580.5,2434.3 L1584.6,2435.4 L1588.8,2436.5 L1592.9,2437.4 L1597.1,2438.4" fill="none" stroke="#0a9de0" stroke-width="3.5" stroke-linecap="butt" stroke-linejoin="round"/>
<path d="M1402.9,2164.7 L1403.2,2169.0 L1403.5,2173.3 L1403.9,2177.5 L1404.3,2181.8 L1404.8,2186.0 L1405.3,2190.2 L1405.9,2194.4 L1406.6,2198.6 L1407.3,2202.7 L1408.1,2206.8 L1408.9,2211.0 L1409.8,2215.1 L1410.8,2219.1 L1411.8,2223.2 L1412.8,2227.2 L1414.0,2231.2 L1415.1,2235.2 L1416.4,2239.1 L1417.7,2243.0 L1419.0,2246.9 L1420.4,2250.8 L1421.9,2254.6 L1423.4,2258.4 L1425.0,2262.2 L1426.6,2266.0 L1428.3,2269.7 L1430.0,2273.4 L1431.8,2277.0 L1433.6,2280.7 L1435.5,2284.3 L1437.5,2287.8 L1439.5,2291.3 L1441.6,2294.8 L1443.7,2298.3 L1445.9,2301.7 L1448.1,2305.1 L1450.4,2308.4 L1452.7,2311.7 L1455.1,2315.0 L1457.5,2318.2 L1460.0,2321.4 L1462.5,2324.6 L1465.1,2327.7 L1467.8,2330.7 L1470.5,2333.7 L1473.2,2336.7 L1476.0,2339.6 L1478.9,2342.5 L1481.8,2345.4 L1484.7,2348.2 L1487.7,2350.9 L1490.8,2353.6 L1493.9,2356.3 L1497.0,2358.9 L1500.2,2361.5 L1503.4,2364.1 L1506.7,2366.6 L1510.0,2369.0 L1513.3,2371.4 L1516.7,2373.8 L1520.1,2376.1 L1523.5,2378.4 L1527.0,2380.7 L1530.5,2382.9 L1534.0,2385.1 L1537.6,2387.2 L1541.2,2389.4 L1544.8,2391.4 L1548.5,2393.4 L1552.2,2395.4 L1555.9,2397.4 L1559.6,2399.3 L1563.3,2401.2 L1567.1,2403.0 L1570.9,2404.8 L1574.7,2406.6 L1578.5,2408.4 L1582.4,2410.1 L1586.2,2411.7 L1590.1,2413.4 L1594.0,2415.0 L1597.8,2416.5 L1601.7,2418.1 L1605.7,2419.6 L1609.6,2421.0 L1613.5,2422.5 L1617.4,2423.9 L1621.4,2425.3 L1625.3,2426.6 L1629.2,2427.9 L1633.2,2429.2 L1637.1,2430.4 L1641.1,2431.7 L1645.0,2432.9 L1648.9,2434.0 L1652.9,2435.2 L1656.8,2436.3 L1660.7,2437.3 L1664.6,2438.4" fill="none" stroke="#0a9de0" stroke-width="3.5" stroke-linecap="butt" stroke-linejoin="round"/>
<path d="M1485.1,2204.0 L1485.3,2207.7 L1485.6,2211.5 L1485.9,2215.2 L1486.3,2218.9 L1486.7,2222.6 L1487.2,2226.3 L1487.7,2229.9 L1488.3,2233.6 L1489.0,2237.2 L1489.7,2240.8 L1490.4,2244.3 L1491.2,2247.9 L1492.1,2251.4 L1493.0,2254.9 L1494.0,2258.4 L1495.0,2261.9 L1496.0,2265.3 L1497.1,2268.7 L1498.3,2272.1 L1499.5,2275.4 L1500.8,2278.8 L1502.1,2282.1 L1503.4,2285.4 L1504.9,2288.6 L1506.3,2291.9 L1507.8,2295.1 L1509.4,2298.2 L1511.0,2301.4 L1512.6,2304.5 L1514.3,2307.6 L1516.1,2310.6 L1517.9,2313.6 L1519.7,2316.6 L1521.6,2319.6 L1523.6,2322.5 L1525.5,2325.4 L1527.6,2328.2 L1529.6,2331.1 L1531.8,2333.9 L1533.9,2336.6 L1536.1,2339.3 L1538.4,2342.0 L1540.7,2344.7 L1543.0,2347.3 L1545.4,2349.8 L1547.9,2352.4 L1550.3,2354.9 L1552.9,2357.3 L1555.4,2359.7 L1558.0,2362.1 L1560.7,2364.5 L1563.3,2366.8 L1566.1,2369.0 L1568.8,2371.3 L1571.6,2373.5 L1574.4,2375.6 L1577.3,2377.7 L1580.2,2379.8 L1583.1,2381.9 L1586.1,2383.9 L1589.1,2385.9 L1592.1,2387.8 L1595.2,2389.7 L1598.2,2391.6 L1601.3,2393.5 L1604.5,2395.3 L1607.6,2397.1 L1610.8,2398.8 L1614.0,2400.5 L1617.2,2402.2 L1620.4,2403.9 L1623.7,2405.5 L1626.9,2407.1 L1630.2,2408.7 L1633.5,2410.2 L1636.9,2411.7 L1640.2,2413.2 L1643.5,2414.7 L1646.9,2416.1 L1650.2,2417.5 L1653.6,2418.9 L1657.0,2420.2 L1660.4,2421.6 L1663.8,2422.9 L1667.2,2424.1 L1670.6,2425.4 L1674.0,2426.6 L1677.4,2427.8 L1680.8,2429.0 L1684.2,2430.2 L1687.6,2431.3 L1691.0,2432.4 L1694.4,2433.5 L1697.8,2434.6 L1701.2,2435.6 L1704.6,2436.6 L1708.0,2437.6 L1711.3,2438.6 L1714.7,2439.6" fill="none" stroke="#0a9de0" stroke-width="3.5" stroke-linecap="butt" stroke-linejoin="round"/>
<path d="M1580.0,2254.2 L1580.5,2257.9 L1581.0,2261.6 L1581.7,2265.3 L1582.4,2268.9 L1583.2,2272.4 L1584.1,2275.9 L1585.0,2279.3 L1586.1,2282.7 L1587.2,2286.1 L1588.3,2289.3 L1589.6,2292.6 L1590.9,2295.8 L1592.3,2298.9 L1593.7,2302.0 L1595.3,2305.0 L1596.9,2308.0 L1598.5,2311.0 L1600.2,2313.9 L1602.0,2316.7 L1603.9,2319.6 L1605.8,2322.3 L1607.7,2325.0 L1609.7,2327.7 L1611.8,2330.4 L1613.9,2333.0 L1616.1,2335.5 L1618.4,2338.0 L1620.6,2340.5 L1623.0,2342.9 L1625.4,2345.3 L1627.8,2347.7 L1630.3,2350.0 L1632.8,2352.3 L1635.4,2354.5 L1638.0,2356.7 L1640.7,2358.9 L1643.4,2361.0 L1646.2,2363.1 L1648.9,2365.1 L1651.8,2367.2 L1654.6,2369.2 L1657.5,2371.1 L1660.4,2373.0 L1663.4,2374.9 L1666.4,2376.8 L1669.4,2378.6 L1672.5,2380.4 L1675.6,2382.2 L1678.7,2383.9 L1681.8,2385.6 L1685.0,2387.3 L1688.2,2388.9 L1691.4,2390.5 L1694.6,2392.1 L1697.9,2393.7 L1701.2,2395.2 L1704.5,2396.7 L1707.8,2398.2 L1711.1,2399.7 L1714.5,2401.1 L1717.8,2402.5 L1721.2,2403.9 L1724.6,2405.3 L1728.0,2406.6 L1731.4,2407.9 L1734.8,2409.2 L1738.2,2410.5 L1741.6,2411.8 L1745.0,2413.0 L1748.5,2414.2 L1751.9,2415.4 L1755.3,2416.6 L1758.8,2417.8 L1762.2,2418.9 L1765.6,2420.0 L1769.1,2421.2 L1772.5,2422.3 L1775.9,2423.3 L1779.3,2424.4 L1782.7,2425.5 L1786.1,2426.5 L1789.5,2427.5 L1792.9,2428.5 L1796.2,2429.5 L1799.6,2430.5 L1802.9,2431.5 L1806.2,2432.5 L1809.5,2433.4 L1812.8,2434.4 L1816.0,2435.3 L1819.3,2436.2 L1822.5,2437.1 L1825.7,2438.1 L1828.9,2439.0 L1832.0,2439.9 L1835.1,2440.8 L1838.2,2441.6 L1841.3,2442.5 L1844.3,2443.4" fill="none" stroke="#0a9de0" stroke-width="3.5" stroke-linecap="butt" stroke-linejoin="round"/>
<path d="M1706.5,2322.6 L1707.1,2324.9 L1707.7,2327.2 L1708.4,2329.5 L1709.1,2331.7 L1709.9,2333.9 L1710.7,2336.0 L1711.5,2338.2 L1712.4,2340.3 L1713.3,2342.3 L1714.2,2344.3 L1715.2,2346.3 L1716.2,2348.3 L1717.3,2350.2 L1718.3,2352.1 L1719.4,2354.0 L1720.6,2355.8 L1721.8,2357.6 L1723.0,2359.4 L1724.2,2361.2 L1725.5,2362.9 L1726.8,2364.6 L1728.1,2366.2 L1729.5,2367.9 L1730.9,2369.5 L1732.3,2371.1 L1733.7,2372.7 L1735.2,2374.2 L1736.7,2375.7 L1738.2,2377.2 L1739.7,2378.7 L1741.3,2380.1 L1742.9,2381.5 L1744.5,2382.9 L1746.1,2384.3 L1747.8,2385.6 L1749.5,2387.0 L1751.2,2388.3 L1752.9,2389.6 L1754.7,2390.8 L1756.4,2392.1 L1758.2,2393.3 L1760.0,2394.5 L1761.8,2395.7 L1763.7,2396.9 L1765.5,2398.0 L1767.4,2399.2 L1769.3,2400.3 L1771.2,2401.4 L1773.1,2402.5 L1775.0,2403.5 L1777.0,2404.6 L1778.9,2405.6 L1780.9,2406.6 L1782.9,2407.6 L1784.9,2408.6 L1786.9,2409.6 L1788.9,2410.6 L1790.9,2411.5 L1792.9,2412.5 L1795.0,2413.4 L1797.0,2414.3 L1799.1,2415.2 L1801.1,2416.1 L1803.2,2417.0 L1805.3,2417.9 L1807.4,2418.8 L1809.5,2419.6 L1811.5,2420.5 L1813.6,2421.3 L1815.7,2422.2 L1817.8,2423.0 L1819.9,2423.8 L1822.0,2424.6 L1824.2,2425.4 L1826.3,2426.2 L1828.4,2427.0 L1830.5,2427.8 L1832.6,2428.6 L1834.7,2429.4 L1836.8,2430.2 L1838.9,2430.9 L1841.0,2431.7 L1843.1,2432.5 L1845.2,2433.2 L1847.2,2434.0 L1849.3,2434.7 L1851.4,2435.5 L1853.5,2436.3 L1855.5,2437.0 L1857.6,2437.8 L1859.6,2438.5 L1861.6,2439.3 L1863.7,2440.0 L1865.7,2440.8 L1867.7,2441.6 L1869.7,2442.3 L1871.7,2443.1 L1873.6,2443.8 L1875.6,2444.6" fill="none" stroke="#0a9de0" stroke-width="1.3" stroke-linecap="butt" stroke-linejoin="round"/>
<path d="M1247.0,2103.8 L1255.7,2107.1 L1264.5,2110.5 L1273.2,2113.9 L1282.0,2117.4 L1290.7,2120.9 L1299.5,2124.5 L1308.2,2128.1 L1317.0,2131.7 L1325.7,2135.4 L1334.4,2139.1 L1343.2,2142.9 L1351.9,2146.7 L1360.7,2150.6 L1369.4,2154.4 L1378.2,2158.4 L1386.9,2162.3 L1395.7,2166.3 L1404.4,2170.3 L1413.1,2174.4 L1421.9,2178.5 L1430.6,2182.6 L1439.4,2186.8 L1448.1,2191.0 L1456.9,2195.3 L1465.6,2199.5 L1474.4,2203.8 L1483.1,2208.2 L1491.8,2212.5 L1500.6,2216.9 L1509.3,2221.3 L1518.1,2225.8 L1526.8,2230.3 L1535.6,2234.8 L1544.3,2239.3 L1553.1,2243.9 L1561.8,2248.5 L1570.5,2253.1 L1579.3,2257.7 L1588.0,2262.4 L1596.8,2267.1 L1605.5,2271.8 L1614.3,2276.5 L1623.0,2281.3 L1631.7,2286.1 L1640.5,2290.9 L1649.2,2295.7 L1658.0,2300.5 L1666.7,2305.4 L1675.5,2310.3 L1684.2,2315.2 L1693.0,2320.1 L1701.7,2325.0 L1710.4,2330.0 L1719.2,2334.9 L1727.9,2339.9 L1736.7,2344.9 L1745.4,2349.9 L1754.2,2354.9 L1762.9,2360.0 L1771.7,2365.0 L1780.4,2370.1 L1789.1,2375.2 L1797.9,2380.2 L1806.6,2385.3 L1815.4,2390.5 L1824.1,2395.6 L1832.9,2400.7 L1841.6,2405.8 L1850.4,2411.0 L1859.1,2416.1 L1867.8,2421.3 L1876.6,2426.4 L1885.3,2431.6 L1894.1,2436.8 L1902.8,2442.0 L1911.6,2447.1 L1920.3,2452.3 L1929.1,2457.5 L1937.8,2462.7" fill="none" stroke="#0b57a0" stroke-width="5.7" stroke-linecap="butt" stroke-linejoin="round"/>
<path d="M1247.0,2192.3 L1255.2,2195.2 L1263.4,2198.0 L1271.5,2200.9 L1279.7,2203.7 L1287.9,2206.6 L1296.1,2209.5 L1304.3,2212.4 L1312.4,2215.3 L1320.6,2218.2 L1328.8,2221.1 L1337.0,2224.0 L1345.2,2226.9 L1353.3,2229.8 L1361.5,2232.8 L1369.7,2235.7 L1377.9,2238.7 L1386.1,2241.6 L1394.2,2244.6 L1402.4,2247.6 L1410.6,2250.6 L1418.8,2253.6 L1427.0,2256.6 L1435.1,2259.6 L1443.3,2262.7 L1451.5,2265.7 L1459.7,2268.8 L1467.9,2271.9 L1476.0,2275.0 L1484.2,2278.1 L1492.4,2281.2 L1500.6,2284.4 L1508.8,2287.5 L1516.9,2290.7 L1525.1,2293.9 L1533.3,2297.1 L1541.5,2300.3 L1549.7,2303.6 L1557.8,2306.9 L1566.0,2310.1 L1574.2,2313.4 L1582.4,2316.8 L1590.5,2320.1 L1598.7,2323.5 L1606.9,2326.9 L1615.1,2330.3 L1623.3,2333.7 L1631.4,2337.2 L1639.6,2340.6 L1647.8,2344.1 L1656.0,2347.7 L1664.2,2351.2 L1672.3,2354.8 L1680.5,2358.4 L1688.7,2362.0 L1696.9,2365.7 L1705.1,2369.3 L1713.2,2373.1 L1721.4,2376.8 L1729.6,2380.5 L1737.8,2384.3 L1746.0,2388.1 L1754.1,2392.0 L1762.3,2395.9 L1770.5,2399.8 L1778.7,2403.7 L1786.9,2407.7 L1795.0,2411.7 L1803.2,2415.7 L1811.4,2419.8 L1819.6,2423.8 L1827.8,2428.0 L1835.9,2432.1 L1844.1,2436.3 L1852.3,2440.5 L1860.5,2444.8 L1868.7,2449.1 L1876.8,2453.4 L1885.0,2457.8 L1893.2,2462.2" fill="none" stroke="#0b57a0" stroke-width="5.7" stroke-linecap="butt" stroke-linejoin="round"/>
<path d="M1248.8,2282.5 L1256.4,2284.7 L1263.9,2286.9 L1271.5,2289.1 L1279.1,2291.3 L1286.6,2293.4 L1294.2,2295.5 L1301.8,2297.6 L1309.4,2299.7 L1316.9,2301.7 L1324.5,2303.8 L1332.1,2305.8 L1339.6,2307.8 L1347.2,2309.7 L1354.8,2311.7 L1362.3,2313.7 L1369.9,2315.6 L1377.5,2317.5 L1385.1,2319.5 L1392.6,2321.4 L1400.2,2323.3 L1407.8,2325.2 L1415.3,2327.1 L1422.9,2329.0 L1430.5,2330.8 L1438.0,2332.7 L1445.6,2334.6 L1453.2,2336.5 L1460.7,2338.4 L1468.3,2340.2 L1475.9,2342.1 L1483.5,2344.0 L1491.0,2345.9 L1498.6,2347.8 L1506.2,2349.7 L1513.7,2351.6 L1521.3,2353.6 L1528.9,2355.5 L1536.4,2357.4 L1544.0,2359.4 L1551.6,2361.4 L1559.2,2363.3 L1566.7,2365.3 L1574.3,2367.4 L1581.9,2369.4 L1589.4,2371.4 L1597.0,2373.5 L1604.6,2375.6 L1612.1,2377.7 L1619.7,2379.9 L1627.3,2382.0 L1634.9,2384.2 L1642.4,2386.4 L1650.0,2388.7 L1657.6,2390.9 L1665.1,2393.2 L1672.7,2395.5 L1680.3,2397.9 L1687.8,2400.3 L1695.4,2402.7 L1703.0,2405.2 L1710.5,2407.6 L1718.1,2410.2 L1725.7,2412.7 L1733.3,2415.3 L1740.8,2418.0 L1748.4,2420.7 L1756.0,2423.4 L1763.5,2426.2 L1771.1,2429.0 L1778.7,2431.8 L1786.2,2434.7 L1793.8,2437.7 L1801.4,2440.7 L1809.0,2443.7 L1816.5,2446.8 L1824.1,2449.9 L1831.7,2453.1 L1839.2,2456.4 L1846.8,2459.7" fill="none" stroke="#0b57a0" stroke-width="5.7" stroke-linecap="butt" stroke-linejoin="round"/>
<path d="M1247.0,2372.0 L1253.1,2373.2 L1259.3,2374.3 L1265.4,2375.4 L1271.6,2376.6 L1277.7,2377.7 L1283.9,2378.8 L1290.0,2379.8 L1296.1,2380.9 L1302.3,2382.0 L1308.4,2383.0 L1314.6,2384.1 L1320.7,2385.1 L1326.9,2386.1 L1333.0,2387.2 L1339.1,2388.2 L1345.3,2389.2 L1351.4,2390.2 L1357.6,2391.2 L1363.7,2392.2 L1369.9,2393.1 L1376.0,2394.1 L1382.1,2395.1 L1388.3,2396.1 L1394.4,2397.0 L1400.6,2398.0 L1406.7,2399.0 L1412.9,2399.9 L1419.0,2400.9 L1425.1,2401.9 L1431.3,2402.8 L1437.4,2403.8 L1443.6,2404.8 L1449.7,2405.7 L1455.9,2406.7 L1462.0,2407.7 L1468.1,2408.7 L1474.3,2409.7 L1480.4,2410.6 L1486.6,2411.6 L1492.7,2412.6 L1498.9,2413.6 L1505.0,2414.6 L1511.2,2415.7 L1517.3,2416.7 L1523.4,2417.7 L1529.6,2418.7 L1535.7,2419.8 L1541.9,2420.9 L1548.0,2421.9 L1554.2,2423.0 L1560.3,2424.1 L1566.4,2425.2 L1572.6,2426.3 L1578.7,2427.4 L1584.9,2428.6 L1591.0,2429.7 L1597.2,2430.9 L1603.3,2432.0 L1609.4,2433.2 L1615.6,2434.4 L1621.7,2435.7 L1627.9,2436.9 L1634.0,2438.2 L1640.2,2439.4 L1646.3,2440.7 L1652.4,2442.1 L1658.6,2443.4 L1664.7,2444.7 L1670.9,2446.1 L1677.0,2447.5 L1683.2,2448.9 L1689.3,2450.3 L1695.4,2451.8 L1701.6,2453.3 L1707.7,2454.8 L1713.9,2456.3 L1720.0,2457.8 L1726.2,2459.4 L1732.3,2461.0" fill="none" stroke="#0b57a0" stroke-width="5.7" stroke-linecap="butt" stroke-linejoin="round"/>
<rect x="1289.1" y="2110.2" width="35.2" height="31.2" fill="#fff" stroke="#0b57a0" stroke-width="5.3" />
<text x="1306.7" y="2133.4" font-size="21.5" text-anchor="middle">8</text>
<rect x="1289.1" y="2196.4" width="35.2" height="31.2" fill="#fff" stroke="#0b57a0" stroke-width="5.3" />
<text x="1306.7" y="2219.6" font-size="21.5" text-anchor="middle">6</text>
<rect x="1289.1" y="2283.1" width="35.2" height="31.2" fill="#fff" stroke="#0b57a0" stroke-width="5.3" />
<text x="1306.7" y="2306.3" font-size="21.5" text-anchor="middle">4</text>
<rect x="1289.1" y="2368.4" width="35.2" height="31.2" fill="#fff" stroke="#0b57a0" stroke-width="5.3" />
<text x="1306.7" y="2391.6" font-size="21.5" text-anchor="middle">2</text>
<text x="1355.5" y="2188.5" font-size="17.5" fill="#0a9de0">1,0</text>
<text x="1355.5" y="2211.5" font-size="17.5" fill="#0a9de0" font-style="italic">35,3</text>
<text x="1419.0" y="2212.8" font-size="17.5" fill="#0a9de0">1,5</text>
<text x="1419.0" y="2235.8" font-size="17.5" fill="#0a9de0" font-style="italic">53,0</text>
<text x="1503.7" y="2256.7" font-size="17.5" fill="#0a9de0">2,0</text>
<text x="1503.7" y="2279.7" font-size="17.5" fill="#0a9de0" font-style="italic">70,6</text>
<text x="1584.6" y="2234.1" font-size="17.5" fill="#0a9de0">2,5</text>
<text x="1584.6" y="2257.1" font-size="17.5" fill="#0a9de0" font-style="italic">88,3</text>
<text x="1706.5" y="2300.5" font-size="17.5" fill="#0a9de0">3,0</text>
<text x="1706.5" y="2323.5" font-size="17.5" fill="#0a9de0" font-style="italic">106</text>
<line x1="1245.5" y1="1101.2" x2="1288.0" y2="1101.2" stroke="#e2101a" stroke-width="4.5" />
<line x1="1309.0" y1="1101.2" x2="1354.0" y2="1101.2" stroke="#e2101a" stroke-width="4.5" />
<line x1="1375.0" y1="1101.2" x2="1419.0" y2="1101.2" stroke="#e2101a" stroke-width="4.5" />
<line x1="1440.0" y1="1101.2" x2="1488.6" y2="1101.2" stroke="#e2101a" stroke-width="4.5" />
<line x1="1488.6" y1="1101.2" x2="1488.6" y2="1146.0" stroke="#e2101a" stroke-width="4.5" />
<line x1="1488.6" y1="1166.0" x2="1488.6" y2="1209.5" stroke="#e2101a" stroke-width="4.5" />
<circle cx="1245.5" cy="1101.2" r="8" fill="#e2101a"/>
<circle cx="1488.6" cy="1101.2" r="8" fill="#e2101a"/>
<circle cx="1488.6" cy="1209.5" r="8" fill="#e2101a"/>
<text x="402.0" y="2638.8" font-size="31.5" textLength="1406.0" lengthAdjust="spacingAndGlyphs">Recommended flow is half of the max flow, i.e. recommended flow for a T80 is 40 l/min (10.6 US gpm).</text>
<text x="105.0" y="2724.5" font-size="73.4" font-weight="bold" fill="#0b5aa2" textLength="582.5" lengthAdjust="spacingAndGlyphs">Capacity changes</text>
<text x="236.6" y="2804.5" font-size="31" font-weight="bold" textLength="611.0" lengthAdjust="spacingAndGlyphs">Capacity changes at different suction lifts</text>
<rect x="244.5" y="2844.5" width="823.3" height="50.2" fill="#ebebeb" />
<rect x="244.5" y="2901.2" width="82.5" height="175.6" fill="#ebebeb" />
<text x="656.7" y="2865.5" font-size="20" font-weight="bold" text-anchor="middle" textLength="135.5" lengthAdjust="spacingAndGlyphs">Suction lift (m)</text>
<text x="336.7" y="2890.0" font-size="21" text-anchor="middle">0</text>
<text x="403.1" y="2890.0" font-size="21" text-anchor="middle">1</text>
<text x="469.6" y="2890.0" font-size="21" text-anchor="middle">2</text>
<text x="536.0" y="2890.0" font-size="21" text-anchor="middle">3</text>
<text x="602.5" y="2890.0" font-size="21" text-anchor="middle">4</text>
<text x="669.0" y="2890.0" font-size="21" text-anchor="middle">5</text>
<text x="735.4" y="2890.0" font-size="21" text-anchor="middle">6</text>
<text x="801.9" y="2890.0" font-size="21" text-anchor="middle">7</text>
<text x="868.3" y="2890.0" font-size="21" text-anchor="middle">8</text>
<text x="934.8" y="2890.0" font-size="21" text-anchor="middle">9</text>
<text x="1001.2" y="2890.0" font-size="21" text-anchor="middle">10</text>
<line x1="336.7" y1="2902.7" x2="336.7" y2="3076.8" stroke="#e0e0e0" stroke-width="1.3" />
<line x1="403.2" y1="2902.7" x2="403.2" y2="3076.8" stroke="#e0e0e0" stroke-width="1.3" />
<line x1="469.6" y1="2902.7" x2="469.6" y2="3076.8" stroke="#e0e0e0" stroke-width="1.3" />
<line x1="536.1" y1="2902.7" x2="536.1" y2="3076.8" stroke="#e0e0e0" stroke-width="1.3" />
<line x1="602.6" y1="2902.7" x2="602.6" y2="3076.8" stroke="#e0e0e0" stroke-width="1.3" />
<line x1="669.0" y1="2902.7" x2="669.0" y2="3076.8" stroke="#e0e0e0" stroke-width="1.3" />
<line x1="735.5" y1="2902.7" x2="735.5" y2="3076.8" stroke="#e0e0e0" stroke-width="1.3" />
<line x1="801.9" y1="2902.7" x2="801.9" y2="3076.8" stroke="#e0e0e0" stroke-width="1.3" />
<line x1="868.4" y1="2902.7" x2="868.4" y2="3076.8" stroke="#e0e0e0" stroke-width="1.3" />
<line x1="934.9" y1="2902.7" x2="934.9" y2="3076.8" stroke="#e0e0e0" stroke-width="1.3" />
<line x1="1001.3" y1="2902.7" x2="1001.3" y2="3076.8" stroke="#e0e0e0" stroke-width="1.3" />
<line x1="1067.8" y1="2902.7" x2="1067.8" y2="3076.8" stroke="#e0e0e0" stroke-width="1.3" />
<line x1="336.7" y1="2902.7" x2="1067.8" y2="2902.7" stroke="#e0e0e0" stroke-width="1.3" />
<line x1="336.7" y1="2937.5" x2="1067.8" y2="2937.5" stroke="#e0e0e0" stroke-width="1.3" />
<line x1="336.7" y1="2972.3" x2="1067.8" y2="2972.3" stroke="#e0e0e0" stroke-width="1.3" />
<line x1="336.7" y1="3007.2" x2="1067.8" y2="3007.2" stroke="#e0e0e0" stroke-width="1.3" />
<line x1="336.7" y1="3042.0" x2="1067.8" y2="3042.0" stroke="#e0e0e0" stroke-width="1.3" />
<line x1="336.7" y1="3076.8" x2="1067.8" y2="3076.8" stroke="#e0e0e0" stroke-width="1.3" />
<text x="324.0" y="2945.0" font-size="21" text-anchor="end">80</text>
<text x="324.0" y="2979.8" font-size="21" text-anchor="end">60</text>
<text x="324.0" y="3014.7" font-size="21" text-anchor="end">40</text>
<text x="324.0" y="3049.5" font-size="21" text-anchor="end">20</text>
<text x="0.0" y="0.0" font-size="20" font-weight="bold" text-anchor="middle" textLength="156.0" lengthAdjust="spacingAndGlyphs" transform="translate(269.8,2989.8) rotate(-90)">% of normal flow</text>
<path d="M336.7,2902.7 L343.0,2903.8 L349.3,2904.9 L355.7,2906.0 L362.1,2907.0 L368.4,2908.0 L374.9,2908.9 L381.3,2909.8 L387.7,2910.7 L394.2,2911.5 L400.7,2912.3 L407.2,2913.1 L413.8,2913.9 L420.3,2914.6 L426.9,2915.3 L433.5,2916.0 L440.1,2916.6 L446.7,2917.2 L453.3,2917.9 L459.9,2918.5 L466.6,2919.1 L473.2,2919.6 L479.9,2920.2 L486.6,2920.8 L493.2,2921.3 L499.9,2921.9 L506.6,2922.4 L513.3,2923.0 L520.0,2923.5 L526.7,2924.1 L533.4,2924.6 L540.1,2925.2 L546.8,2925.7 L553.5,2926.3 L560.2,2926.9 L567.0,2927.5 L573.7,2928.1 L580.4,2928.8 L587.1,2929.4 L593.7,2930.1 L600.4,2930.8 L607.1,2931.5 L613.8,2932.3 L620.4,2933.1 L627.1,2933.9 L633.7,2934.7 L640.4,2935.6 L647.0,2936.5 L653.6,2937.4 L660.2,2938.4 L666.8,2939.4 L673.3,2940.5 L679.9,2941.6 L686.4,2942.8 L692.9,2944.0 L699.4,2945.2 L705.9,2946.5 L712.4,2947.9 L718.8,2949.3 L725.2,2950.8 L731.6,2952.3 L738.0,2953.9 L744.3,2955.5 L750.6,2957.3 L756.9,2959.0 L763.2,2960.9 L769.4,2962.8 L775.6,2964.8 L781.8,2966.9 L787.9,2969.0 L794.0,2971.2 L800.1,2973.5 L806.1,2975.9 L812.1,2978.3 L818.1,2980.9 L824.0,2983.5 L829.9,2986.2 L835.7,2989.0 L841.5,2991.9 L847.2,2994.9 L852.9,2998.0 L858.6,3001.1 L864.2,3004.4 L869.7,3007.8 L875.3,3011.2 L880.7,3014.8 L886.1,3018.5 L891.5,3022.3 L896.7,3026.2 L902.0,3030.2 L907.2,3034.3 L912.3,3038.6 L917.3,3042.9 L922.3,3047.4 L927.3,3052.0 L932.1,3056.7 L936.9,3061.5 L941.7,3066.5 L946.4,3071.6 L951.0,3076.8" fill="none" stroke="#0a9de0" stroke-width="2.4" stroke-linecap="butt" stroke-linejoin="round"/>
<text x="1158.8" y="2804.5" font-size="31" font-weight="bold" textLength="591.6" lengthAdjust="spacingAndGlyphs">Capacity changes at different viscosities</text>
<rect x="1161.0" y="2844.4" width="840.3" height="52.3" fill="#ebebeb" />
<rect x="1161.0" y="2901.9" width="83.8" height="179.6" fill="#ebebeb" />
<text x="1583.9" y="2865.5" font-size="20" font-weight="bold" text-anchor="middle" textLength="129.0" lengthAdjust="spacingAndGlyphs">Viscosity (cPs)</text>
<text x="1255.8" y="2890.0" font-size="21" text-anchor="middle">0</text>
<text x="1322.0" y="2890.0" font-size="21" text-anchor="middle">2000</text>
<text x="1389.2" y="2890.0" font-size="21" text-anchor="middle">4000</text>
<text x="1456.0" y="2890.0" font-size="21" text-anchor="middle">6000</text>
<text x="1524.3" y="2890.0" font-size="21" text-anchor="middle">8000</text>
<text x="1590.5" y="2890.0" font-size="21" text-anchor="middle">10000</text>
<text x="1658.3" y="2890.0" font-size="21" text-anchor="middle">12000</text>
<text x="1727.8" y="2890.0" font-size="21" text-anchor="middle">14000</text>
<text x="1798.9" y="2890.0" font-size="21" text-anchor="middle">16000</text>
<text x="1862.3" y="2890.0" font-size="21" text-anchor="middle">18000</text>
<text x="1931.2" y="2890.0" font-size="21" text-anchor="middle">20000</text>
<line x1="1252.0" y1="2903.4" x2="1252.0" y2="3081.5" stroke="#e0e0e0" stroke-width="1.3" />
<line x1="1320.0" y1="2903.4" x2="1320.0" y2="3081.5" stroke="#e0e0e0" stroke-width="1.3" />
<line x1="1388.0" y1="2903.4" x2="1388.0" y2="3081.5" stroke="#e0e0e0" stroke-width="1.3" />
<line x1="1456.1" y1="2903.4" x2="1456.1" y2="3081.5" stroke="#e0e0e0" stroke-width="1.3" />
<line x1="1524.1" y1="2903.4" x2="1524.1" y2="3081.5" stroke="#e0e0e0" stroke-width="1.3" />
<line x1="1592.1" y1="2903.4" x2="1592.1" y2="3081.5" stroke="#e0e0e0" stroke-width="1.3" />
<line x1="1660.1" y1="2903.4" x2="1660.1" y2="3081.5" stroke="#e0e0e0" stroke-width="1.3" />
<line x1="1728.1" y1="2903.4" x2="1728.1" y2="3081.5" stroke="#e0e0e0" stroke-width="1.3" />
<line x1="1796.1" y1="2903.4" x2="1796.1" y2="3081.5" stroke="#e0e0e0" stroke-width="1.3" />
<line x1="1864.2" y1="2903.4" x2="1864.2" y2="3081.5" stroke="#e0e0e0" stroke-width="1.3" />
<line x1="1932.2" y1="2903.4" x2="1932.2" y2="3081.5" stroke="#e0e0e0" stroke-width="1.3" />
<line x1="2000.2" y1="2903.4" x2="2000.2" y2="3081.5" stroke="#e0e0e0" stroke-width="1.3" />
<line x1="1252.0" y1="2903.4" x2="2000.2" y2="2903.4" stroke="#e0e0e0" stroke-width="1.3" />
<line x1="1252.0" y1="2939.0" x2="2000.2" y2="2939.0" stroke="#e0e0e0" stroke-width="1.3" />
<line x1="1252.0" y1="2974.6" x2="2000.2" y2="2974.6" stroke="#e0e0e0" stroke-width="1.3" />
<line x1="1252.0" y1="3010.3" x2="2000.2" y2="3010.3" stroke="#e0e0e0" stroke-width="1.3" />
<line x1="1252.0" y1="3045.9" x2="2000.2" y2="3045.9" stroke="#e0e0e0" stroke-width="1.3" />
<line x1="1252.0" y1="3081.5" x2="2000.2" y2="3081.5" stroke="#e0e0e0" stroke-width="1.3" />
<text x="1241.8" y="2946.5" font-size="21" text-anchor="end">80</text>
<text x="1241.8" y="2982.1" font-size="21" text-anchor="end">60</text>
<text x="1241.8" y="3017.8" font-size="21" text-anchor="end">40</text>
<text x="1241.8" y="3053.4" font-size="21" text-anchor="end">20</text>
<text x="0.0" y="0.0" font-size="20" font-weight="bold" text-anchor="middle" textLength="156.0" lengthAdjust="spacingAndGlyphs" transform="translate(1186.9,2992.4) rotate(-90)">% of normal flow</text>
<path d="M1252.0,2903.4 L1258.6,2905.7 L1265.3,2908.1 L1271.9,2910.4 L1278.5,2912.7 L1285.2,2915.0 L1291.8,2917.4 L1298.5,2919.7 L1305.1,2922.0 L1311.8,2924.3 L1318.5,2926.6 L1325.1,2928.9 L1331.8,2931.2 L1338.5,2933.5 L1345.2,2935.7 L1351.9,2938.0 L1358.6,2940.3 L1365.3,2942.5 L1372.0,2944.8 L1378.7,2947.0 L1385.4,2949.2 L1392.2,2951.4 L1398.9,2953.6 L1405.6,2955.8 L1412.4,2958.0 L1419.1,2960.1 L1425.9,2962.2 L1432.6,2964.4 L1439.4,2966.5 L1446.2,2968.6 L1452.9,2970.7 L1459.7,2972.7 L1466.5,2974.8 L1473.3,2976.8 L1480.1,2978.8 L1486.9,2980.8 L1493.7,2982.8 L1500.5,2984.7 L1507.3,2986.7 L1514.1,2988.6 L1521.0,2990.5 L1527.8,2992.4 L1534.6,2994.2 L1541.5,2996.0 L1548.3,2997.8 L1555.2,2999.6 L1562.0,3001.4 L1568.9,3003.1 L1575.7,3004.8 L1582.6,3006.5 L1589.5,3008.1 L1596.4,3009.7 L1603.2,3011.3 L1610.1,3012.9 L1617.0,3014.4 L1623.9,3016.0 L1630.8,3017.4 L1637.7,3018.9 L1644.6,3020.3 L1651.6,3021.7 L1658.5,3023.1 L1665.4,3024.4 L1672.4,3025.7 L1679.3,3026.9 L1686.2,3028.2 L1693.2,3029.3 L1700.1,3030.5 L1707.1,3031.6 L1714.1,3032.7 L1721.0,3033.7 L1728.0,3034.8 L1735.0,3035.7 L1742.0,3036.7 L1748.9,3037.6 L1755.9,3038.4 L1762.9,3039.2 L1769.9,3040.0 L1776.9,3040.8 L1784.0,3041.4 L1791.0,3042.1 L1798.0,3042.7 L1805.0,3043.3 L1812.1,3043.8 L1819.1,3044.3 L1826.1,3044.7 L1833.2,3045.1 L1840.2,3045.5 L1847.3,3045.8 L1854.3,3046.0 L1861.4,3046.2 L1868.5,3046.4 L1875.5,3046.5 L1882.6,3046.6 L1889.7,3046.6 L1896.8,3046.5 L1903.9,3046.5 L1911.0,3046.3 L1918.1,3046.1 L1925.2,3045.9 L1932.3,3045.6" fill="none" stroke="#0a9de0" stroke-width="2.4" stroke-linecap="butt" stroke-linejoin="round"/>
<text x="892.6" y="3126.5" font-size="31.5" textLength="460.0" lengthAdjust="spacingAndGlyphs">Changes reserved without notice</text></svg>
</body></html>
